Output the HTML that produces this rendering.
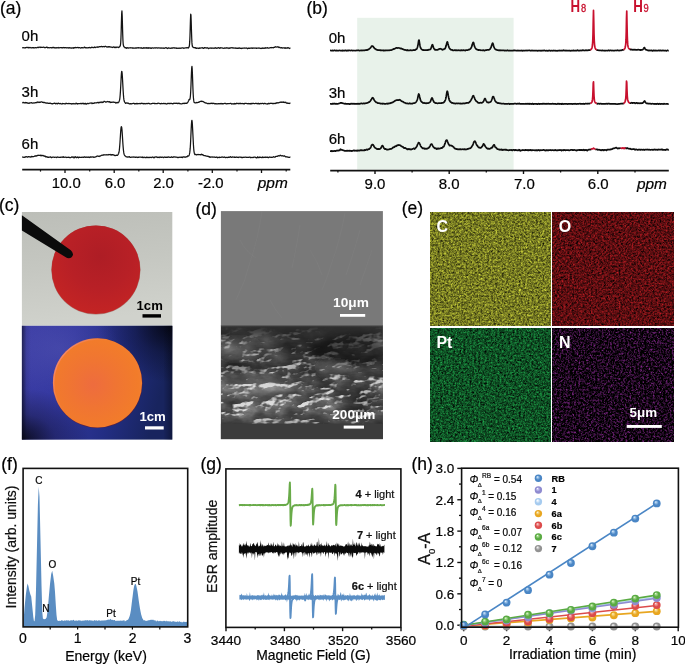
<!DOCTYPE html><html><head><meta charset="utf-8"><style>html,body{margin:0;padding:0;background:#fff;}svg{display:block;will-change:transform;}text{font-family:"Liberation Sans",sans-serif;} .k{stroke:#111;stroke-width:0.22px;}</style></head><body>
<svg width="685" height="664" viewBox="0 0 685 664">
<rect width="685" height="664" fill="#fff"/>
<g id="pa">
<text x="0" y="14.3" font-size="17.5" text-anchor="start" class="k">(a)</text>
<text x="21.6" y="41" font-size="15" text-anchor="start" class="k">0h</text>
<text x="21.6" y="96.7" font-size="15" text-anchor="start" class="k">3h</text>
<text x="21.6" y="149.2" font-size="15" text-anchor="start" class="k">6h</text>
<path d="M22.2 47.83L22.45 47.8L22.7 47.7L22.95 47.61L23.2 47.53L23.45 47.64L23.7 47.85L23.95 47.91L24.2 47.83L24.45 47.73L24.7 47.83L24.95 47.91L25.2 47.74L25.45 47.7L25.7 47.77L25.95 47.72L26.2 47.67L26.45 47.37L26.7 47.37L26.95 47.21L27.2 47.41L27.45 47.41L27.7 47.65L27.95 47.7L28.2 47.83L28.45 47.5L28.7 47.42L28.95 47.43L29.2 47.74L29.45 47.62L29.7 47.57L29.95 47.45L30.2 47.53L30.45 47.71L30.7 47.73L30.95 47.81L31.2 47.79L31.45 47.82L31.7 47.8L31.95 47.71L32.2 47.78L32.45 47.65L32.7 47.64L32.95 47.78L33.2 47.74L33.45 47.83L33.7 47.67L33.95 47.77L34.2 47.9L34.45 47.96L34.7 47.89L34.95 47.65L35.2 47.62L35.45 47.72L35.7 47.78L35.95 47.69L36.2 47.77L36.45 47.85L36.7 47.76L36.95 47.69L37.2 47.45L37.45 47.52L37.7 47.34L37.95 47.31L38.2 47.25L38.45 47.48L38.7 47.66L38.95 47.51L39.2 47.29L39.45 47.22L39.7 47.13L39.95 47.15L40.2 47.05L40.45 47.42L40.7 47.54L40.95 47.5L41.2 47.31L41.45 47.19L41.7 47.41L41.95 47.4L42.2 47.39L42.45 47.26L42.7 47.3L42.95 47.32L43.2 47.15L43.45 47.18L43.7 47.16L43.95 47.44L44.2 47.53L44.45 47.59L44.7 47.55L44.95 47.45L45.2 47.6L45.45 47.54L45.7 47.66L45.95 47.41L46.2 47.47L46.45 47.22L46.7 47.15L46.95 47.1L47.2 47.21L47.45 47.48L47.7 47.79L47.95 47.82L48.2 47.74L48.45 47.52L48.7 47.68L48.95 47.75L49.2 47.71L49.45 47.75L49.7 47.84L49.95 47.75L50.2 47.67L50.45 47.62L50.7 47.62L50.95 47.67L51.2 47.57L51.45 47.81L51.7 47.81L51.95 47.92L52.2 47.74L52.45 47.71L52.7 47.47L52.95 47.41L53.2 47.47L53.45 47.45L53.7 47.68L53.95 47.44L54.2 47.78L54.45 47.58L54.7 47.88L54.95 47.8L55.2 47.72L55.45 47.78L55.7 47.93L55.95 48.1L56.2 47.93L56.45 47.74L56.7 47.63L56.95 47.79L57.2 47.75L57.45 47.86L57.7 47.64L57.95 47.63L58.2 47.48L58.45 47.72L58.7 47.78L58.95 48.04L59.2 47.89L59.45 47.83L59.7 47.68L59.95 47.61L60.2 47.7L60.45 47.69L60.7 47.72L60.95 47.56L61.2 47.51L61.45 47.74L61.7 47.82L61.95 47.79L62.2 47.64L62.45 47.88L62.7 47.83L62.95 47.77L63.2 47.53L63.45 47.49L63.7 47.6L63.95 47.68L64.2 47.89L64.45 47.72L64.7 47.77L64.95 47.7L65.2 47.77L65.45 47.59L65.7 47.51L65.95 47.68L66.2 47.75L66.45 47.93L66.7 47.77L66.95 47.78L67.2 47.68L67.45 47.76L67.7 47.78L67.95 47.82L68.2 47.75L68.45 47.92L68.7 48.02L68.95 48.06L69.2 47.86L69.45 47.62L69.7 47.68L69.95 47.86L70.2 48L70.45 47.96L70.7 47.94L70.95 48.05L71.2 48.09L71.45 47.95L71.7 48.03L71.95 47.78L72.2 47.93L72.45 47.81L72.7 48.06L72.95 48.18L73.2 48.29L73.45 48.06L73.7 47.64L73.95 47.56L74.2 47.58L74.45 47.77L74.7 47.78L74.95 47.7L75.2 47.46L75.45 47.39L75.7 47.59L75.95 47.8L76.2 47.78L76.45 47.67L76.7 47.52L76.95 47.5L77.2 47.49L77.45 47.47L77.7 47.55L77.95 47.66L78.2 47.89L78.45 47.72L78.7 47.65L78.95 47.49L79.2 47.5L79.45 47.6L79.7 47.62L79.95 47.77L80.2 47.78L80.45 48.11L80.7 47.91L80.95 47.97L81.2 47.72L81.45 47.88L81.7 47.61L81.95 47.56L82.2 47.65L82.45 47.81L82.7 47.87L82.95 47.75L83.2 47.89L83.45 47.88L83.7 47.65L83.95 47.44L84.2 47.21L84.45 47.08L84.7 47.1L84.95 47.48L85.2 47.86L85.45 47.78L85.7 47.52L85.95 47.64L86.2 47.79L86.45 47.9L86.7 47.76L86.95 47.74L87.2 47.82L87.45 47.88L87.7 47.9L87.95 47.68L88.2 47.66L88.45 47.55L88.7 47.79L88.95 47.58L89.2 47.63L89.45 47.49L89.7 47.47L89.95 47.68L90.2 47.84L90.45 47.93L90.7 47.8L90.95 47.66L91.2 47.4L91.45 47.32L91.7 47.25L91.95 47.55L92.2 47.38L92.45 47.34L92.7 47.29L92.95 47.53L93.2 47.59L93.45 47.58L93.7 47.6L93.95 47.48L94.2 47.41L94.45 47L94.7 47.22L94.95 47.36L95.2 47.65L95.45 47.52L95.7 47.4L95.95 47.29L96.2 47.16L96.45 47.09L96.7 47.05L96.95 47.23L97.2 47.29L97.45 47.25L97.7 46.98L97.95 46.82L98.2 46.98L98.45 47.09L98.7 47.14L98.95 46.89L99.2 46.68L99.45 46.64L99.7 46.76L99.95 46.82L100.2 46.78L100.45 46.64L100.7 46.67L100.95 46.5L101.2 46.48L101.45 46.35L101.7 46.63L101.95 46.55L102.2 46.71L102.45 46.77L102.7 46.81L102.95 46.67L103.2 46.51L103.45 46.54L103.7 46.49L103.95 46.52L104.2 46.76L104.45 46.84L104.7 46.77L104.95 46.42L105.2 46.49L105.45 46.38L105.7 46.38L105.95 46.5L106.2 46.55L106.45 46.82L106.7 46.86L106.95 47.01L107.2 46.97L107.45 47.03L107.7 47L107.95 46.89L108.2 46.52L108.45 46.57L108.7 46.83L108.95 47.12L109.2 47.03L109.45 46.78L109.7 46.64L109.95 46.8L110.2 46.9L110.45 47.01L110.7 47.04L110.95 47.05L111.2 47.04L111.45 47.06L111.7 47.11L111.95 47.19L112.2 47.41L112.45 47.51L112.7 47.48L112.95 47.09L113.2 47.08L113.45 46.87L113.7 46.92L113.95 46.99L114.2 47.32L114.45 47.48L114.7 47.2L114.95 47.08L115.2 47.03L115.45 47.32L115.7 47.63L115.95 47.74L116.2 47.58L116.45 47.19L116.7 47.15L116.95 47.22L117.2 47.22L117.45 47.23L117.7 47.1L117.95 47.34L118.2 47.42L118.45 47.65L118.7 47.42L118.95 47.29L119.2 47.08L119.45 46.99L119.7 46.75L119.95 46.4L120.2 45.84L120.45 44.96L120.7 42.71L120.95 38.11L121.2 30.41L121.45 20.83L121.7 13.09L121.95 10.92L122.2 15.82L122.45 24.71L122.7 33.86L122.95 40.42L123.2 44.03L123.45 45.53L123.7 46.32L123.95 46.85L124.2 46.92L124.45 47.11L124.7 47.23L124.95 47.69L125.2 47.85L125.45 47.8L125.7 47.55L125.95 47.93L126.2 47.98L126.45 48.32L126.7 47.97L126.95 48.03L127.2 47.67L127.45 47.72L127.7 47.82L127.95 47.88L128.2 48.07L128.45 48L128.7 48.03L128.95 47.86L129.2 47.77L129.45 47.89L129.7 47.89L129.95 47.86L130.2 47.83L130.45 47.78L130.7 47.73L130.95 47.76L131.2 47.99L131.45 47.96L131.7 47.97L131.95 47.79L132.2 47.86L132.45 47.96L132.7 47.98L132.95 48.27L133.2 48.08L133.45 48.19L133.7 47.99L133.95 47.99L134.2 48.02L134.45 48.03L134.7 48.19L134.95 48.12L135.2 48.01L135.45 47.93L135.7 47.94L135.95 48.18L136.2 48.09L136.45 48.08L136.7 47.76L136.95 47.95L137.2 47.83L137.45 47.82L137.7 47.73L137.95 47.99L138.2 48.02L138.45 47.9L138.7 47.69L138.95 47.74L139.2 47.91L139.45 47.9L139.7 47.95L139.95 47.97L140.2 47.98L140.45 48.11L140.7 47.93L140.95 47.88L141.2 47.62L141.45 47.95L141.7 48.05L141.95 48.29L142.2 48.07L142.45 48.13L142.7 48.11L142.95 48.33L143.2 48.19L143.45 48.01L143.7 47.67L143.95 47.63L144.2 47.9L144.45 48.11L144.7 48.16L144.95 47.91L145.2 47.77L145.45 48.05L145.7 47.88L145.95 47.98L146.2 47.7L146.45 48.15L146.7 47.96L146.95 48.05L147.2 47.75L147.45 47.77L147.7 47.96L147.95 48.23L148.2 48.3L148.45 48.04L148.7 47.72L148.95 47.72L149.2 47.82L149.45 48.03L149.7 48.07L149.95 47.94L150.2 47.94L150.45 47.95L150.7 48.23L150.95 48.45L151.2 48.44L151.45 48.2L151.7 47.98L151.95 47.92L152.2 47.93L152.45 47.93L152.7 47.88L152.95 48.03L153.2 48.03L153.45 48.18L153.7 48.09L153.95 48.01L154.2 47.87L154.45 47.87L154.7 47.89L154.95 48.03L155.2 48.05L155.45 47.96L155.7 47.94L155.95 47.78L156.2 47.87L156.45 47.83L156.7 47.74L156.95 47.83L157.2 47.88L157.45 48.1L157.7 48.04L157.95 47.98L158.2 47.88L158.45 47.9L158.7 47.88L158.95 48.01L159.2 47.9L159.45 47.99L159.7 48L159.95 48.12L160.2 48.04L160.45 48.09L160.7 47.91L160.95 48.02L161.2 47.98L161.45 48.21L161.7 48.2L161.95 48.09L162.2 48.03L162.45 48.06L162.7 48.19L162.95 48.24L163.2 47.99L163.45 48L163.7 48.11L163.95 48.41L164.2 48.37L164.45 48.05L164.7 48.05L164.95 48L165.2 47.89L165.45 47.82L165.7 47.66L165.95 47.81L166.2 47.69L166.45 48.01L166.7 48.12L166.95 48.23L167.2 48.28L167.45 48.51L167.7 48.47L167.95 48.23L168.2 47.9L168.45 47.83L168.7 47.91L168.95 48.1L169.2 48.2L169.45 48.26L169.7 48.13L169.95 48.11L170.2 48.08L170.45 48.23L170.7 48.36L170.95 48.33L171.2 48.22L171.45 48.14L171.7 47.97L171.95 47.82L172.2 47.84L172.45 47.95L172.7 48.18L172.95 47.91L173.2 47.88L173.45 47.77L173.7 47.87L173.95 47.65L174.2 47.68L174.45 47.88L174.7 48.19L174.95 48.16L175.2 48.05L175.45 48.09L175.7 47.84L175.95 47.83L176.2 47.8L176.45 48.2L176.7 48.42L176.95 48.48L177.2 48.44L177.45 48.28L177.7 48.23L177.95 48.13L178.2 48.09L178.45 48.11L178.7 48.4L178.95 48.38L179.2 48.27L179.45 48.06L179.7 48.23L179.95 48.23L180.2 48.38L180.45 48.11L180.7 48.09L180.95 47.89L181.2 48.09L181.45 48.23L181.7 48.08L181.95 47.88L182.2 47.79L182.45 47.89L182.7 47.81L182.95 47.89L183.2 48.02L183.45 48.25L183.7 48.06L183.95 48.12L184.2 48.03L184.45 48.2L184.7 47.97L184.95 47.88L185.2 47.77L185.45 47.78L185.7 47.94L185.95 47.93L186.2 47.88L186.45 47.79L186.7 47.69L186.95 47.87L187.2 47.75L187.45 47.69L187.7 47.67L187.95 47.93L188.2 48.13L188.45 47.88L188.7 47.48L188.95 47.16L189.2 46.57L189.45 45.08L189.7 41.92L189.95 36.46L190.2 28.44L190.45 19.73L190.7 14.17L190.95 14.99L191.2 21.36L191.45 30.18L191.7 37.76L191.95 42.9L192.2 45.45L192.45 46.63L192.7 46.93L192.95 47.17L193.2 47.14L193.45 47.48L193.7 47.61L193.95 47.71L194.2 47.59L194.45 47.61L194.7 47.82L194.95 47.71L195.2 47.64L195.45 47.54L195.7 48.04L195.95 48.29L196.2 48.33L196.45 48.13L196.7 48.27L196.95 48.27L197.2 48.15L197.45 48.06L197.7 48.16L197.95 48.28L198.2 48.09L198.45 48.26L198.7 48.39L198.95 48.52L199.2 48.38L199.45 47.94L199.7 47.96L199.95 47.86L200.2 48.15L200.45 48.16L200.7 48.14L200.95 47.9L201.2 47.86L201.45 47.82L201.7 47.98L201.95 47.87L202.2 47.91L202.45 47.68L202.7 47.9L202.95 47.97L203.2 48.37L203.45 48.46L203.7 48.43L203.95 48.09L204.2 47.76L204.45 47.62L204.7 47.77L204.95 47.89L205.2 47.79L205.45 47.89L205.7 47.71L205.95 47.98L206.2 47.92L206.45 48.06L206.7 48.02L206.95 47.97L207.2 47.94L207.45 47.75L207.7 47.81L207.95 48.1L208.2 48.53L208.45 48.68L208.7 48.55L208.95 48.24L209.2 48.26L209.45 48.17L209.7 48.24L209.95 48.04L210.2 48.06L210.45 48.01L210.7 48.04L210.95 47.9L211.2 47.91L211.45 48.18L211.7 48.3L211.95 48.32L212.2 48.11L212.45 48.21L212.7 48.1L212.95 48.02L213.2 48.04L213.45 48.2L213.7 48.24L213.95 48.32L214.2 48.21L214.45 48.2L214.7 47.96L214.95 48.21L215.2 47.98L215.45 47.96L215.7 47.72L215.95 48.03L216.2 48.18L216.45 48.4L216.7 48.14L216.95 48.16L217.2 47.96L217.45 48.07L217.7 48.04L217.95 47.97L218.2 47.81L218.45 47.7L218.7 47.63L218.95 47.8L219.2 47.89L219.45 48.1L219.7 48.36L219.95 48.29L220.2 48.08L220.45 47.8L220.7 47.72L220.95 47.76L221.2 47.9L221.45 47.93L221.7 47.84L221.95 47.87L222.2 47.93L222.45 48.2L222.7 48.14L222.95 48.22L223.2 48.19L223.45 48.32L223.7 48.29L223.95 48.33L224.2 48.24L224.45 48.02L224.7 47.95L224.95 47.88L225.2 48.07L225.45 47.93L225.7 48.15L225.95 48.14L226.2 48.16L226.45 47.77L226.7 47.72L226.95 47.85L227.2 47.97L227.45 48.01L227.7 47.95L227.95 48.1L228.2 48L228.45 48.07L228.7 48.12L228.95 48.51L229.2 48.39L229.45 48.22L229.7 47.83L229.95 48.04L230.2 47.96L230.45 48L230.7 47.9L230.95 47.92L231.2 47.87L231.45 47.82L231.7 47.68L231.95 47.63L232.2 47.63L232.45 47.9L232.7 48.04L232.95 47.89L233.2 47.81L233.45 47.93L233.7 48.2L233.95 48.25L234.2 48.05L234.45 48.06L234.7 48L234.95 47.97L235.2 47.8L235.45 48.04L235.7 48.2L235.95 48.43L236.2 48.2L236.45 48.29L236.7 48.08L236.95 48.12L237.2 48.3L237.45 48.46L237.7 48.42L237.95 48.12L238.2 48.07L238.45 48.27L238.7 48.22L238.95 47.98L239.2 47.8L239.45 47.86L239.7 48.08L239.95 48.27L240.2 48.3L240.45 48.38L240.7 48.1L240.95 48.17L241.2 48.32L241.45 48.53L241.7 48.46L241.95 48.24L242.2 48.35L242.45 48.22L242.7 48.19L242.95 48.03L243.2 48.23L243.45 48.19L243.7 48.17L243.95 48.05L244.2 48.12L244.45 48.06L244.7 47.96L244.95 47.95L245.2 48.06L245.45 48.09L245.7 48.06L245.95 48.03L246.2 48.02L246.45 48.07L246.7 47.87L246.95 48.13L247.2 48.38L247.45 48.74L247.7 48.58L247.95 48.39L248.2 48.17L248.45 48.21L248.7 48.3L248.95 48.14L249.2 48.25L249.45 48.06L249.7 48.38L249.95 48.28L250.2 48.21L250.45 48.07L250.7 48.14L250.95 48.22L251.2 48.25L251.45 48.1L251.7 47.85L251.95 47.89L252.2 48.04L252.45 48.3L252.7 48.21L252.95 48.24L253.2 48.17L253.45 48.08L253.7 47.94L253.95 48.13L254.2 48.05L254.45 48.21L254.7 48L254.95 48.03L255.2 48.04L255.45 48.11L255.7 48.08L255.95 47.89L256.2 48.01L256.45 48.3L256.7 48.3L256.95 48.24L257.2 48.18L257.45 48.15L257.7 48.15L257.95 48.06L258.2 48.07L258.45 47.97L258.7 47.99L258.95 48.05L259.2 48.04L259.45 47.99L259.7 48.11L259.95 48.2L260.2 48.36L260.45 48.37L260.7 48.41L260.95 48.57L261.2 48.34L261.45 48.36L261.7 48.06L261.95 48.37L262.2 48.47L262.45 48.28L262.7 47.95L262.95 47.83L263.2 48.15L263.45 48.35L263.7 48.26L263.95 48.22L264.2 48.21L264.45 48.21L264.7 48.27L264.95 47.93L265.2 48.01L265.45 47.76L265.7 48.13L265.95 48.03L266.2 48.04L266.45 47.96L266.7 47.87L266.95 47.86L267.2 47.62L267.45 47.71L267.7 47.87L267.95 48.15L268.2 48.13L268.45 48.17L268.7 48.04L268.95 48.02L269.2 47.94L269.45 48.04L269.7 47.99L269.95 47.87L270.2 47.7L270.45 47.72L270.7 47.61L270.95 47.72L271.2 47.63L271.45 47.75L271.7 47.5L271.95 47.56L272.2 47.52L272.45 47.53L272.7 47.69L272.95 47.66L273.2 47.88L273.45 47.73L273.7 47.58L273.95 47.3L274.2 47.21L274.45 47.28L274.7 47.31L274.95 47.21L275.2 46.98L275.45 46.94L275.7 46.71L275.95 46.96L276.2 46.9L276.45 47.08L276.7 47.02L276.95 47.15L277.2 47.08L277.45 46.92L277.7 46.78L277.95 46.73L278.2 46.85L278.45 47.19L278.7 47.33L278.95 47.55L279.2 47.24L279.45 47.43L279.7 47.35L279.95 47.54L280.2 47.6L280.45 47.88L280.7 47.94L280.95 47.92L281.2 47.64L281.45 47.71L281.7 47.7L281.95 47.94L282.2 47.89L282.45 48.15L282.7 47.84L282.95 47.84L283.2 47.76L283.45 47.97L283.7 47.93L283.95 47.81L284.2 47.7L284.45 47.82L284.7 48.15L284.95 48.46L285.2 48.32L285.45 47.95L285.7 47.77L285.95 48.03L286.2 48.04L286.45 48.01L286.7 48L286.95 48.2L287.2 48.24L287.45 48.01L287.7 47.73L287.95 47.7L288.2 47.57L288.45 47.84L288.7 47.85L288.95 48.16L289.2 48.3L289.45 48.51L289.7 48.32L289.95 48.2L290.2 48.2L290.45 48.33" fill="none" stroke="#141414" stroke-width="1.25" stroke-linejoin="round"/>
<path d="M22.2 102.6L22.45 102.59L22.7 102.49L22.95 102.77L23.2 102.51L23.45 102.56L23.7 102.36L23.95 102.62L24.2 102.77L24.45 102.83L24.7 102.84L24.95 102.96L25.2 102.68L25.45 102.7L25.7 102.49L25.95 102.76L26.2 102.79L26.45 102.77L26.7 102.69L26.95 102.76L27.2 102.91L27.45 102.91L27.7 103.06L27.95 103.29L28.2 103.21L28.45 103.01L28.7 103.04L28.95 103.31L29.2 103.3L29.45 102.99L29.7 102.85L29.95 102.8L30.2 102.77L30.45 102.92L30.7 102.91L30.95 102.93L31.2 102.7L31.45 102.75L31.7 102.7L31.95 102.83L32.2 102.96L32.45 103.11L32.7 103.19L32.95 103.11L33.2 103.07L33.45 102.99L33.7 102.91L33.95 102.98L34.2 102.86L34.45 103.04L34.7 102.93L34.95 102.95L35.2 102.71L35.45 102.6L35.7 102.67L35.95 102.61L36.2 102.78L36.45 102.63L36.7 102.4L36.95 102.13L37.2 101.93L37.45 102.14L37.7 102.29L37.95 102.54L38.2 102.33L38.45 102.07L38.7 102.14L38.95 102.29L39.2 102.33L39.45 102.21L39.7 102.43L39.95 102.55L40.2 102.43L40.45 102.17L40.7 102.09L40.95 102.02L41.2 101.87L41.45 101.83L41.7 101.82L41.95 101.98L42.2 102.04L42.45 102.48L42.7 102.45L42.95 102.48L43.2 102.26L43.45 102.48L43.7 102.69L43.95 102.72L44.2 102.65L44.45 102.41L44.7 102.42L44.95 102.65L45.2 102.91L45.45 102.95L45.7 102.9L45.95 102.95L46.2 103.17L46.45 103.19L46.7 103.2L46.95 102.96L47.2 102.92L47.45 103.17L47.7 103.15L47.95 103.27L48.2 103.12L48.45 103.35L48.7 103.31L48.95 103.29L49.2 103.34L49.45 103.44L49.7 103.23L49.95 103.23L50.2 103.14L50.45 103.3L50.7 103.35L50.95 103.53L51.2 103.71L51.45 103.62L51.7 103.66L51.95 103.7L52.2 103.89L52.45 103.95L52.7 103.8L52.95 103.65L53.2 103.59L53.45 103.45L53.7 103.49L53.95 103.34L54.2 103.46L54.45 103.23L54.7 103.19L54.95 103.23L55.2 103.54L55.45 103.76L55.7 103.76L55.95 103.64L56.2 103.43L56.45 103.48L56.7 103.48L56.95 103.65L57.2 103.81L57.45 103.83L57.7 103.59L57.95 103.29L58.2 103.12L58.45 103.16L58.7 103.41L58.95 103.61L59.2 103.57L59.45 103.5L59.7 103.62L59.95 103.76L60.2 103.6L60.45 103.42L60.7 103.49L60.95 103.65L61.2 103.83L61.45 103.93L61.7 104L61.95 104.02L62.2 103.96L62.45 103.64L62.7 103.47L62.95 103.43L63.2 103.56L63.45 103.68L63.7 103.61L63.95 103.54L64.2 103.61L64.45 103.73L64.7 103.86L64.95 103.8L65.2 103.85L65.45 103.86L65.7 103.47L65.95 103.26L66.2 103.17L66.45 103.34L66.7 103.45L66.95 103.64L67.2 103.7L67.45 103.54L67.7 103.64L67.95 103.64L68.2 103.63L68.45 103.42L68.7 103.53L68.95 103.59L69.2 103.65L69.45 103.55L69.7 103.52L69.95 103.45L70.2 103.6L70.45 103.63L70.7 103.65L70.95 103.55L71.2 103.95L71.45 103.83L71.7 104L71.95 103.67L72.2 103.73L72.45 103.66L72.7 103.77L72.95 103.93L73.2 103.88L73.45 103.71L73.7 103.5L73.95 103.52L74.2 103.66L74.45 103.88L74.7 103.87L74.95 103.93L75.2 103.94L75.45 103.91L75.7 103.62L75.95 103.3L76.2 103.11L76.45 103.47L76.7 103.51L76.95 103.82L77.2 103.71L77.45 104L77.7 103.98L77.95 103.9L78.2 103.67L78.45 103.57L78.7 103.6L78.95 103.56L79.2 103.55L79.45 103.71L79.7 103.58L79.95 103.61L80.2 103.32L80.45 103.54L80.7 103.6L80.95 103.7L81.2 103.77L81.45 103.49L81.7 103.62L81.95 103.46L82.2 103.72L82.45 103.61L82.7 103.38L82.95 103.22L83.2 103.22L83.45 103.7L83.7 103.82L83.95 103.82L84.2 103.48L84.45 103.61L84.7 103.79L84.95 103.95L85.2 103.76L85.45 103.36L85.7 103.45L85.95 103.79L86.2 104.06L86.45 104.1L86.7 103.84L86.95 103.64L87.2 103.65L87.45 103.43L87.7 103.52L87.95 103.39L88.2 103.63L88.45 103.7L88.7 103.7L88.95 103.5L89.2 103.29L89.45 103.25L89.7 103.24L89.95 103.23L90.2 103.06L90.45 103.08L90.7 103L90.95 102.98L91.2 102.83L91.45 103.05L91.7 103.24L91.95 103.65L92.2 103.44L92.45 103.29L92.7 103.14L92.95 103.27L93.2 103.29L93.45 103.36L93.7 103.32L93.95 103.2L94.2 102.82L94.45 102.87L94.7 103.02L94.95 102.98L95.2 102.8L95.45 102.79L95.7 102.99L95.95 102.99L96.2 102.97L96.45 102.94L96.7 102.77L96.95 102.62L97.2 102.57L97.45 102.67L97.7 102.42L97.95 102.3L98.2 102.42L98.45 102.81L98.7 102.55L98.95 102.73L99.2 102.37L99.45 102.7L99.7 102.5L99.95 102.71L100.2 102.57L100.45 102.26L100.7 102.18L100.95 102.04L101.2 101.84L101.45 102.07L101.7 102.2L101.95 102.67L102.2 102.2L102.45 102.26L102.7 102.21L102.95 102.47L103.2 102.27L103.45 101.92L103.7 101.7L103.95 101.42L104.2 101.34L104.45 101.36L104.7 101.49L104.95 101.65L105.2 101.62L105.45 101.96L105.7 102.12L105.95 102.12L106.2 102.04L106.45 101.8L106.7 101.77L106.95 101.74L107.2 101.69L107.45 101.71L107.7 101.46L107.95 101.64L108.2 101.87L108.45 101.96L108.7 101.99L108.95 101.72L109.2 101.69L109.45 101.55L109.7 101.85L109.95 102.28L110.2 102.51L110.45 102.29L110.7 102.13L110.95 102.06L111.2 102.27L111.45 102.25L111.7 102.36L111.95 102.37L112.2 102.3L112.45 102.25L112.7 102.01L112.95 102.06L113.2 101.97L113.45 102.18L113.7 102.15L113.95 102.36L114.2 102.45L114.45 102.43L114.7 102.34L114.95 102.2L115.2 102.47L115.45 102.78L115.7 103.01L115.95 102.89L116.2 102.87L116.45 102.59L116.7 102.8L116.95 102.55L117.2 102.39L117.45 102.5L117.7 102.73L117.95 102.88L118.2 102.52L118.45 102.21L118.7 102.18L118.95 101.7L119.2 101.17L119.45 100.4L119.7 99.29L119.95 97.52L120.2 94.64L120.45 91.16L120.7 86.48L120.95 81.7L121.2 76.68L121.45 73.11L121.7 71.41L121.95 71.74L122.2 74.18L122.45 77.81L122.7 82.45L122.95 87.15L123.2 91.46L123.45 95.09L123.7 97.91L123.95 99.91L124.2 101.12L124.45 101.68L124.7 102.1L124.95 102.43L125.2 102.84L125.45 103.24L125.7 103.44L125.95 103.39L126.2 103.12L126.45 102.97L126.7 102.92L126.95 102.86L127.2 102.95L127.45 103.03L127.7 103.27L127.95 103.29L128.2 103.34L128.45 103.13L128.7 103.39L128.95 103.48L129.2 103.85L129.45 103.76L129.7 103.89L129.95 103.66L130.2 103.66L130.45 103.82L130.7 103.71L130.95 103.77L131.2 103.66L131.45 103.86L131.7 103.82L131.95 103.77L132.2 103.65L132.45 103.62L132.7 103.37L132.95 103.37L133.2 103.25L133.45 103.34L133.7 103.44L133.95 103.57L134.2 103.43L134.45 103.65L134.7 103.73L134.95 103.99L135.2 103.72L135.45 103.57L135.7 103.55L135.95 103.64L136.2 103.46L136.45 103.48L136.7 103.78L136.95 103.76L137.2 103.8L137.45 103.49L137.7 103.7L137.95 103.75L138.2 103.56L138.45 103.6L138.7 103.61L138.95 103.73L139.2 103.66L139.45 103.5L139.7 103.47L139.95 103.71L140.2 103.59L140.45 103.75L140.7 103.41L140.95 103.6L141.2 103.48L141.45 103.33L141.7 103.24L141.95 103.13L142.2 103.39L142.45 103.57L142.7 103.57L142.95 103.49L143.2 103.48L143.45 103.63L143.7 103.94L143.95 103.81L144.2 103.69L144.45 103.5L144.7 103.61L144.95 103.83L145.2 103.84L145.45 103.69L145.7 103.57L145.95 103.5L146.2 103.73L146.45 103.74L146.7 103.67L146.95 103.39L147.2 103.47L147.45 103.69L147.7 103.73L147.95 103.56L148.2 103.49L148.45 103.3L148.7 103.23L148.95 103.32L149.2 103.46L149.45 103.66L149.7 103.71L149.95 103.85L150.2 103.81L150.45 103.92L150.7 103.92L150.95 103.87L151.2 103.71L151.45 103.68L151.7 103.62L151.95 103.54L152.2 103.47L152.45 103.34L152.7 103.31L152.95 103.29L153.2 103.48L153.45 103.3L153.7 103.29L153.95 103.34L154.2 103.55L154.45 103.45L154.7 103.54L154.95 103.38L155.2 103.49L155.45 103.57L155.7 103.63L155.95 103.6L156.2 103.57L156.45 103.61L156.7 103.63L156.95 103.53L157.2 103.7L157.45 103.47L157.7 103.35L157.95 103.1L158.2 103.23L158.45 103.23L158.7 103.25L158.95 103.42L159.2 103.41L159.45 103.53L159.7 103.54L159.95 103.56L160.2 103.56L160.45 103.71L160.7 103.83L160.95 103.74L161.2 103.54L161.45 103.39L161.7 103.5L161.95 103.61L162.2 103.62L162.45 103.56L162.7 103.59L162.95 103.63L163.2 103.68L163.45 103.42L163.7 103.39L163.95 103.3L164.2 103.68L164.45 103.73L164.7 103.73L164.95 103.41L165.2 103.44L165.45 103.57L165.7 103.66L165.95 103.92L166.2 103.87L166.45 104.02L166.7 103.81L166.95 103.85L167.2 103.52L167.45 103.47L167.7 103.39L167.95 103.53L168.2 103.29L168.45 103.4L168.7 103.39L168.95 103.59L169.2 103.45L169.45 103.47L169.7 103.57L169.95 103.45L170.2 103.37L170.45 103.36L170.7 103.52L170.95 103.58L171.2 103.48L171.45 103.37L171.7 103.41L171.95 103.61L172.2 103.58L172.45 103.77L172.7 103.73L172.95 103.8L173.2 103.71L173.45 103.44L173.7 103.29L173.95 103.05L174.2 103.17L174.45 103.33L174.7 103.42L174.95 103.48L175.2 103.27L175.45 103.39L175.7 103.21L175.95 103.38L176.2 103.27L176.45 103.3L176.7 103.22L176.95 103.15L177.2 103.28L177.45 103.51L177.7 103.69L177.95 103.58L178.2 103.41L178.45 103.24L178.7 103.4L178.95 103.26L179.2 103.51L179.45 103.4L179.7 103.54L179.95 103.43L180.2 103.61L180.45 103.74L180.7 103.82L180.95 103.71L181.2 103.81L181.45 103.83L181.7 103.8L181.95 103.82L182.2 103.69L182.45 103.71L182.7 103.43L182.95 103.37L183.2 103.45L183.45 103.39L183.7 103.5L183.95 103.44L184.2 103.62L184.45 103.28L184.7 103.21L184.95 103.25L185.2 103.4L185.45 103.41L185.7 103.05L185.95 103.19L186.2 103.08L186.45 103.42L186.7 103.07L186.95 103.14L187.2 102.86L187.45 102.93L187.7 102.41L187.95 101.92L188.2 101.56L188.45 101L188.7 100.46L188.95 99.75L189.2 99.46L189.45 99.55L189.7 99.65L189.95 99.25L190.2 97.75L190.45 95.28L190.7 91.43L190.95 85.97L191.2 79.15L191.45 72.4L191.7 67.77L191.95 66.35L192.2 68.93L192.45 74.67L192.7 81.74L192.95 88.92L193.2 94.25L193.45 98.04L193.7 100.19L193.95 101.68L194.2 102.46L194.45 102.56L194.7 102.56L194.95 102.76L195.2 102.9L195.45 102.79L195.7 102.76L195.95 102.83L196.2 102.78L196.45 102.58L196.7 102.44L196.95 102.55L197.2 102.55L197.45 102.7L197.7 102.67L197.95 102.4L198.2 102.23L198.45 102.16L198.7 102.31L198.95 102.29L199.2 102.04L199.45 101.79L199.7 101.7L199.95 101.57L200.2 101.37L200.45 101.33L200.7 101.34L200.95 101.53L201.2 101.23L201.45 101.16L201.7 101.08L201.95 101.22L202.2 101.46L202.45 101.38L202.7 101.57L202.95 101.47L203.2 101.69L203.45 101.77L203.7 102L203.95 102.04L204.2 102.28L204.45 102.29L204.7 102.6L204.95 102.51L205.2 102.87L205.45 102.89L205.7 103.07L205.95 102.9L206.2 103.17L206.45 103.03L206.7 103.14L206.95 103.29L207.2 103.47L207.45 103.58L207.7 103.66L207.95 103.7L208.2 103.62L208.45 103.48L208.7 103.32L208.95 103.57L209.2 103.64L209.45 103.72L209.7 103.53L209.95 103.42L210.2 103.5L210.45 103.46L210.7 103.51L210.95 103.28L211.2 103.35L211.45 103.24L211.7 103.44L211.95 103.53L212.2 103.44L212.45 103.54L212.7 103.48L212.95 103.55L213.2 103.32L213.45 103.21L213.7 103.33L213.95 103.37L214.2 103.52L214.45 103.6L214.7 103.84L214.95 104.01L215.2 103.85L215.45 103.61L215.7 103.54L215.95 103.61L216.2 103.87L216.45 103.75L216.7 103.86L216.95 103.83L217.2 103.91L217.45 103.83L217.7 103.78L217.95 103.72L218.2 103.69L218.45 103.76L218.7 103.67L218.95 103.85L219.2 103.72L219.45 103.89L219.7 103.68L219.95 103.66L220.2 103.79L220.45 103.76L220.7 103.64L220.95 103.32L221.2 103.32L221.45 103.72L221.7 103.83L221.95 103.97L222.2 103.61L222.45 103.62L222.7 103.59L222.95 103.92L223.2 103.8L223.45 103.79L223.7 103.62L223.95 103.58L224.2 103.51L224.45 103.44L224.7 103.29L224.95 103.36L225.2 103.45L225.45 103.67L225.7 103.45L225.95 103.56L226.2 103.64L226.45 103.91L226.7 103.91L226.95 103.81L227.2 103.79L227.45 103.6L227.7 103.65L227.95 103.55L228.2 103.58L228.45 103.71L228.7 103.74L228.95 103.72L229.2 103.56L229.45 103.58L229.7 103.5L229.95 103.47L230.2 103.42L230.45 103.46L230.7 103.51L230.95 103.44L231.2 103.74L231.45 103.91L231.7 104.04L231.95 103.8L232.2 103.9L232.45 103.88L232.7 103.88L232.95 103.66L233.2 103.66L233.45 103.83L233.7 103.79L233.95 104L234.2 103.73L234.45 103.82L234.7 103.46L234.95 103.77L235.2 103.65L235.45 103.76L235.7 103.66L235.95 103.84L236.2 103.72L236.45 103.57L236.7 103.26L236.95 103.41L237.2 103.44L237.45 103.56L237.7 103.46L237.95 103.43L238.2 103.38L238.45 103.53L238.7 103.75L238.95 103.61L239.2 103.53L239.45 103.31L239.7 103.59L239.95 103.49L240.2 103.53L240.45 103.35L240.7 103.54L240.95 103.57L241.2 103.67L241.45 103.63L241.7 103.59L241.95 103.43L242.2 103.46L242.45 103.52L242.7 103.68L242.95 103.73L243.2 103.84L243.45 103.73L243.7 103.52L243.95 103.56L244.2 103.85L244.45 103.86L244.7 103.54L244.95 103.3L245.2 103.33L245.45 103.28L245.7 103.36L245.95 103.27L246.2 103.31L246.45 103.41L246.7 103.48L246.95 103.62L247.2 103.58L247.45 103.76L247.7 103.73L247.95 103.66L248.2 103.47L248.45 103.71L248.7 103.78L248.95 103.75L249.2 103.54L249.45 103.55L249.7 103.74L249.95 103.95L250.2 104.03L250.45 103.91L250.7 103.68L250.95 103.37L251.2 103.47L251.45 103.49L251.7 103.96L251.95 103.94L252.2 103.68L252.45 103.29L252.7 103.29L252.95 103.39L253.2 103.36L253.45 103.31L253.7 103.49L253.95 103.58L254.2 103.51L254.45 103.57L254.7 103.52L254.95 103.57L255.2 103.32L255.45 103.29L255.7 103.42L255.95 103.39L256.2 103.48L256.45 103.48L256.7 103.63L256.95 103.67L257.2 103.45L257.45 103.65L257.7 103.75L257.95 103.91L258.2 103.55L258.45 103.3L258.7 103.38L258.95 103.79L259.2 103.95L259.45 103.98L259.7 103.71L259.95 103.65L260.2 103.5L260.45 103.63L260.7 103.47L260.95 103.58L261.2 103.68L261.45 103.73L261.7 103.46L261.95 103.35L262.2 103.4L262.45 103.29L262.7 103.34L262.95 103.43L263.2 103.65L263.45 103.81L263.7 103.81L263.95 103.77L264.2 103.54L264.45 103.4L264.7 103.4L264.95 103.43L265.2 103.49L265.45 103.53L265.7 103.68L265.95 103.84L266.2 103.99L266.45 103.85L266.7 103.81L266.95 103.88L267.2 103.82L267.45 103.98L267.7 103.7L267.95 103.67L268.2 103.29L268.45 103.36L268.7 103.45L268.95 103.78L269.2 103.74L269.45 103.68L269.7 103.47L269.95 103.45L270.2 103.31L270.45 103.36L270.7 103.24L270.95 103.38L271.2 103.37L271.45 103.49L271.7 103.35L271.95 103.18L272.2 103.46L272.45 103.41L272.7 103.74L272.95 103.58L273.2 103.67L273.45 103.34L273.7 103.37L273.95 103.59L274.2 103.59L274.45 103.4L274.7 103.29L274.95 103.41L275.2 103.64L275.45 103.41L275.7 103.39L275.95 102.97L276.2 103.24L276.45 103.04L276.7 102.88L276.95 102.56L277.2 102.58L277.45 103.01L277.7 102.92L277.95 102.88L278.2 102.67L278.45 102.84L278.7 102.78L278.95 102.78L279.2 102.6L279.45 102.52L279.7 102.36L279.95 102.26L280.2 102.15L280.45 102.25L280.7 102.05L280.95 102.27L281.2 102.21L281.45 102.35L281.7 102.11L281.95 101.97L282.2 102.04L282.45 102.22L282.7 102.3L282.95 102.38L283.2 102.25L283.45 102.27L283.7 102.01L283.95 102.2L284.2 102.23L284.45 102.41L284.7 102.51L284.95 102.62L285.2 102.4L285.45 102.32L285.7 102.13L285.95 102.64L286.2 102.98L286.45 103.15L286.7 103.09L286.95 102.82L287.2 102.97L287.45 103.09L287.7 103.32L287.95 103.21L288.2 103.37L288.45 103.15L288.7 103.34L288.95 103.33L289.2 103.55L289.45 103.44L289.7 103.26L289.95 103.15L290.2 103.27L290.45 103.38" fill="none" stroke="#141414" stroke-width="1.25" stroke-linejoin="round"/>
<path d="M22.2 156.98L22.45 157.04L22.7 156.97L22.95 157.19L23.2 157.19L23.45 157.3L23.7 157.29L23.95 157.33L24.2 157.22L24.45 157.38L24.7 157.05L24.95 157.14L25.2 156.9L25.45 157.09L25.7 156.83L25.95 156.64L26.2 156.63L26.45 156.66L26.7 156.94L26.95 156.81L27.2 157.06L27.45 157.03L27.7 157.17L27.95 156.92L28.2 156.8L28.45 156.69L28.7 156.71L28.95 156.79L29.2 156.9L29.45 156.79L29.7 156.75L29.95 156.66L30.2 156.83L30.45 157.07L30.7 157.23L30.95 157.16L31.2 156.73L31.45 156.47L31.7 156.29L31.95 156.53L32.2 156.58L32.45 156.75L32.7 156.56L32.95 156.62L33.2 156.73L33.45 156.68L33.7 156.58L33.95 156.27L34.2 156.39L34.45 156.26L34.7 156.16L34.95 155.83L35.2 155.72L35.45 155.84L35.7 156.23L35.95 156.21L36.2 156.2L36.45 155.86L36.7 155.78L36.95 155.57L37.2 155.45L37.45 155.44L37.7 155.64L37.95 155.39L38.2 155.47L38.45 155.24L38.7 155.36L38.95 155.3L39.2 155.34L39.45 155.41L39.7 155.43L39.95 155.41L40.2 155.16L40.45 155.3L40.7 155.5L40.95 155.88L41.2 155.86L41.45 155.47L41.7 155.39L41.95 155.23L42.2 155.38L42.45 155.57L42.7 155.63L42.95 155.75L43.2 155.49L43.45 155.63L43.7 155.73L43.95 155.95L44.2 155.96L44.45 156.24L44.7 156.26L44.95 156.29L45.2 156.04L45.45 156.39L45.7 156.82L45.95 157.02L46.2 156.86L46.45 156.62L46.7 156.75L46.95 156.78L47.2 157.05L47.45 157.13L47.7 157.28L47.95 157.23L48.2 157.18L48.45 157.38L48.7 157.21L48.95 157.29L49.2 157.08L49.45 157.14L49.7 157.03L49.95 157.06L50.2 157.05L50.45 156.87L50.7 156.79L50.95 157.09L51.2 157.51L51.45 157.7L51.7 157.68L51.95 157.4L52.2 157.32L52.45 157.21L52.7 157.15L52.95 157.05L53.2 157.03L53.45 157.12L53.7 157.12L53.95 157.15L54.2 157.16L54.45 157.4L54.7 157.36L54.95 157.36L55.2 157.25L55.45 157.24L55.7 157.19L55.95 157.13L56.2 157.24L56.45 157.39L56.7 157.59L56.95 157.31L57.2 157.19L57.45 156.99L57.7 157.21L57.95 157.2L58.2 157.19L58.45 157.26L58.7 157.34L58.95 157.26L59.2 157.32L59.45 157.42L59.7 157.49L59.95 157.43L60.2 157.23L60.45 157.43L60.7 157.31L60.95 157.3L61.2 157.12L61.45 157.06L61.7 157.18L61.95 157.24L62.2 157.34L62.45 157.25L62.7 156.8L62.95 156.81L63.2 156.65L63.45 157.11L63.7 157.23L63.95 157.48L64.2 157.41L64.45 157.26L64.7 157.21L64.95 157.19L65.2 157.14L65.45 157.05L65.7 157.25L65.95 157.32L66.2 157.54L66.45 157.37L66.7 157.38L66.95 157.25L67.2 157.33L67.45 157.42L67.7 157.47L67.95 157.34L68.2 157.15L68.45 157.31L68.7 157.36L68.95 157.42L69.2 157.39L69.45 157.55L69.7 157.65L69.95 157.43L70.2 157.58L70.45 157.56L70.7 157.67L70.95 157.38L71.2 157.17L71.45 156.95L71.7 157.02L71.95 157.23L72.2 157.36L72.45 157.17L72.7 156.96L72.95 156.95L73.2 156.91L73.45 157.19L73.7 157.36L73.95 157.86L74.2 157.86L74.45 157.65L74.7 157.22L74.95 156.72L75.2 156.72L75.45 156.8L75.7 157.31L75.95 157.45L76.2 157.54L76.45 157.45L76.7 157.46L76.95 157.56L77.2 157.41L77.45 157.28L77.7 156.95L77.95 157.26L78.2 157.47L78.45 157.72L78.7 157.39L78.95 157.26L79.2 157.14L79.45 157.29L79.7 157.25L79.95 157.33L80.2 157.28L80.45 157.4L80.7 157.37L80.95 157.38L81.2 157.27L81.45 157.19L81.7 157.31L81.95 157.3L82.2 157.38L82.45 157.24L82.7 157.1L82.95 157.17L83.2 157.09L83.45 157.34L83.7 157.28L83.95 157.21L84.2 157.02L84.45 156.91L84.7 157.01L84.95 156.98L85.2 157.12L85.45 157.19L85.7 157.37L85.95 157.23L86.2 157.29L86.45 157.16L86.7 157.2L86.95 157.23L87.2 157.32L87.45 157.27L87.7 157.07L87.95 157.08L88.2 157.17L88.45 157.26L88.7 157.14L88.95 157.16L89.2 157.47L89.45 157.52L89.7 157.49L89.95 157.23L90.2 156.96L90.45 156.92L90.7 156.79L90.95 157.24L91.2 157.18L91.45 157.16L91.7 156.96L91.95 156.99L92.2 157L92.45 157L92.7 156.81L92.95 156.83L93.2 156.9L93.45 157.27L93.7 157.35L93.95 157.27L94.2 157.15L94.45 157.16L94.7 157.29L94.95 157.25L95.2 157.09L95.45 156.89L95.7 156.75L95.95 156.76L96.2 156.72L96.45 156.57L96.7 156.25L96.95 156.1L97.2 155.91L97.45 156.12L97.7 156.15L97.95 156.15L98.2 156.17L98.45 156.22L98.7 156.38L98.95 156.44L99.2 156.5L99.45 156.3L99.7 156.17L99.95 155.94L100.2 156.08L100.45 156.01L100.7 155.82L100.95 155.64L101.2 155.38L101.45 155.32L101.7 155.32L101.95 155.19L102.2 155.1L102.45 155.12L102.7 155.23L102.95 155.34L103.2 155L103.45 154.86L103.7 154.71L103.95 154.88L104.2 154.86L104.45 154.99L104.7 154.93L104.95 154.96L105.2 154.82L105.45 154.87L105.7 154.78L105.95 154.88L106.2 154.83L106.45 154.88L106.7 154.73L106.95 154.72L107.2 154.8L107.45 154.89L107.7 154.87L107.95 154.85L108.2 154.75L108.45 154.85L108.7 154.75L108.95 154.5L109.2 154.52L109.45 154.54L109.7 154.66L109.95 154.5L110.2 154.41L110.45 154.81L110.7 154.92L110.95 154.86L111.2 154.71L111.45 154.64L111.7 155.07L111.95 154.92L112.2 154.74L112.45 154.56L112.7 154.68L112.95 154.93L113.2 154.7L113.45 154.83L113.7 155.11L113.95 155.17L114.2 155.29L114.45 155.06L114.7 155.59L114.95 155.53L115.2 155.6L115.45 155.47L115.7 155.5L115.95 155.46L116.2 155.42L116.45 155.29L116.7 155.14L116.95 155.27L117.2 155.25L117.45 155.32L117.7 155.01L117.95 154.69L118.2 154.32L118.45 153.77L118.7 153.19L118.95 152.29L119.2 150.94L119.45 148.84L119.7 146.16L119.95 142.79L120.2 138.99L120.45 135.09L120.7 131.31L120.95 128.66L121.2 126.89L121.45 126.6L121.7 127.35L121.95 129.65L122.2 132.85L122.45 136.91L122.7 140.79L122.95 144.43L123.2 147.6L123.45 150.24L123.7 152.19L123.95 153.61L124.2 154.46L124.45 155.15L124.7 155.46L124.95 155.7L125.2 155.89L125.45 156.01L125.7 156.4L125.95 156.72L126.2 156.79L126.45 156.87L126.7 156.75L126.95 156.88L127.2 156.85L127.45 156.93L127.7 157.21L127.95 157.17L128.2 157.03L128.45 156.93L128.7 156.88L128.95 157.01L129.2 156.53L129.45 156.71L129.7 156.86L129.95 157.32L130.2 157.34L130.45 157.45L130.7 157.37L130.95 157.38L131.2 157.1L131.45 157.08L131.7 157.1L131.95 157.24L132.2 157.14L132.45 157.06L132.7 157L132.95 157.07L133.2 157.09L133.45 157.07L133.7 156.98L133.95 156.81L134.2 157.07L134.45 157.08L134.7 157.24L134.95 157.11L135.2 157.36L135.45 157.2L135.7 157.09L135.95 157.04L136.2 157.28L136.45 157.24L136.7 157.09L136.95 157.12L137.2 157.33L137.45 157.51L137.7 157.32L137.95 157.24L138.2 157.21L138.45 157.38L138.7 157.19L138.95 157.2L139.2 157.08L139.45 157.1L139.7 157.11L139.95 157.14L140.2 157.22L140.45 157.24L140.7 157.07L140.95 157.12L141.2 157.12L141.45 157.32L141.7 157.46L141.95 157.27L142.2 157.06L142.45 156.96L142.7 157.16L142.95 157.58L143.2 157.62L143.45 157.47L143.7 157.32L143.95 157.15L144.2 157.08L144.45 157.29L144.7 157.43L144.95 157.68L145.2 157.45L145.45 157.62L145.7 157.57L145.95 157.65L146.2 157.32L146.45 157.12L146.7 157.15L146.95 157.44L147.2 157.66L147.45 157.52L147.7 157.37L147.95 157.23L148.2 157.38L148.45 157.44L148.7 157.58L148.95 157.45L149.2 157.49L149.45 157.49L149.7 157.54L149.95 157.28L150.2 157.28L150.45 157.45L150.7 157.52L150.95 157.45L151.2 157.3L151.45 157.47L151.7 157.56L151.95 157.27L152.2 157.21L152.45 157L152.7 157.09L152.95 157.1L153.2 157.2L153.45 157.39L153.7 157.7L153.95 157.82L154.2 157.81L154.45 157.34L154.7 157.18L154.95 156.97L155.2 157.01L155.45 156.96L155.7 157.01L155.95 157.04L156.2 157.05L156.45 156.97L156.7 156.83L156.95 157L157.2 157.17L157.45 157.45L157.7 157.52L157.95 157.47L158.2 157.43L158.45 157.14L158.7 157.45L158.95 157.51L159.2 157.65L159.45 157.25L159.7 157.16L159.95 156.96L160.2 157.01L160.45 157.05L160.7 157.28L160.95 157.31L161.2 157.33L161.45 157.2L161.7 157.29L161.95 157.13L162.2 157.15L162.45 157.17L162.7 157.11L162.95 157.43L163.2 157.31L163.45 157.66L163.7 157.31L163.95 157.45L164.2 157.07L164.45 157.04L164.7 156.99L164.95 157.21L165.2 157.22L165.45 157.34L165.7 157.17L165.95 157.33L166.2 157.23L166.45 157.4L166.7 157.17L166.95 157.32L167.2 157.31L167.45 157.47L167.7 157.16L167.95 156.9L168.2 156.79L168.45 156.97L168.7 157.13L168.95 157.16L169.2 157.03L169.45 157.25L169.7 157.34L169.95 157.34L170.2 157.31L170.45 157.4L170.7 157.48L170.95 157.25L171.2 157.01L171.45 156.87L171.7 156.88L171.95 157.04L172.2 157.21L172.45 157.33L172.7 157.39L172.95 157.37L173.2 157.19L173.45 156.91L173.7 156.82L173.95 156.82L174.2 157L174.45 157.03L174.7 156.99L174.95 156.94L175.2 156.96L175.45 157.11L175.7 157.16L175.95 157.23L176.2 157.19L176.45 157.15L176.7 157.09L176.95 157.33L177.2 157.37L177.45 157.5L177.7 157.44L177.95 157.69L178.2 157.46L178.45 157.53L178.7 157.36L178.95 157.43L179.2 157.16L179.45 157.22L179.7 157.25L179.95 157.25L180.2 157.32L180.45 157.23L180.7 157.12L180.95 157.06L181.2 157.22L181.45 157.46L181.7 157.24L181.95 157.28L182.2 157.2L182.45 157.52L182.7 157.24L182.95 157.2L183.2 156.95L183.45 156.9L183.7 156.77L183.95 156.92L184.2 157.04L184.45 157.02L184.7 156.97L184.95 157.12L185.2 157.29L185.45 157.07L185.7 156.92L185.95 156.89L186.2 156.87L186.45 156.74L186.7 156.67L186.95 156.87L187.2 156.77L187.45 156.3L187.7 155.86L187.95 155.78L188.2 155.95L188.45 156.05L188.7 155.94L188.95 155.57L189.2 155.02L189.45 154.13L189.7 152.92L189.95 150.86L190.2 148.42L190.45 144.65L190.7 139.84L190.95 134.05L191.2 128.56L191.45 123.94L191.7 121.06L191.95 120.27L192.2 122.11L192.45 125.68L192.7 130.51L192.95 135.58L193.2 140.57L193.45 144.99L193.7 148.47L193.95 151.12L194.2 152.61L194.45 153.72L194.7 154.17L194.95 154.54L195.2 154.34L195.45 154.24L195.7 154.37L195.95 154.78L196.2 154.95L196.45 154.94L196.7 154.72L196.95 154.63L197.2 154.44L197.45 154.58L197.7 154.64L197.95 154.67L198.2 154.49L198.45 154.5L198.7 154.55L198.95 154.48L199.2 154.61L199.45 154.6L199.7 154.71L199.95 154.69L200.2 154.79L200.45 154.8L200.7 154.71L200.95 154.5L201.2 154.47L201.45 154.19L201.7 154.5L201.95 154.4L202.2 154.8L202.45 154.62L202.7 154.8L202.95 154.76L203.2 154.96L203.45 155.22L203.7 155.53L203.95 155.62L204.2 155.73L204.45 155.53L204.7 155.65L204.95 155.65L205.2 155.75L205.45 155.74L205.7 155.79L205.95 155.95L206.2 156.08L206.45 156.11L206.7 156.07L206.95 156.19L207.2 156.12L207.45 156.2L207.7 156.36L207.95 156.3L208.2 156.35L208.45 156.3L208.7 156.48L208.95 156.91L209.2 156.58L209.45 156.98L209.7 156.9L209.95 157.35L210.2 157.19L210.45 157.09L210.7 156.9L210.95 157.05L211.2 156.91L211.45 157L211.7 157.05L211.95 157.07L212.2 157.07L212.45 156.99L212.7 156.98L212.95 157.17L213.2 157.21L213.45 157.2L213.7 157.06L213.95 156.94L214.2 157.05L214.45 157.07L214.7 157.08L214.95 157.28L215.2 157.19L215.45 157.39L215.7 157.28L215.95 157.47L216.2 157.29L216.45 157.24L216.7 157.01L216.95 157.14L217.2 157.31L217.45 157.69L217.7 157.78L217.95 157.7L218.2 157.43L218.45 157.32L218.7 157.29L218.95 157.49L219.2 157.55L219.45 157.46L219.7 157.21L219.95 157.26L220.2 157.39L220.45 157.45L220.7 157.43L220.95 157.35L221.2 157.34L221.45 157.15L221.7 156.97L221.95 157.1L222.2 157.01L222.45 157.18L222.7 156.99L222.95 157.21L223.2 157.27L223.45 157.36L223.7 157.08L223.95 157.08L224.2 156.91L224.45 157.14L224.7 157.19L224.95 157.36L225.2 157.56L225.45 157.58L225.7 157.65L225.95 157.43L226.2 157.35L226.45 157.39L226.7 157.5L226.95 157.38L227.2 157.39L227.45 157.32L227.7 157.58L227.95 157.51L228.2 157.31L228.45 157.06L228.7 157.22L228.95 157.39L229.2 157.36L229.45 157.19L229.7 157.12L229.95 157.07L230.2 156.76L230.45 156.62L230.7 156.87L230.95 157.13L231.2 157.29L231.45 157.29L231.7 157.36L231.95 157.15L232.2 157.08L232.45 156.91L232.7 157.01L232.95 156.99L233.2 157.07L233.45 157.18L233.7 157.07L233.95 157.03L234.2 157.3L234.45 157.35L234.7 157.21L234.95 157L235.2 157.2L235.45 157.45L235.7 157.28L235.95 157.33L236.2 157.19L236.45 157.18L236.7 157L236.95 157.08L237.2 157.29L237.45 157.43L237.7 157.45L237.95 157.47L238.2 157.41L238.45 157.51L238.7 157.24L238.95 157.05L239.2 157.04L239.45 157.04L239.7 157.19L239.95 157.08L240.2 157.19L240.45 157.17L240.7 157.35L240.95 157.11L241.2 157.26L241.45 157.37L241.7 157.67L241.95 157.56L242.2 157.38L242.45 157.59L242.7 157.45L242.95 157.38L243.2 157.14L243.45 157.35L243.7 157.36L243.95 157.45L244.2 157.34L244.45 157.33L244.7 157.17L244.95 157.14L245.2 157.12L245.45 157.18L245.7 157.12L245.95 157.32L246.2 157.32L246.45 157.3L246.7 157.25L246.95 157.17L247.2 157.39L247.45 157.26L247.7 157.38L247.95 157.34L248.2 157.28L248.45 157.25L248.7 157.47L248.95 157.28L249.2 157.28L249.45 157.09L249.7 157.23L249.95 157.06L250.2 157.26L250.45 157.34L250.7 157.75L250.95 157.56L251.2 157.61L251.45 157.42L251.7 157.43L251.95 157.56L252.2 157.56L252.45 157.5L252.7 157.38L252.95 157.49L253.2 157.57L253.45 157.43L253.7 157.2L253.95 157.14L254.2 157.19L254.45 157.22L254.7 157.07L254.95 157.11L255.2 157.2L255.45 157.43L255.7 157.46L255.95 157.65L256.2 157.53L256.45 157.9L256.7 157.78L256.95 157.84L257.2 157.41L257.45 156.97L257.7 156.89L257.95 156.97L258.2 157.52L258.45 157.38L258.7 157.58L258.95 157.33L259.2 157.57L259.45 157.05L259.7 157.1L259.95 156.98L260.2 157.35L260.45 157.35L260.7 157.25L260.95 157.28L261.2 157.35L261.45 157.56L261.7 157.56L261.95 157.61L262.2 157.54L262.45 157.26L262.7 156.97L262.95 157.13L263.2 157.37L263.45 157.55L263.7 157.34L263.95 157.26L264.2 157.25L264.45 157.26L264.7 157.18L264.95 157.43L265.2 157.49L265.45 157.5L265.7 157.1L265.95 156.99L266.2 157.14L266.45 157.38L266.7 157.44L266.95 157.36L267.2 157.24L267.45 157.13L267.7 157.28L267.95 157.35L268.2 157.77L268.45 157.53L268.7 157.47L268.95 157.28L269.2 157.33L269.45 157.18L269.7 156.96L269.95 157L270.2 157.19L270.45 157.28L270.7 157.38L270.95 157.44L271.2 157.48L271.45 157.35L271.7 157.19L271.95 157.2L272.2 157.28L272.45 157.29L272.7 157.25L272.95 157.08L273.2 156.88L273.45 156.67L273.7 156.76L273.95 156.94L274.2 157.2L274.45 157.07L274.7 157.07L274.95 156.99L275.2 157.04L275.45 156.81L275.7 156.57L275.95 156.41L276.2 156.3L276.45 156.31L276.7 156.35L276.95 156.34L277.2 156.44L277.45 156.22L277.7 156.19L277.95 155.87L278.2 155.75L278.45 155.77L278.7 155.74L278.95 155.96L279.2 155.94L279.45 155.95L279.7 155.7L279.95 155.43L280.2 155.33L280.45 155.24L280.7 155.5L280.95 155.51L281.2 155.8L281.45 155.79L281.7 155.9L281.95 155.76L282.2 155.73L282.45 155.74L282.7 155.86L282.95 155.8L283.2 155.83L283.45 156.09L283.7 156.22L283.95 156.19L284.2 155.87L284.45 155.78L284.7 156.01L284.95 156.17L285.2 156.44L285.45 156.59L285.7 156.94L285.95 156.86L286.2 156.84L286.45 156.68L286.7 156.89L286.95 156.88L287.2 156.86L287.45 157.05L287.7 157.11L287.95 157.2L288.2 157.2L288.45 157.27L288.7 157.32L288.95 157.25L289.2 157.38L289.45 157.41L289.7 157.38L289.95 157.1L290.2 157.02L290.45 157.05" fill="none" stroke="#141414" stroke-width="1.25" stroke-linejoin="round"/>
<path d="M22.2 169.7H290.3" stroke="#111" stroke-width="1.8"/>
<path d="M65 169.7V173" stroke="#111" stroke-width="1.3"/>
<path d="M114.2 169.7V173" stroke="#111" stroke-width="1.3"/>
<path d="M163.2 169.7V173" stroke="#111" stroke-width="1.3"/>
<path d="M212.3 169.7V173" stroke="#111" stroke-width="1.3"/>
<path d="M261.5 169.7V173" stroke="#111" stroke-width="1.3"/>
<path d="M40.5 169.7V171.6" stroke="#111" stroke-width="1.2"/>
<path d="M89.7 169.7V171.6" stroke="#111" stroke-width="1.2"/>
<path d="M138.8 169.7V171.6" stroke="#111" stroke-width="1.2"/>
<path d="M187.9 169.7V171.6" stroke="#111" stroke-width="1.2"/>
<path d="M237 169.7V171.6" stroke="#111" stroke-width="1.2"/>
<path d="M286.2 169.7V171.6" stroke="#111" stroke-width="1.2"/>
<text x="66.2" y="187.8" font-size="14.9" text-anchor="middle" class="k">10.0</text>
<text x="115" y="187.8" font-size="14.9" text-anchor="middle" class="k">6.0</text>
<text x="163.5" y="187.8" font-size="14.9" text-anchor="middle" class="k">2.0</text>
<text x="210.8" y="187.8" font-size="14.9" text-anchor="middle" class="k">-2.0</text>
<text x="257.8" y="187.8" font-size="15.4" text-anchor="start" font-style="italic" class="k">ppm</text>
</g>
<g id="pb">
<rect x="357.2" y="17.8" width="156.4" height="152" fill="#e8f2ea"/>
<text x="306.5" y="14.4" font-size="17.5" text-anchor="start" class="k">(b)</text>
<text x="328.7" y="43.2" font-size="15" text-anchor="start" class="k">0h</text>
<text x="328.7" y="97.6" font-size="15" text-anchor="start" class="k">3h</text>
<text x="328.7" y="143.6" font-size="15" text-anchor="start" class="k">6h</text>
<path d="M330 50.51L330.25 50.53L330.5 50.46L330.75 50.45L331 50.48L331.25 50.64L331.5 50.57L331.75 50.62L332 50.55L332.25 50.53L332.5 50.36L332.75 50.41L333 50.57L333.25 50.74L333.5 50.75L333.75 50.59L334 50.46L334.25 50.38L334.5 50.45L334.75 50.37L335 50.44L335.25 50.5L335.5 50.62L335.75 50.65L336 50.53L336.25 50.44L336.5 50.36L336.75 50.51L337 50.69L337.25 50.7L337.5 50.71L337.75 50.61L338 50.75L338.25 50.7L338.5 50.69L338.75 50.64L339 50.54L339.25 50.51L339.5 50.34L339.75 50.42L340 50.48L340.25 50.58L340.5 50.53L340.75 50.64L341 50.62L341.25 50.59L341.5 50.58L341.75 50.71L342 50.79L342.25 50.57L342.5 50.42L342.75 50.44L343 50.57L343.25 50.73L343.5 50.58L343.75 50.63L344 50.47L344.25 50.67L344.5 50.61L344.75 50.73L345 50.59L345.25 50.49L345.5 50.33L345.75 50.33L346 50.36L346.25 50.53L346.5 50.67L346.75 50.77L347 50.6L347.25 50.49L347.5 50.42L347.75 50.6L348 50.64L348.25 50.72L348.5 50.58L348.75 50.41L349 50.32L349.25 50.27L349.5 50.44L349.75 50.5L350 50.52L350.25 50.47L350.5 50.57L350.75 50.56L351 50.52L351.25 50.39L351.5 50.41L351.75 50.44L352 50.5L352.25 50.67L352.5 50.57L352.75 50.53L353 50.4L353.25 50.53L353.5 50.51L353.75 50.48L354 50.56L354.25 50.54L354.5 50.55L354.75 50.48L355 50.52L355.25 50.51L355.5 50.58L355.75 50.57L356 50.59L356.25 50.51L356.5 50.44L356.75 50.36L357 50.29L357.25 50.37L357.5 50.38L357.75 50.37L358 50.37L358.25 50.46L358.5 50.4L358.75 50.51L359 50.46L359.25 50.58L359.5 50.53L359.75 50.53L360 50.49L360.25 50.56L360.5 50.47L360.75 50.5L361 50.4L361.25 50.39L361.5 50.38L361.75 50.34L362 50.58L362.25 50.52L362.5 50.47L362.75 50.33L363 50.39L363.25 50.29L363.5 50.26L363.75 50.25L364 50.35L364.25 50.39L364.5 50.43L364.75 50.41L365 50.32L365.25 50.14L365.5 50.07L365.75 50.04L366 50.05L366.25 50.03L366.5 49.91L366.75 50L367 50.1L367.25 50.07L367.5 49.92L367.75 49.67L368 49.7L368.25 49.61L368.5 49.52L368.75 49.28L369 49.11L369.25 48.86L369.5 48.74L369.75 48.46L370 48.33L370.25 48.01L370.5 47.84L370.75 47.47L371 47.2L371.25 46.72L371.5 46.46L371.75 46.13L372 46.07L372.25 45.99L372.5 46.16L372.75 46.18L373 46.47L373.25 46.61L373.5 47.18L373.75 47.35L374 47.7L374.25 47.78L374.5 48.31L374.75 48.53L375 48.86L375.25 48.89L375.5 49.01L375.75 49.11L376 49.32L376.25 49.55L376.5 49.74L376.75 49.74L377 49.83L377.25 49.8L377.5 49.91L377.75 50.1L378 50.2L378.25 50.23L378.5 50.08L378.75 50.03L379 50.16L379.25 50.15L379.5 50.16L379.75 50.07L380 50.14L380.25 50.37L380.5 50.22L380.75 50.29L381 50.22L381.25 50.32L381.5 50.26L381.75 50.25L382 50.47L382.25 50.45L382.5 50.32L382.75 50.28L383 50.46L383.25 50.56L383.5 50.33L383.75 50.34L384 50.35L384.25 50.6L384.5 50.49L384.75 50.48L385 50.37L385.25 50.48L385.5 50.62L385.75 50.49L386 50.32L386.25 50.34L386.5 50.47L386.75 50.43L387 50.29L387.25 50.3L387.5 50.39L387.75 50.34L388 50.31L388.25 50.27L388.5 50.31L388.75 50.25L389 50.24L389.25 50.17L389.5 50.29L389.75 50.31L390 50.27L390.25 50.17L390.5 50.12L390.75 50.16L391 50.1L391.25 50.14L391.5 50.09L391.75 49.98L392 49.74L392.25 49.62L392.5 49.58L392.75 49.52L393 49.25L393.25 48.99L393.5 48.92L393.75 48.99L394 49.09L394.25 48.87L394.5 48.79L394.75 48.6L395 48.63L395.25 48.49L395.5 48.39L395.75 48.23L396 47.98L396.25 47.9L396.5 47.75L396.75 47.88L397 47.91L397.25 48.08L397.5 48.04L397.75 47.98L398 47.93L398.25 47.88L398.5 47.99L398.75 48.01L399 48L399.25 48L399.5 48.03L399.75 48.14L400 48.28L400.25 48.47L400.5 48.55L400.75 48.54L401 48.34L401.25 48.45L401.5 48.54L401.75 48.64L402 48.77L402.25 48.95L402.5 49.15L402.75 49.19L403 49.17L403.25 49.37L403.5 49.38L403.75 49.51L404 49.67L404.25 49.86L404.5 49.99L404.75 49.91L405 49.88L405.25 49.9L405.5 49.99L405.75 50.05L406 50.12L406.25 50.22L406.5 50.41L406.75 50.3L407 50.17L407.25 49.99L407.5 50.21L407.75 50.34L408 50.53L408.25 50.4L408.5 50.28L408.75 50.24L409 50.32L409.25 50.34L409.5 50.35L409.75 50.39L410 50.47L410.25 50.38L410.5 50.17L410.75 50.13L411 50.21L411.25 50.34L411.5 50.32L411.75 50.24L412 50.3L412.25 50.31L412.5 50.35L412.75 50.21L413 50.15L413.25 50.12L413.5 50.09L413.75 50.01L414 49.94L414.25 50.05L414.5 50.11L414.75 50.18L415 50.01L415.25 49.88L415.5 49.57L415.75 49.41L416 49.39L416.25 49.32L416.5 49.17L416.75 48.8L417 48.36L417.25 47.75L417.5 46.98L417.75 46.05L418 44.82L418.25 43.27L418.5 41.56L418.75 40.25L419 40.06L419.25 41.02L419.5 42.79L419.75 44.27L420 45.67L420.25 46.8L420.5 47.7L420.75 48.2L421 48.46L421.25 48.9L421.5 49.23L421.75 49.48L422 49.55L422.25 49.66L422.5 49.95L422.75 50.03L423 50.09L423.25 49.88L423.5 49.95L423.75 50.06L424 50.18L424.25 50.19L424.5 50.08L424.75 50.08L425 50.06L425.25 50.16L425.5 50.02L425.75 50.01L426 49.97L426.25 50.08L426.5 50.01L426.75 50.06L427 50.06L427.25 50.07L427.5 50.01L427.75 49.91L428 50.03L428.25 49.86L428.5 49.86L428.75 49.62L429 49.71L429.25 49.72L429.5 49.7L429.75 49.62L430 49.34L430.25 49.34L430.5 49.14L430.75 48.96L431 48.29L431.25 47.59L431.5 46.88L431.75 46.14L432 45.38L432.25 44.76L432.5 44.62L432.75 45.18L433 45.95L433.25 46.92L433.5 47.54L433.75 48.16L434 48.53L434.25 48.99L434.5 49.3L434.75 49.62L435 49.74L435.25 49.83L435.5 49.66L435.75 49.75L436 49.73L436.25 49.97L436.5 49.9L436.75 49.81L437 49.73L437.25 49.75L437.5 49.88L437.75 49.78L438 49.54L438.25 49.41L438.5 49.25L438.75 49.32L439 49.08L439.25 48.95L439.5 48.77L439.75 48.83L440 48.76L440.25 48.81L440.5 48.71L440.75 49.01L441 48.97L441.25 48.99L441.5 49.04L441.75 49.26L442 49.63L442.25 49.81L442.5 49.86L442.75 49.72L443 49.56L443.25 49.47L443.5 49.38L443.75 49.31L444 49.04L444.25 48.96L444.5 48.79L444.75 48.92L445 48.66L445.25 48.25L445.5 47.62L445.75 46.88L446 46.12L446.25 45.04L446.5 44.2L446.75 43.24L447 42.42L447.25 41.89L447.5 42.1L447.75 42.94L448 43.99L448.25 44.92L448.5 45.8L448.75 46.59L449 47.38L449.25 47.89L449.5 48.22L449.75 48.58L450 48.84L450.25 49.22L450.5 49.34L450.75 49.62L451 49.79L451.25 49.93L451.5 50.01L451.75 49.89L452 49.85L452.25 49.9L452.5 50.13L452.75 50.32L453 50.48L453.25 50.42L453.5 50.37L453.75 50.3L454 50.3L454.25 50.3L454.5 50.17L454.75 50.25L455 50.2L455.25 50.32L455.5 50.16L455.75 50.33L456 50.22L456.25 50.4L456.5 50.21L456.75 50.26L457 50.29L457.25 50.35L457.5 50.4L457.75 50.28L458 50.17L458.25 50.19L458.5 50.26L458.75 50.35L459 50.38L459.25 50.29L459.5 50.3L459.75 50.26L460 50.26L460.25 50.51L460.5 50.39L460.75 50.49L461 50.4L461.25 50.36L461.5 50.18L461.75 50.15L462 50.25L462.25 50.41L462.5 50.44L462.75 50.45L463 50.34L463.25 50.05L463.5 50.08L463.75 50.08L464 50.3L464.25 50.29L464.5 50.25L464.75 50.34L465 50.39L465.25 50.54L465.5 50.31L465.75 50.19L466 50.07L466.25 50.1L466.5 50.03L466.75 50.07L467 50.09L467.25 50.17L467.5 50.07L467.75 50.1L468 50.04L468.25 49.83L468.5 49.62L468.75 49.53L469 49.72L469.25 49.65L469.5 49.53L469.75 49.27L470 49.18L470.25 48.98L470.5 48.75L470.75 48.36L471 48.08L471.25 47.66L471.5 47.06L471.75 46.41L472 45.62L472.25 44.87L472.5 43.9L472.75 43.15L473 42.59L473.25 42.37L473.5 42.62L473.75 43.19L474 44.29L474.25 45.28L474.5 46.33L474.75 46.91L475 47.33L475.25 47.83L475.5 48.25L475.75 48.73L476 48.89L476.25 49.14L476.5 49.35L476.75 49.38L477 49.53L477.25 49.56L477.5 49.73L477.75 49.85L478 50.02L478.25 50.09L478.5 49.88L478.75 49.86L479 49.97L479.25 50.13L479.5 50.05L479.75 49.98L480 49.92L480.25 50.05L480.5 50.18L480.75 50.36L481 50.31L481.25 50.28L481.5 50.25L481.75 50.28L482 50.25L482.25 50.38L482.5 50.43L482.75 50.51L483 50.33L483.25 50.31L483.5 50.12L483.75 50.15L484 50.23L484.25 50.51L484.5 50.59L484.75 50.55L485 50.39L485.25 50.25L485.5 50.18L485.75 50.21L486 50.18L486.25 50.24L486.5 50.1L486.75 50L487 49.83L487.25 49.75L487.5 49.74L487.75 49.86L488 49.92L488.25 49.97L488.5 49.91L488.75 49.93L489 49.78L489.25 49.68L489.5 49.48L489.75 49.34L490 49.07L490.25 48.68L490.5 48.3L490.75 47.85L491 47.49L491.25 46.89L491.5 46.12L491.75 45.25L492 44.44L492.25 43.69L492.5 43.24L492.75 43.16L493 43.64L493.25 44.44L493.5 45.39L493.75 46.25L494 47.09L494.25 47.71L494.5 48.16L494.75 48.47L495 48.93L495.25 49.26L495.5 49.51L495.75 49.51L496 49.61L496.25 49.58L496.5 49.7L496.75 49.95L497 49.99L497.25 50.18L497.5 50.02L497.75 50.14L498 50.12L498.25 50.27L498.5 50.34L498.75 50.18L499 50.19L499.25 50.12L499.5 50.44L499.75 50.42L500 50.53L500.25 50.27L500.5 50.26L500.75 50.17L501 50.33L501.25 50.36L501.5 50.5L501.75 50.39L502 50.38L502.25 50.44L502.5 50.43L502.75 50.34L503 50.28L503.25 50.27L503.5 50.38L503.75 50.42L504 50.45L504.25 50.55L504.5 50.44L504.75 50.61L505 50.65L505.25 50.67L505.5 50.55L505.75 50.39L506 50.44L506.25 50.55L506.5 50.5L506.75 50.56L507 50.38L507.25 50.42L507.5 50.23L507.75 50.48L508 50.55L508.25 50.7L508.5 50.5L508.75 50.58L509 50.41L509.25 50.46L509.5 50.54L509.75 50.67L510 50.67L510.25 50.56L510.5 50.53L510.75 50.53L511 50.55L511.25 50.63L511.5 50.66L511.75 50.56L512 50.57L512.25 50.55L512.5 50.68L512.75 50.71L513 50.69L513.25 50.41L513.5 50.41L513.75 50.48L514 50.59L514.25 50.4L514.5 50.26L514.75 50.39L515 50.46L515.25 50.51L515.5 50.46L515.75 50.63L516 50.66L516.25 50.64L516.5 50.51L516.75 50.63L517 50.72L517.25 50.75L517.5 50.53L517.75 50.4L518 50.45L518.25 50.5L518.5 50.62L518.75 50.6L519 50.68L519.25 50.66L519.5 50.67L519.75 50.59L520 50.52L520.25 50.65L520.5 50.63L520.75 50.62L521 50.52L521.25 50.6L521.5 50.58L521.75 50.4L522 50.45L522.25 50.59L522.5 50.79L522.75 50.75L523 50.76L523.25 50.58L523.5 50.59L523.75 50.46L524 50.55L524.25 50.59L524.5 50.72L524.75 50.63L525 50.67L525.25 50.56L525.5 50.56L525.75 50.45L526 50.38L526.25 50.46L526.5 50.49L526.75 50.58L527 50.62L527.25 50.58L527.5 50.59L527.75 50.45L528 50.47L528.25 50.41L528.5 50.49L528.75 50.48L529 50.55L529.25 50.46L529.5 50.36L529.75 50.32L530 50.48L530.25 50.62L530.5 50.71L530.75 50.77L531 50.78L531.25 50.71L531.5 50.54L531.75 50.43L532 50.4L532.25 50.5L532.5 50.58L532.75 50.62L533 50.59L533.25 50.62L533.5 50.63L533.75 50.66L534 50.64L534.25 50.59L534.5 50.49L534.75 50.5L535 50.57L535.25 50.63L535.5 50.57L535.75 50.7L536 50.66L536.25 50.68L536.5 50.53L536.75 50.5L537 50.53L537.25 50.64L537.5 50.79L537.75 50.83L538 50.74L538.25 50.68L538.5 50.7L538.75 50.65L539 50.61L539.25 50.55L539.5 50.63L539.75 50.68L540 50.72L540.25 50.51L540.5 50.57L540.75 50.69L541 50.94L541.25 50.83L541.5 50.6L541.75 50.52L542 50.47L542.25 50.59L542.5 50.53L542.75 50.67L543 50.72L543.25 50.61L543.5 50.56L543.75 50.41L544 50.45L544.25 50.38L544.5 50.42L544.75 50.6L545 50.53L545.25 50.63L545.5 50.7L545.75 50.85L546 50.82L546.25 50.67L546.5 50.54L546.75 50.54L547 50.57L547.25 50.71L547.5 50.85L547.75 50.88L548 50.86L548.25 50.78L548.5 50.63L548.75 50.52L549 50.37L549.25 50.43L549.5 50.56L549.75 50.56L550 50.74L550.25 50.8L550.5 50.88L550.75 50.72L551 50.66L551.25 50.66L551.5 50.61L551.75 50.59L552 50.58L552.25 50.68L552.5 50.77L552.75 50.81L553 50.73L553.25 50.62L553.5 50.47L553.75 50.58L554 50.5L554.25 50.63L554.5 50.62L554.75 50.75L555 50.67L555.25 50.54L555.5 50.6L555.75 50.59L556 50.8L556.25 50.7L556.5 50.77L556.75 50.8L557 50.79L557.25 50.85L557.5 50.6L557.75 50.64L558 50.52L558.25 50.62L558.5 50.56L558.75 50.6L559 50.73L559.25 50.6L559.5 50.57L559.75 50.4L560 50.62L560.25 50.59L560.5 50.67L560.75 50.56L561 50.64L561.25 50.68L561.5 50.68L561.75 50.63L562 50.45L562.25 50.51L562.5 50.56L562.75 50.63L563 50.69L563.25 50.47L563.5 50.38L563.75 50.19L564 50.31L564.25 50.45L564.5 50.54L564.75 50.57L565 50.62L565.25 50.6L565.5 50.51L565.75 50.36L566 50.55L566.25 50.47L566.5 50.55L566.75 50.5L567 50.71L567.25 50.66L567.5 50.56L567.75 50.58L568 50.73L568.25 50.67L568.5 50.66L568.75 50.59L569 50.73L569.25 50.78L569.5 50.74L569.75 50.55L570 50.48L570.25 50.63L570.5 50.79L570.75 50.77L571 50.82L571.25 50.69L571.5 50.74L571.75 50.52L572 50.6L572.25 50.54L572.5 50.7L572.75 50.62L573 50.58L573.25 50.35L573.5 50.45L573.75 50.46L574 50.61L574.25 50.49L574.5 50.5L574.75 50.54L575 50.61L575.25 50.68L575.5 50.64L575.75 50.63L576 50.47L576.25 50.5L576.5 50.54L576.75 50.72L577 50.5L577.25 50.37L577.5 50.14L577.75 50.22L578 50.42L578.25 50.61L578.5 50.68L578.75 50.61L579 50.62L579.25 50.6L579.5 50.62L579.75 50.57L580 50.43L580.25 50.37L580.5 50.46L580.75 50.59L581 50.61L581.25 50.46L581.5 50.45L581.75 50.54L582 50.56L582.25 50.52L582.5 50.21L582.75 50.18L583 50.11L583.25 50.2L583.5 50.3L583.75 50.49L584 50.48L584.25 50.48L584.5 50.46L584.75 50.54L585 50.52L585.25 50.36L585.5 50.33L585.75 50.16L586 50.19L586.25 50.33L586.5 50.33L586.75 50.32L587 50.17L587.25 50.27L587.5 50.31L587.75 50.43L588 50.34L588.25 50.25L588.5 50.12L588.75 50.15L589 50.14L589.25 50.16L589.5 50.24L589.75 50.2L590 50.11L590.25 49.99L590.5 49.87M596.5 49.71L596.75 49.86L597 50.06L597.25 50L597.5 50.1L597.75 49.99L598 50.08L598.25 50.07L598.5 50.27L598.75 50.34L599 50.39L599.25 50.43L599.5 50.44L599.75 50.51L600 50.52L600.25 50.51L600.5 50.46L600.75 50.44L601 50.42L601.25 50.48L601.5 50.54L601.75 50.64L602 50.59L602.25 50.42L602.5 50.36L602.75 50.38L603 50.56L603.25 50.54L603.5 50.54L603.75 50.51L604 50.51L604.25 50.52L604.5 50.59L604.75 50.74L605 50.8L605.25 50.69L605.5 50.51L605.75 50.51L606 50.5L606.25 50.59L606.5 50.51L606.75 50.5L607 50.48L607.25 50.54L607.5 50.64L607.75 50.68L608 50.54L608.25 50.37L608.5 50.22L608.75 50.29L609 50.4L609.25 50.54L609.5 50.56L609.75 50.54L610 50.45L610.25 50.39L610.5 50.27L610.75 50.26L611 50.47L611.25 50.47L611.5 50.63L611.75 50.62L612 50.7L612.25 50.61L612.5 50.47L612.75 50.48L613 50.53L613.25 50.57L613.5 50.65L613.75 50.68L614 50.71L614.25 50.65L614.5 50.56L614.75 50.56L615 50.45L615.25 50.48L615.5 50.47L615.75 50.48L616 50.61L616.25 50.52L616.5 50.51L616.75 50.37L617 50.3L617.25 50.3L617.5 50.16L617.75 50.22L618 50.26L618.25 50.39L618.5 50.53L618.75 50.59L619 50.64L619.25 50.6L619.5 50.49L619.75 50.47L620 50.38L620.25 50.35L620.5 50.36L620.75 50.43L621 50.47L621.25 50.38L621.5 50.36L621.75 50.21L622 50.11L622.25 49.91L622.5 49.97L622.75 49.86L623 49.98L623.25 49.92L623.5 49.81L623.75 49.58M629.75 49.03L630 49.35L630.25 49.56L630.5 49.66L630.75 49.46L631 49.41L631.25 49.41L631.5 49.59L631.75 49.64L632 49.6L632.25 49.71L632.5 49.8L632.75 49.82L633 49.63L633.25 49.68L633.5 49.65L633.75 49.82L634 49.82L634.25 49.8L634.5 49.74L634.75 49.58L635 49.7L635.25 49.71L635.5 49.89L635.75 49.91L636 49.9L636.25 49.85L636.5 49.8L636.75 49.79L637 49.89L637.25 49.86L637.5 49.87L637.75 49.72L638 49.72L638.25 49.62L638.5 49.71L638.75 49.74L639 49.87L639.25 49.78L639.5 49.78L639.75 49.76L640 49.81L640.25 50.06L640.5 50.2L640.75 50.25L641 49.96L641.25 49.89L641.5 49.74L641.75 49.88L642 49.83L642.25 49.87L642.5 49.73L642.75 49.59L643 49.32L643.25 49.14L643.5 48.76L643.75 48.36L644 47.81L644.25 47.49L644.5 47.57L644.75 48.01L645 48.59L645.25 49.05L645.5 49.35L645.75 49.66L646 49.71L646.25 49.88L646.5 49.86L646.75 49.99L647 50.03L647.25 50.12L647.5 50.3L647.75 50.42L648 50.3L648.25 50.28L648.5 50.36L648.75 50.62L649 50.74L649.25 50.62L649.5 50.46L649.75 50.29L650 50.34L650.25 50.53L650.5 50.56L650.75 50.5L651 50.45L651.25 50.38L651.5 50.38L651.75 50.49L652 50.78L652.25 50.8L652.5 50.82L652.75 50.62L653 50.57L653.25 50.28L653.5 50.39L653.75 50.42L654 50.76L654.25 50.72L654.5 50.76L654.75 50.46L655 50.54L655.25 50.51L655.5 50.63L655.75 50.36L656 50.45L656.25 50.54L656.5 50.66L656.75 50.6L657 50.55L657.25 50.67L657.5 50.67L657.75 50.77L658 50.68L658.25 50.63L658.5 50.47L658.75 50.3L659 50.29L659.25 50.4L659.5 50.6L659.75 50.6L660 50.55L660.25 50.39L660.5 50.43L660.75 50.44L661 50.64L661.25 50.6L661.5 50.63L661.75 50.72L662 50.74L662.25 50.73L662.5 50.48L662.75 50.37L663 50.36L663.25 50.48L663.5 50.64L663.75 50.55L664 50.52L664.25 50.57L664.5 50.74L664.75 50.74L665 50.56L665.25 50.53L665.5 50.59L665.75 50.76L666 50.68L666.25 50.81L666.5 50.77L666.75 50.79L667 50.48L667.25 50.44L667.5 50.35L667.75 50.48L668 50.55L668.25 50.55L668.5 50.68L668.75 50.65" fill="none" stroke="#0d0d0d" stroke-width="1.7" stroke-linejoin="round"/>
<path d="M590.25 49.99L590.5 49.87L590.75 49.66L591 49.29L591.25 49.12L591.5 48.88L591.75 48.45L592 47.69L592.25 46.59L592.5 44.72L592.75 41.04L593 33.91L593.25 20.81L593.5 10.44L593.75 20.94L594 33.94L594.25 40.89L594.5 44.34L594.75 46.34L595 47.48L595.25 48.38L595.5 48.8L595.75 49.15L596 49.3L596.25 49.48L596.5 49.71L596.75 49.86" fill="none" stroke="#c8102e" stroke-width="1.7" stroke-linejoin="round"/>
<path d="M623.5 49.81L623.75 49.58L624 49.29L624.25 49.14L624.5 48.91L624.75 48.63L625 47.95L625.25 47.08L625.5 45.83L625.75 43.82L626 39.91L626.25 31.8L626.5 17.95L626.75 11.04L627 23.95L627.25 35.56L627.5 41.66L627.75 44.68L628 46.36L628.25 47.24L628.5 47.82L628.75 48.28L629 48.66L629.25 48.86L629.5 48.91L629.75 49.03L630 49.35" fill="none" stroke="#c8102e" stroke-width="1.7" stroke-linejoin="round"/>
<path d="M330 103.76L330.25 103.77L330.5 103.76L330.75 103.83L331 103.86L331.25 103.93L331.5 104.03L331.75 103.99L332 104.03L332.25 103.82L332.5 103.69L332.75 103.62L333 103.67L333.25 103.76L333.5 103.86L333.75 103.71L334 103.66L334.25 103.47L334.5 103.74L334.75 103.78L335 103.88L335.25 103.7L335.5 103.81L335.75 103.81L336 103.91L336.25 103.69L336.5 103.8L336.75 103.81L337 103.98L337.25 103.97L337.5 103.91L337.75 103.83L338 103.75L338.25 103.74L338.5 103.67L338.75 103.55L339 103.39L339.25 103.37L339.5 103.33L339.75 103.27L340 103.26L340.25 103L340.5 102.91L340.75 102.86L341 102.93L341.25 102.84L341.5 102.86L341.75 102.99L342 103.1L342.25 103.15L342.5 103.14L342.75 103.22L343 103.25L343.25 103.38L343.5 103.47L343.75 103.52L344 103.53L344.25 103.65L344.5 103.71L344.75 103.86L345 103.83L345.25 103.75L345.5 103.6L345.75 103.62L346 103.83L346.25 103.99L346.5 103.96L346.75 103.92L347 103.77L347.25 103.89L347.5 103.79L347.75 103.94L348 103.91L348.25 103.91L348.5 103.88L348.75 103.75L349 103.77L349.25 103.82L349.5 104.2L349.75 104.26L350 104.18L350.25 103.8L350.5 103.83L350.75 103.7L351 103.71L351.25 103.66L351.5 103.69L351.75 103.86L352 103.92L352.25 103.96L352.5 103.81L352.75 103.63L353 103.56L353.25 103.63L353.5 103.77L353.75 103.9L354 103.89L354.25 103.8L354.5 103.8L354.75 103.67L355 103.7L355.25 103.78L355.5 103.99L355.75 103.95L356 103.81L356.25 103.81L356.5 103.98L356.75 103.89L357 103.75L357.25 103.63L357.5 103.83L357.75 103.79L358 103.82L358.25 103.7L358.5 103.93L358.75 103.91L359 103.92L359.25 103.71L359.5 103.76L359.75 103.81L360 103.75L360.25 103.68L360.5 103.52L360.75 103.54L361 103.42L361.25 103.41L361.5 103.41L361.75 103.42L362 103.54L362.25 103.64L362.5 103.68L362.75 103.55L363 103.54L363.25 103.39L363.5 103.31L363.75 103.29L364 103.47L364.25 103.66L364.5 103.57L364.75 103.4L365 103.26L365.25 103.29L365.5 103.3L365.75 103.25L366 103.06L366.25 102.99L366.5 103.06L366.75 103.14L367 103.08L367.25 102.87L367.5 102.73L367.75 102.77L368 102.67L368.25 102.59L368.5 102.28L368.75 102.13L369 102.02L369.25 102.07L369.5 101.87L369.75 101.56L370 101.29L370.25 101.04L370.5 100.72L370.75 100.33L371 99.96L371.25 99.65L371.5 99.23L371.75 98.75L372 98.29L372.25 97.96L372.5 97.77L372.75 97.72L373 97.96L373.25 98.24L373.5 98.76L373.75 99.14L374 99.68L374.25 100.08L374.5 100.5L374.75 100.96L375 101.22L375.25 101.46L375.5 101.61L375.75 102.01L376 102.29L376.25 102.41L376.5 102.4L376.75 102.41L377 102.59L377.25 102.74L377.5 103.05L377.75 102.99L378 103.12L378.25 103.05L378.5 103.19L378.75 103.16L379 103.13L379.25 103.23L379.5 103.35L379.75 103.31L380 103.44L380.25 103.36L380.5 103.61L380.75 103.57L381 103.71L381.25 103.66L381.5 103.73L381.75 103.66L382 103.57L382.25 103.56L382.5 103.62L382.75 103.85L383 103.66L383.25 103.61L383.5 103.54L383.75 103.6L384 103.61L384.25 103.69L384.5 103.9L384.75 103.85L385 103.81L385.25 103.79L385.5 103.92L385.75 103.84L386 103.77L386.25 103.65L386.5 103.58L386.75 103.61L387 103.67L387.25 103.84L387.5 103.75L387.75 103.55L388 103.37L388.25 103.39L388.5 103.57L388.75 103.57L389 103.45L389.25 103.5L389.5 103.4L389.75 103.46L390 103.28L390.25 103.18L390.5 103.16L390.75 102.92L391 102.87L391.25 102.71L391.5 102.77L391.75 102.79L392 102.64L392.25 102.52L392.5 102.5L392.75 102.36L393 102.25L393.25 101.87L393.5 101.69L393.75 101.6L394 101.57L394.25 101.48L394.5 101.23L394.75 101.09L395 100.81L395.25 100.7L395.5 100.49L395.75 100.42L396 100.33L396.25 100.18L396.5 100.08L396.75 100.1L397 100.12L397.25 100.2L397.5 100.01L397.75 99.99L398 99.93L398.25 100L398.5 100.11L398.75 100.06L399 100.02L399.25 99.9L399.5 99.72L399.75 99.68L400 99.77L400.25 100.18L400.5 100.35L400.75 100.55L401 100.73L401.25 100.88L401.5 101.04L401.75 101.22L402 101.43L402.25 101.41L402.5 101.54L402.75 101.64L403 101.83L403.25 101.88L403.5 101.99L403.75 102.23L404 102.41L404.25 102.66L404.5 102.74L404.75 102.74L405 102.74L405.25 102.86L405.5 102.97L405.75 103.28L406 103.28L406.25 103.33L406.5 103.26L406.75 103.39L407 103.48L407.25 103.42L407.5 103.44L407.75 103.53L408 103.63L408.25 103.6L408.5 103.59L408.75 103.61L409 103.7L409.25 103.45L409.5 103.33L409.75 103.22L410 103.43L410.25 103.5L410.5 103.62L410.75 103.68L411 103.64L411.25 103.56L411.5 103.63L411.75 103.58L412 103.58L412.25 103.54L412.5 103.58L412.75 103.38L413 103.25L413.25 103.16L413.5 103.25L413.75 103.25L414 103.25L414.25 103.17L414.5 103.08L414.75 102.98L415 102.89L415.25 102.72L415.5 102.54L415.75 102.32L416 102.03L416.25 101.73L416.5 101.33L416.75 100.83L417 100.38L417.25 99.74L417.5 98.98L417.75 97.84L418 96.68L418.25 95.47L418.5 94.49L418.75 93.95L419 94.23L419.25 94.99L419.5 96.28L419.75 97.27L420 98.34L420.25 99.26L420.5 100.14L420.75 100.76L421 101.19L421.25 101.5L421.5 101.86L421.75 101.92L422 102.16L422.25 102.27L422.5 102.61L422.75 102.82L423 102.9L423.25 103.06L423.5 103.01L423.75 102.98L424 102.74L424.25 102.93L424.5 103.11L424.75 103.26L425 103.11L425.25 103.05L425.5 103.21L425.75 103.26L426 103.48L426.25 103.36L426.5 103.18L426.75 103.1L427 103.07L427.25 103.2L427.5 103.22L427.75 103.19L428 103.25L428.25 103.07L428.5 102.96L428.75 102.82L429 102.67L429.25 102.68L429.5 102.54L429.75 102.37L430 102.06L430.25 101.7L430.5 101.25L430.75 100.75L431 100.06L431.25 99.42L431.5 98.58L431.75 98.07L432 97.85L432.25 98.07L432.5 98.57L432.75 99.2L433 100.02L433.25 100.63L433.5 101.22L433.75 101.7L434 102.12L434.25 102.24L434.5 102.35L434.75 102.57L435 102.81L435.25 102.99L435.5 103.05L435.75 103.18L436 103.14L436.25 103.11L436.5 103.1L436.75 103.16L437 103.27L437.25 103.34L437.5 103.33L437.75 103.31L438 103.32L438.25 103.23L438.5 103.17L438.75 103.09L439 103.19L439.25 103.22L439.5 103.25L439.75 103.19L440 103.24L440.25 103.27L440.5 103.19L440.75 103.11L441 102.98L441.25 103.19L441.5 103.11L441.75 103.12L442 102.94L442.25 102.9L442.5 102.85L442.75 102.87L443 102.8L443.25 102.74L443.5 102.57L443.75 102.31L444 102.17L444.25 101.89L444.5 101.73L444.75 101.18L445 100.73L445.25 100.12L445.5 99.43L445.75 98.64L446 97.54L446.25 96.22L446.5 94.53L446.75 92.98L447 91.79L447.25 91.19L447.5 91.49L447.75 92.59L448 93.96L448.25 95.42L448.5 96.67L448.75 97.98L449 99.1L449.25 100L449.5 100.54L449.75 100.92L450 101.35L450.25 101.71L450.5 101.99L450.75 102.16L451 102.25L451.25 102.47L451.5 102.6L451.75 102.89L452 102.86L452.25 102.86L452.5 102.85L452.75 103L453 103.11L453.25 103.22L453.5 103.37L453.75 103.5L454 103.47L454.25 103.32L454.5 103.38L454.75 103.43L455 103.6L455.25 103.61L455.5 103.61L455.75 103.51L456 103.41L456.25 103.4L456.5 103.36L456.75 103.33L457 103.47L457.25 103.51L457.5 103.53L457.75 103.44L458 103.38L458.25 103.51L458.5 103.37L458.75 103.43L459 103.36L459.25 103.43L459.5 103.52L459.75 103.57L460 103.61L460.25 103.58L460.5 103.41L460.75 103.5L461 103.49L461.25 103.58L461.5 103.64L461.75 103.66L462 103.74L462.25 103.68L462.5 103.55L462.75 103.46L463 103.44L463.25 103.41L463.5 103.47L463.75 103.43L464 103.54L464.25 103.36L464.5 103.34L464.75 103.32L465 103.34L465.25 103.31L465.5 103.11L465.75 103.2L466 103.08L466.25 103.04L466.5 102.83L466.75 102.81L467 102.96L467.25 102.9L467.5 102.93L467.75 102.75L468 102.9L468.25 102.83L468.5 102.94L468.75 102.6L469 102.48L469.25 102.12L469.5 102.07L469.75 101.87L470 101.61L470.25 101.22L470.5 100.79L470.75 100.45L471 100.08L471.25 99.64L471.5 99.12L471.75 98.6L472 98.09L472.25 97.45L472.5 96.77L472.75 96.19L473 95.88L473.25 95.7L473.5 95.83L473.75 96.21L474 96.79L474.25 97.32L474.5 98.04L474.75 98.75L475 99.33L475.25 99.72L475.5 100.15L475.75 100.54L476 100.94L476.25 101.16L476.5 101.43L476.75 101.62L477 101.69L477.25 101.87L477.5 101.89L477.75 102.29L478 102.55L478.25 102.88L478.5 102.81L478.75 102.84L479 102.9L479.25 103L479.5 103.03L479.75 102.89L480 102.87L480.25 102.78L480.5 102.76L480.75 102.64L481 102.69L481.25 102.83L481.5 102.77L481.75 102.81L482 102.77L482.25 102.75L482.5 102.46L482.75 102.19L483 102.08L483.25 101.82L483.5 101.4L483.75 100.91L484 100.23L484.25 99.68L484.5 99.08L484.75 98.71L485 98.55L485.25 98.7L485.5 99.25L485.75 99.86L486 100.4L486.25 100.86L486.5 101.27L486.75 101.76L487 102.14L487.25 102.37L487.5 102.35L487.75 102.28L488 102.3L488.25 102.49L488.5 102.58L488.75 102.58L489 102.39L489.25 102.38L489.5 102.32L489.75 102.27L490 102.08L490.25 102.01L490.5 101.79L490.75 101.65L491 101.3L491.25 100.93L491.5 100.4L491.75 99.74L492 99.03L492.25 98.25L492.5 97.48L492.75 96.96L493 96.57L493.25 96.59L493.5 96.85L493.75 97.15L494 97.82L494.25 98.36L494.5 99.3L494.75 99.84L495 100.52L495.25 101.07L495.5 101.39L495.75 101.71L496 101.87L496.25 102.08L496.5 102.3L496.75 102.47L497 102.71L497.25 102.72L497.5 103.05L497.75 103.15L498 103.14L498.25 102.91L498.5 102.97L498.75 103.12L499 103.23L499.25 103.22L499.5 103.33L499.75 103.33L500 103.34L500.25 103.26L500.5 103.29L500.75 103.48L501 103.59L501.25 103.62L501.5 103.57L501.75 103.57L502 103.76L502.25 103.73L502.5 103.76L502.75 103.67L503 103.66L503.25 103.65L503.5 103.62L503.75 103.66L504 103.7L504.25 103.77L504.5 103.89L504.75 103.84L505 103.79L505.25 103.89L505.5 103.82L505.75 103.83L506 103.73L506.25 103.83L506.5 103.86L506.75 103.82L507 103.86L507.25 103.92L507.5 103.89L507.75 103.85L508 103.76L508.25 103.75L508.5 103.74L508.75 103.66L509 103.75L509.25 103.88L509.5 104.09L509.75 104.13L510 103.94L510.25 103.93L510.5 103.78L510.75 103.85L511 103.88L511.25 103.85L511.5 103.92L511.75 103.81L512 103.88L512.25 103.75L512.5 103.76L512.75 103.74L513 103.89L513.25 103.95L513.5 103.88L513.75 103.77L514 103.66L514.25 103.67L514.5 103.63L514.75 103.66L515 103.73L515.25 103.7L515.5 103.65L515.75 103.71L516 103.74L516.25 103.71L516.5 103.79L516.75 103.98L517 103.93L517.25 103.71L517.5 103.65L517.75 103.68L518 103.76L518.25 103.7L518.5 103.83L518.75 103.66L519 103.54L519.25 103.4L519.5 103.67L519.75 103.82L520 103.78L520.25 103.74L520.5 103.81L520.75 103.92L521 103.86L521.25 103.84L521.5 103.94L521.75 103.98L522 103.99L522.25 103.9L522.5 103.86L522.75 103.75L523 103.78L523.25 103.78L523.5 103.83L523.75 103.88L524 103.94L524.25 104.02L524.5 103.84L524.75 103.85L525 103.74L525.25 103.8L525.5 103.69L525.75 103.82L526 103.95L526.25 103.96L526.5 103.78L526.75 103.72L527 103.74L527.25 103.95L527.5 103.84L527.75 103.74L528 103.6L528.25 103.71L528.5 103.85L528.75 103.93L529 104.08L529.25 104.05L529.5 103.95L529.75 103.67L530 103.71L530.25 103.82L530.5 103.93L530.75 104L531 103.94L531.25 104.07L531.5 104L531.75 103.92L532 103.77L532.25 103.63L532.5 103.58L532.75 103.65L533 103.82L533.25 104.09L533.5 104.07L533.75 103.99L534 103.77L534.25 103.84L534.5 103.89L534.75 103.93L535 103.91L535.25 103.92L535.5 103.82L535.75 103.83L536 103.8L536.25 103.91L536.5 103.82L536.75 103.94L537 104.08L537.25 104.25L537.5 104.03L537.75 103.87L538 103.81L538.25 103.8L538.5 103.8L538.75 103.6L539 103.82L539.25 103.95L539.5 104.12L539.75 104L540 103.89L540.25 103.83L540.5 103.86L540.75 103.84L541 103.96L541.25 103.88L541.5 103.86L541.75 103.87L542 103.9L542.25 104L542.5 103.88L542.75 103.72L543 103.72L543.25 103.65L543.5 103.9L543.75 103.74L544 103.71L544.25 103.65L544.5 103.79L544.75 103.94L545 103.83L545.25 103.86L545.5 103.75L545.75 103.8L546 103.68L546.25 103.76L546.5 103.85L546.75 103.87L547 103.94L547.25 103.92L547.5 103.84L547.75 103.72L548 103.64L548.25 103.72L548.5 103.83L548.75 103.72L549 103.81L549.25 103.84L549.5 103.97L549.75 103.82L550 103.77L550.25 103.74L550.5 103.88L550.75 103.88L551 103.97L551.25 103.89L551.5 104.01L551.75 103.78L552 103.74L552.25 103.67L552.5 103.73L552.75 103.86L553 103.73L553.25 103.85L553.5 103.73L553.75 103.79L554 103.79L554.25 103.85L554.5 103.86L554.75 104L555 104.01L555.25 103.97L555.5 103.88L555.75 103.94L556 104.1L556.25 104.16L556.5 104.03L556.75 104.02L557 103.97L557.25 104.04L557.5 103.98L557.75 103.68L558 103.64L558.25 103.75L558.5 103.84L558.75 103.84L559 103.73L559.25 103.9L559.5 104.06L559.75 103.91L560 103.87L560.25 103.82L560.5 103.85L560.75 103.84L561 103.92L561.25 104.11L561.5 104.16L561.75 103.83L562 103.72L562.25 103.71L562.5 103.88L562.75 103.88L563 104.08L563.25 104.09L563.5 104.02L563.75 103.81L564 103.8L564.25 103.85L564.5 103.83L564.75 103.91L565 103.95L565.25 103.87L565.5 103.8L565.75 103.82L566 103.87L566.25 103.96L566.5 103.99L566.75 103.95L567 103.89L567.25 103.98L567.5 104.16L567.75 104.14L568 104.06L568.25 103.89L568.5 103.79L568.75 103.76L569 103.83L569.25 103.98L569.5 103.93L569.75 103.94L570 103.86L570.25 103.9L570.5 103.94L570.75 103.97L571 103.99L571.25 103.8L571.5 103.75L571.75 103.8L572 104.05L572.25 104.13L572.5 104.02L572.75 103.79L573 103.8L573.25 103.87L573.5 103.85L573.75 103.86L574 103.84L574.25 103.98L574.5 103.86L574.75 103.86L575 103.72L575.25 103.91L575.5 103.88L575.75 103.91L576 103.9L576.25 103.97L576.5 104.01L576.75 104.07L577 103.91L577.25 103.98L577.5 103.91L577.75 103.81L578 103.86L578.25 103.77L578.5 103.93L578.75 103.78L579 103.81L579.25 103.73L579.5 103.74L579.75 103.68L580 103.67L580.25 103.85L580.5 103.79L580.75 103.82L581 103.68L581.25 103.78L581.5 103.89L581.75 103.97L582 103.95L582.25 103.86L582.5 103.8L582.75 103.88L583 103.96L583.25 103.92L583.5 103.7L583.75 103.81L584 103.91L584.25 104.08L584.5 103.94L584.75 103.83L585 103.74L585.25 103.68L585.5 103.7L585.75 103.72L586 103.63L586.25 103.62L586.5 103.7L586.75 103.77L587 103.78L587.25 103.58L587.5 103.59L587.75 103.57L588 103.61L588.25 103.49L588.5 103.51L588.75 103.52L589 103.65L589.25 103.56L589.5 103.63L589.75 103.53L590 103.4L590.25 103.28L590.5 103.2M596.5 103.33L596.75 103.39L597 103.64L597.25 103.79L597.5 103.84L597.75 103.75L598 103.57L598.25 103.5L598.5 103.57L598.75 103.52L599 103.59L599.25 103.6L599.5 103.81L599.75 103.79L600 103.81L600.25 103.71L600.5 103.71L600.75 103.58L601 103.65L601.25 103.8L601.5 103.95L601.75 103.97L602 103.79L602.25 103.88L602.5 103.8L602.75 103.94L603 103.84L603.25 103.83L603.5 103.85L603.75 103.85L604 103.93L604.25 103.89L604.5 103.89L604.75 103.85L605 103.85L605.25 103.83L605.5 103.86L605.75 103.78L606 103.7L606.25 103.64L606.5 103.66L606.75 103.77L607 103.91L607.25 103.82L607.5 103.83L607.75 103.58L608 103.63L608.25 103.58L608.5 103.58L608.75 103.52L609 103.57L609.25 103.74L609.5 103.87L609.75 103.8L610 103.95L610.25 103.94L610.5 103.94L610.75 103.91L611 103.96L611.25 104L611.5 103.96L611.75 103.93L612 104L612.25 103.93L612.5 103.84L612.75 103.87L613 103.86L613.25 103.86L613.5 103.73L613.75 103.79L614 103.83L614.25 103.89L614.5 103.87L614.75 103.9L615 103.79L615.25 103.78L615.5 103.84L615.75 104.01L616 104.08L616.25 104.04L616.5 104.03L616.75 104.02L617 103.97L617.25 104.04L617.5 104.04L617.75 104.11L618 104.12L618.25 104.04L618.5 103.92L618.75 103.86L619 103.81L619.25 103.89L619.5 103.81L619.75 103.88L620 103.87L620.25 103.8L620.5 103.72L620.75 103.71L621 103.69L621.25 103.6L621.5 103.5L621.75 103.48L622 103.51L622.25 103.57L622.5 103.72L622.75 103.73L623 103.67L623.25 103.55L623.5 103.48L623.75 103.28M629.75 103.01L630 103.16L630.25 103.25L630.5 103.18L630.75 103.08L631 102.96L631.25 102.89L631.5 102.86L631.75 102.73L632 102.94L632.25 103L632.5 103.09L632.75 102.88L633 102.93L633.25 102.92L633.5 102.94L633.75 102.85L634 102.76L634.25 102.75L634.5 102.86L634.75 103.12L635 103.26L635.25 103.39L635.5 103.28L635.75 103.21L636 102.99L636.25 102.96L636.5 102.82L636.75 102.91L637 103.05L637.25 103.24L637.5 103.36L637.75 103.23L638 103.12L638.25 103.02L638.5 103.03L638.75 103.24L639 103.43L639.25 103.42L639.5 103.32L639.75 103.17L640 103.21L640.25 103.16L640.5 103.18L640.75 103.24L641 103.36L641.25 103.26L641.5 103.21L641.75 103.04L642 103.16L642.25 103.05L642.5 103.09L642.75 102.9L643 102.81L643.25 102.56L643.5 102.2L643.75 102L644 101.62L644.25 101.26L644.5 100.94L644.75 100.97L645 101.42L645.25 101.81L645.5 102.39L645.75 102.76L646 103.05L646.25 103.14L646.5 103.27L646.75 103.45L647 103.4L647.25 103.43L647.5 103.37L647.75 103.54L648 103.44L648.25 103.56L648.5 103.54L648.75 103.69L649 103.62L649.25 103.58L649.5 103.57L649.75 103.49L650 103.55L650.25 103.57L650.5 103.71L650.75 103.8L651 103.82L651.25 103.98L651.5 104.01L651.75 103.94L652 103.74L652.25 103.66L652.5 103.74L652.75 103.75L653 103.74L653.25 103.87L653.5 103.92L653.75 103.96L654 103.83L654.25 103.81L654.5 103.94L654.75 103.99L655 104.09L655.25 103.76L655.5 103.75L655.75 103.75L656 104.12L656.25 104.1L656.5 103.9L656.75 103.8L657 103.76L657.25 103.75L657.5 103.66L657.75 103.78L658 104.01L658.25 104.1L658.5 103.95L658.75 104.05L659 103.91L659.25 103.98L659.5 103.69L659.75 103.87L660 103.91L660.25 104.08L660.5 103.99L660.75 103.96L661 103.91L661.25 103.76L661.5 103.84L661.75 103.89L662 104L662.25 103.93L662.5 103.89L662.75 104.03L663 104.06L663.25 104.04L663.5 103.89L663.75 103.75L664 103.7L664.25 103.75L664.5 103.84L664.75 103.89L665 103.94L665.25 103.99L665.5 104L665.75 104L666 103.98L666.25 103.96L666.5 103.94L666.75 103.8L667 103.9L667.25 103.77L667.5 103.96L667.75 103.87L668 104.04L668.25 103.98L668.5 103.91L668.75 103.83" fill="none" stroke="#0d0d0d" stroke-width="1.7" stroke-linejoin="round"/>
<path d="M590.25 103.28L590.5 103.2L590.75 103.26L591 103.09L591.25 102.9L591.5 102.66L591.75 102.4L592 101.92L592.25 101.02L592.5 99.41L592.75 96.54L593 91.08L593.25 83.16L593.5 81.88L593.75 89.48L594 95.73L594.25 99L594.5 100.72L594.75 101.52L595 102.14L595.25 102.58L595.5 102.8L595.75 102.86L596 103.01L596.25 103.08L596.5 103.33L596.75 103.39" fill="none" stroke="#c8102e" stroke-width="1.7" stroke-linejoin="round"/>
<path d="M623.5 103.48L623.75 103.28L624 103.12L624.25 102.88L624.5 102.69L624.75 102.3L625 101.81L625.25 101.16L625.5 100.06L625.75 98.33L626 95.01L626.25 88.88L626.5 81.06L626.75 82.34L627 90.33L627.25 95.81L627.5 98.55L627.75 100L628 100.76L628.25 101.55L628.5 101.94L628.75 102.36L629 102.52L629.25 102.74L629.5 102.92L629.75 103.01L630 103.16" fill="none" stroke="#c8102e" stroke-width="1.7" stroke-linejoin="round"/>
<path d="M330 151.2L330.25 151.22L330.5 151.1L330.75 151.19L331 151.27L331.25 151.28L331.5 150.98L331.75 150.84L332 150.82L332.25 151.2L332.5 151.29L332.75 151.27L333 151.19L333.25 151.13L333.5 151.13L333.75 151.01L334 150.84L334.25 150.96L334.5 150.98L334.75 151.12L335 150.87L335.25 150.84L335.5 151.04L335.75 151.09L336 150.93L336.25 150.81L336.5 150.69L336.75 150.54L337 150.43L337.25 150.51L337.5 150.71L337.75 150.65L338 150.72L338.25 150.66L338.5 150.58L338.75 150.39L339 150.38L339.25 150.45L339.5 150.48L339.75 150.36L340 149.75L340.25 149.43L340.5 149.23L340.75 149.58L341 149.49L341.25 149.71L341.5 149.76L341.75 149.95L342 149.9L342.25 149.93L342.5 150.03L342.75 150.18L343 150.28L343.25 150.3L343.5 150.26L343.75 150.37L344 150.46L344.25 150.73L344.5 150.64L344.75 151L345 150.97L345.25 150.99L345.5 150.81L345.75 150.84L346 150.93L346.25 150.77L346.5 150.64L346.75 150.89L347 150.85L347.25 150.9L347.5 150.66L347.75 150.82L348 150.7L348.25 150.66L348.5 150.79L348.75 150.9L349 150.82L349.25 150.87L349.5 150.64L349.75 150.83L350 150.67L350.25 150.95L350.5 150.91L350.75 151.01L351 150.86L351.25 150.93L351.5 150.84L351.75 151.08L352 150.88L352.25 150.98L352.5 150.77L352.75 150.87L353 150.66L353.25 150.65L353.5 150.45L353.75 150.35L354 150.38L354.25 150.36L354.5 150.68L354.75 150.56L355 150.76L355.25 150.6L355.5 150.67L355.75 150.6L356 150.54L356.25 150.47L356.5 150.62L356.75 150.79L357 150.94L357.25 150.86L357.5 150.69L357.75 150.34L358 150.36L358.25 150.48L358.5 150.62L358.75 150.63L359 150.67L359.25 150.72L359.5 150.74L359.75 150.61L360 150.39L360.25 150.2L360.5 150.1L360.75 150.36L361 150.3L361.25 150.28L361.5 150.09L361.75 150.18L362 150.22L362.25 150.43L362.5 150.52L362.75 150.51L363 150.41L363.25 150.31L363.5 150.28L363.75 150.42L364 150.09L364.25 150.04L364.5 149.87L364.75 150.26L365 150.13L365.25 150.1L365.5 150.04L365.75 150.08L366 149.78L366.25 149.59L366.5 149.46L366.75 149.71L367 149.6L367.25 149.88L367.5 149.76L367.75 149.68L368 149.33L368.25 149.09L368.5 149.12L368.75 149.23L369 149.19L369.25 149.09L369.5 148.62L369.75 148.46L370 148.37L370.25 148.03L370.5 147.81L370.75 147.3L371 146.83L371.25 146.06L371.5 145.34L371.75 145.2L372 144.9L372.25 144.68L372.5 144.48L372.75 144.55L373 144.78L373.25 144.98L373.5 145.51L373.75 145.85L374 146.53L374.25 146.79L374.5 147.18L374.75 147.4L375 147.79L375.25 147.91L375.5 148.08L375.75 148.06L376 148.35L376.25 148.55L376.5 148.71L376.75 148.94L377 148.88L377.25 149.26L377.5 149.25L377.75 149.19L378 148.85L378.25 148.76L378.5 148.91L378.75 149.02L379 149.2L379.25 149.15L379.5 149.1L379.75 148.93L380 148.77L380.25 148.64L380.5 148.5L380.75 148.36L381 147.97L381.25 147.33L381.5 146.74L381.75 146.42L382 145.94L382.25 145.7L382.5 145.61L382.75 145.95L383 146.17L383.25 146.73L383.5 147.39L383.75 147.9L384 148.21L384.25 148.51L384.5 148.66L384.75 149.02L385 148.93L385.25 149.17L385.5 148.85L385.75 149.06L386 149.01L386.25 149.2L386.5 149.36L386.75 149.58L387 149.58L387.25 149.65L387.5 149.54L387.75 149.69L388 149.47L388.25 149.6L388.5 149.48L388.75 149.51L389 149.45L389.25 149.33L389.5 149.21L389.75 149.22L390 149.24L390.25 149.11L390.5 148.91L390.75 148.76L391 148.81L391.25 148.82L391.5 148.81L391.75 148.63L392 148.49L392.25 148.19L392.5 147.79L392.75 147.64L393 147.46L393.25 147.53L393.5 147.23L393.75 147.33L394 147.13L394.25 147.13L394.5 146.82L394.75 146.64L395 146.25L395.25 146.19L395.5 146.21L395.75 146.32L396 146.33L396.25 146.17L396.5 145.97L396.75 145.62L397 145.49L397.25 145.32L397.5 145.15L397.75 145.31L398 145.08L398.25 145.19L398.5 144.99L398.75 145.23L399 145.11L399.25 145.08L399.5 145.06L399.75 145.12L400 145.23L400.25 145.34L400.5 145.52L400.75 145.73L401 145.79L401.25 146.05L401.5 146.06L401.75 146.39L402 146.51L402.25 146.78L402.5 146.78L402.75 146.85L403 146.89L403.25 147.19L403.5 147.53L403.75 147.91L404 147.98L404.25 148.05L404.5 147.87L404.75 147.8L405 147.81L405.25 148.03L405.5 148.22L405.75 148.21L406 148.44L406.25 148.6L406.5 148.69L406.75 148.96L407 149.13L407.25 149.34L407.5 149.19L407.75 149.12L408 149.38L408.25 149.14L408.5 149.1L408.75 148.92L409 149.02L409.25 149.34L409.5 149.18L409.75 149.18L410 149.04L410.25 149.28L410.5 149.47L410.75 149.47L411 149.65L411.25 149.46L411.5 149.41L411.75 149.23L412 149.22L412.25 149.13L412.5 148.94L412.75 148.86L413 148.71L413.25 148.65L413.5 148.48L413.75 148.59L414 148.39L414.25 148.72L414.5 148.78L414.75 148.98L415 148.58L415.25 148.16L415.5 148L415.75 147.84L416 147.73L416.25 147.22L416.5 146.98L416.75 146.43L417 146.07L417.25 145.22L417.5 144.65L417.75 144.07L418 143.59L418.25 143.06L418.5 142.67L418.75 142.53L419 142.8L419.25 142.75L419.5 143.32L419.75 143.84L420 144.56L420.25 144.94L420.5 145.52L420.75 146.05L421 146.53L421.25 146.84L421.5 147.22L421.75 147.59L422 147.63L422.25 147.88L422.5 148.09L422.75 148.36L423 148.17L423.25 148.21L423.5 148.25L423.75 148.46L424 148.6L424.25 148.43L424.5 148.79L424.75 148.58L425 148.98L425.25 148.77L425.5 148.7L425.75 148.52L426 148.56L426.25 148.76L426.5 148.85L426.75 148.67L427 148.63L427.25 148.54L427.5 148.54L427.75 148.3L428 148.01L428.25 148.01L428.5 148.08L428.75 147.92L429 147.47L429.25 147.28L429.5 146.89L429.75 146.71L430 146.04L430.25 145.53L430.5 144.98L430.75 144.48L431 144.35L431.25 144.23L431.5 144.1L431.75 144.18L432 144.41L432.25 144.88L432.5 145.22L432.75 145.83L433 146.34L433.25 146.87L433.5 147.01L433.75 147.33L434 147.51L434.25 147.84L434.5 148.17L434.75 148.34L435 148.21L435.25 148.16L435.5 148.11L435.75 148.27L436 148.46L436.25 148.94L436.5 149.1L436.75 148.86L437 148.7L437.25 148.41L437.5 148.47L437.75 148.56L438 148.91L438.25 148.82L438.5 148.44L438.75 148.44L439 148.58L439.25 148.68L439.5 148.6L439.75 148.51L440 148.31L440.25 148.31L440.5 148.25L440.75 148.29L441 147.97L441.25 147.99L441.5 147.92L441.75 148.04L442 147.86L442.25 147.94L442.5 147.66L442.75 147.42L443 146.85L443.25 146.51L443.5 146.38L443.75 146.62L444 146.21L444.25 145.54L444.5 144.7L444.75 144.3L445 143.66L445.25 142.89L445.5 141.87L445.75 141.15L446 140.57L446.25 140.43L446.5 140.17L446.75 140.04L447 140.19L447.25 140.85L447.5 141.59L447.75 142.16L448 142.77L448.25 143.47L448.5 144.03L448.75 144.3L449 144.63L449.25 145.04L449.5 145.53L449.75 145.64L450 145.62L450.25 145.52L450.5 145.43L450.75 145.42L451 145.42L451.25 145.51L451.5 145.78L451.75 145.76L452 145.89L452.25 145.81L452.5 146.26L452.75 146.46L453 146.67L453.25 146.8L453.5 147L453.75 147.22L454 147.54L454.25 147.84L454.5 148.32L454.75 148.48L455 148.68L455.25 148.66L455.5 148.56L455.75 148.68L456 148.79L456.25 149.09L456.5 149.09L456.75 149.07L457 148.92L457.25 149.05L457.5 149.32L457.75 149.43L458 149.42L458.25 149.45L458.5 149.4L458.75 149.32L459 149.04L459.25 149.29L459.5 149.36L459.75 149.44L460 149.12L460.25 149.07L460.5 149.24L460.75 149.4L461 149.38L461.25 149.34L461.5 149.23L461.75 149.28L462 149.27L462.25 149.32L462.5 149.22L462.75 149.17L463 149.25L463.25 149.31L463.5 149.3L463.75 149.32L464 149.23L464.25 149.12L464.5 149.14L464.75 149.36L465 149.58L465.25 149.41L465.5 149.39L465.75 149.3L466 149.37L466.25 149.28L466.5 149.26L466.75 149.44L467 149.22L467.25 149.16L467.5 148.89L467.75 148.95L468 148.96L468.25 149.01L468.5 148.86L468.75 148.62L469 148.47L469.25 148.34L469.5 148.37L469.75 148.23L470 148.28L470.25 148.08L470.5 148.13L470.75 147.94L471 147.65L471.25 147.4L471.5 147.06L471.75 146.73L472 146.01L472.25 145.78L472.5 145.41L472.75 145.11L473 144.43L473.25 143.77L473.5 142.99L473.75 142.26L474 141.76L474.25 141.41L474.5 141.41L474.75 141.2L475 141.28L475.25 141.31L475.5 142.05L475.75 142.55L476 143.37L476.25 143.99L476.5 144.7L476.75 145.23L477 145.3L477.25 145.69L477.5 145.78L477.75 146.36L478 146.67L478.25 147.01L478.5 147.29L478.75 147.48L479 147.64L479.25 147.57L479.5 147.44L479.75 147.53L480 147.85L480.25 147.94L480.5 147.98L480.75 147.61L481 147.69L481.25 147.56L481.5 147.42L481.75 146.89L482 146.48L482.25 146.29L482.5 146.03L482.75 145.68L483 144.97L483.25 144.3L483.5 143.91L483.75 143.85L484 144.1L484.25 144.33L484.5 144.82L484.75 145.37L485 146L485.25 146.44L485.5 146.67L485.75 146.98L486 147.25L486.25 147.68L486.5 147.95L486.75 148.13L487 148.43L487.25 148.63L487.5 148.79L487.75 148.63L488 148.47L488.25 148.61L488.5 148.79L488.75 148.79L489 148.68L489.25 148.77L489.5 148.87L489.75 148.92L490 148.72L490.25 148.6L490.5 148.41L490.75 148.41L491 148.07L491.25 147.92L491.5 147.58L491.75 147.76L492 147.7L492.25 147.73L492.5 147.3L492.75 146.66L493 146.14L493.25 145.6L493.5 145.35L493.75 144.89L494 144.76L494.25 144.85L494.5 145.43L494.75 145.89L495 146.54L495.25 147.11L495.5 147.4L495.75 147.52L496 147.44L496.25 147.86L496.5 148.06L496.75 148.37L497 148.68L497.25 149.01L497.5 149.18L497.75 149.19L498 149.19L498.25 149.26L498.5 149.41L498.75 149.46L499 149.56L499.25 149.4L499.5 149.54L499.75 149.72L500 149.93L500.25 149.71L500.5 149.7L500.75 149.67L501 149.51L501.25 149.35L501.5 149.48L501.75 149.89L502 150.08L502.25 150.1L502.5 150.09L502.75 149.73L503 149.54L503.25 149.56L503.5 149.88L503.75 149.9L504 149.82L504.25 149.81L504.5 149.72L504.75 149.57L505 149.5L505.25 149.76L505.5 149.94L505.75 149.71L506 149.69L506.25 149.59L506.5 149.94L506.75 149.93L507 150.12L507.25 150.13L507.5 150.08L507.75 150.16L508 150.23L508.25 150.34L508.5 150.4L508.75 150.19L509 150.26L509.25 150.14L509.5 150.1L509.75 149.99L510 149.9L510.25 149.96L510.5 149.98L510.75 150.17L511 150.2L511.25 150.2L511.5 149.92L511.75 149.97L512 150.09L512.25 150.36L512.5 150.4L512.75 150.21L513 150.01L513.25 149.94L513.5 149.85L513.75 149.83L514 149.95L514.25 150L514.5 150.35L514.75 150.08L515 150.24L515.25 149.9L515.5 150.08L515.75 149.92L516 150.06L516.25 150.02L516.5 150.09L516.75 150.15L517 150.34L517.25 150.33L517.5 150.37L517.75 150.21L518 150.28L518.25 150.43L518.5 150.17L518.75 150.1L519 149.63L519.25 149.85L519.5 149.9L519.75 150.55L520 150.63L520.25 150.87L520.5 150.58L520.75 150.49L521 150.34L521.25 150.38L521.5 150.45L521.75 150.42L522 150.29L522.25 150.1L522.5 149.98L522.75 149.96L523 150.2L523.25 150.19L523.5 150.11L523.75 150.04L524 150.13L524.25 150.24L524.5 150.27L524.75 150.31L525 150.07L525.25 149.93L525.5 149.95L525.75 149.93L526 150.09L526.25 149.97L526.5 150.06L526.75 150.11L527 150.11L527.25 150.1L527.5 149.95L527.75 150.03L528 150.45L528.25 150.29L528.5 150.28L528.75 149.93L529 150.29L529.25 150.25L529.5 149.99L529.75 150.03L530 149.95L530.25 150.23L530.5 149.92L530.75 149.92L531 149.87L531.25 150.12L531.5 150.35L531.75 150.34L532 150.3L532.25 150.16L532.5 150.24L532.75 150.2L533 150.31L533.25 150.23L533.5 150.2L533.75 150.15L534 150.23L534.25 150.15L534.5 150.33L534.75 150.26L535 150.44L535.25 150.27L535.5 150.46L535.75 150.12L536 150.34L536.25 150.17L536.5 150.28L536.75 150.06L537 150.34L537.25 150.54L537.5 150.39L537.75 150.07L538 150.17L538.25 150.15L538.5 150.18L538.75 149.99L539 150.4L539.25 150.39L539.5 150.58L539.75 150.25L540 150.19L540.25 150.15L540.5 150.3L540.75 150.2L541 150.15L541.25 150.15L541.5 150.28L541.75 150.23L542 150.19L542.25 150.21L542.5 150.11L542.75 150L543 150.03L543.25 149.94L543.5 150.01L543.75 149.87L544 150.03L544.25 150.03L544.5 150.08L544.75 150.17L545 150.4L545.25 150.68L545.5 150.42L545.75 150.34L546 150.21L546.25 150.37L546.5 150.15L546.75 150.12L547 150.29L547.25 150.42L547.5 150.37L547.75 150.13L548 150.02L548.25 150.14L548.5 150.43L548.75 150.36L549 150.29L549.25 150.03L549.5 150.06L549.75 150.11L550 150.21L550.25 150.14L550.5 149.97L550.75 150.04L551 150.24L551.25 150.42L551.5 150.23L551.75 150.15L552 150.14L552.25 150.14L552.5 150.05L552.75 150L553 150.16L553.25 150.17L553.5 150.29L553.75 150.27L554 150.29L554.25 150.16L554.5 150.08L554.75 150.25L555 150.33L555.25 150.18L555.5 149.95L555.75 149.99L556 150.15L556.25 150.36L556.5 150.28L556.75 150.44L557 150.25L557.25 150.34L557.5 150.07L557.75 150.29L558 150.32L558.25 150.25L558.5 150.21L558.75 150.02L559 150.15L559.25 150.11L559.5 150.02L559.75 149.94L560 150.01L560.25 150.23L560.5 150.27L560.75 150.03L561 150.2L561.25 150.39L561.5 150.6L561.75 150.21L562 150.02L562.25 150L562.5 150.01L562.75 150.26L563 150.25L563.25 150.4L563.5 150.1L563.75 149.98L564 149.84L564.25 149.99L564.5 150.06L564.75 150.12L565 150.12L565.25 150.18L565.5 150.38L565.75 150.32L566 150.18L566.25 150.01L566.5 150.2L566.75 150.25L567 150.25L567.25 150.04L567.5 150.15L567.75 150.18L568 150.12L568.25 150.05L568.5 150.13L568.75 150.34L569 150.48L569.25 150.47L569.5 150.3L569.75 150.15L570 150.16L570.25 150.06L570.5 150.1L570.75 149.78L571 149.87L571.25 149.79L571.5 149.86L571.75 149.97L572 149.97L572.25 150.06L572.5 149.97L572.75 149.97L573 150.17L573.25 150.14L573.5 150.25L573.75 149.93L574 149.94L574.25 149.88L574.5 149.99L574.75 149.98L575 150.03L575.25 150.24L575.5 150.29L575.75 150.26L576 150.03L576.25 150.34L576.5 150.54L576.75 150.65L577 150.44L577.25 150.17L577.5 150.09L577.75 150.03L578 150.12L578.25 150.04L578.5 149.93L578.75 149.97L579 150.1L579.25 149.95L579.5 149.9L579.75 150.01L580 150.18L580.25 150.19L580.5 149.88L580.75 150.05L581 149.89L581.25 149.91L581.5 149.78L581.75 150.18L582 150.25L582.25 150.14L582.5 149.92L582.75 150.02L583 150.35L583.25 150.15L583.5 149.94L583.75 149.72L584 149.9L584.25 150.12L584.5 150.28L584.75 150.07L585 149.93L585.25 149.79L585.5 150.06L585.75 150.2L586 150.17L586.25 149.95L586.5 150L586.75 150.15L587 150.57L587.25 150.45L587.5 150.52L587.75 150.06L588 150L588.25 149.72L588.5 149.78L588.75 149.71L589 149.68L589.25 149.68L589.5 149.67L589.75 149.74L590 149.66L590.25 149.62L590.5 149.61L590.75 149.54L591 149.44L591.25 149.15M595.25 149.25L595.5 149.3L595.75 149.35L596 149.37L596.25 149.3L596.5 149.44L596.75 149.28L597 149.23L597.25 149.45L597.5 149.67L597.75 149.92L598 149.78L598.25 149.81L598.5 149.77L598.75 149.73L599 149.59L599.25 149.68L599.5 149.87L599.75 149.96L600 149.9L600.25 149.96L600.5 150.28L600.75 150.19L601 150.18L601.25 150.21L601.5 150.32L601.75 150.42L602 149.88L602.25 150.03L602.5 149.86L602.75 149.94L603 149.86L603.25 149.98L603.5 150.33L603.75 150.38L604 150.25L604.25 150.03L604.5 149.84L604.75 149.83L605 149.96L605.25 149.95L605.5 149.96L605.75 150.01L606 150.09L606.25 150.34L606.5 150.48L606.75 150.3L607 149.96L607.25 149.55L607.5 149.53L607.75 149.64L608 149.66L608.25 149.65L608.5 149.53L608.75 149.7L609 149.75L609.25 149.7L609.5 149.67L609.75 149.72L610 149.76L610.25 149.7L610.5 149.47L610.75 149.38L611 149.13L611.25 149.29L611.5 149.28L611.75 149.16L612 149.11L612.25 148.8L612.5 148.97L612.75 148.76L613 148.71L613.25 148.37L613.5 148.24L613.75 148.26L614 148.24L614.25 148.28L614.5 148.07L614.75 148.1L615 148L615.25 147.91L615.5 147.92L615.75 147.75L616 147.67L616.25 147.55L616.5 147.67L616.75 148.06L617 148.08L617.25 148.29L617.5 148.36L617.75 148.55L618 148.55L618.25 148.44L618.5 148.26L618.75 148.2L619 148.28L619.25 148.38L619.5 148.28L619.75 147.99L620 148.05L620.25 148.11L620.5 148.14L620.75 148.07M625.25 148.06L625.5 147.97L625.75 148.24L626 148.28L626.25 148.51L626.5 148.15L626.75 147.99L627 148.05L627.25 148.17L627.5 148.26L627.75 148.2L628 148.5L628.25 148.6L628.5 148.69L628.75 148.58L629 148.59L629.25 148.58L629.5 148.76L629.75 148.78L630 148.96L630.25 148.73L630.5 148.93L630.75 148.84L631 149.2L631.25 149.12L631.5 149.28L631.75 149.36L632 149.33L632.25 149.28L632.5 149.13L632.75 149.25L633 149.09L633.25 149.13L633.5 149.11L633.75 149.23L634 149.26L634.25 149.14L634.5 149.42L634.75 149.52L635 149.94L635.25 149.7L635.5 149.54L635.75 149.38L636 149.31L636.25 149.48L636.5 149.39L636.75 149.56L637 149.58L637.25 149.68L637.5 149.94L637.75 150L638 149.85L638.25 149.76L638.5 149.54L638.75 149.71L639 149.46L639.25 149.53L639.5 149.67L639.75 149.76L640 149.79L640.25 149.57L640.5 149.61L640.75 149.85L641 149.78L641.25 149.68L641.5 149.58L641.75 149.53L642 149.63L642.25 149.7L642.5 149.88L642.75 149.87L643 149.66L643.25 149.55L643.5 149.54L643.75 149.64L644 149.89L644.25 150.07L644.5 149.98L644.75 149.76L645 149.72L645.25 149.58L645.5 149.61L645.75 149.49L646 149.57L646.25 149.51L646.5 149.59L646.75 149.52L647 149.53L647.25 149.41L647.5 149.61L647.75 149.56L648 149.76L648.25 149.71L648.5 149.84L648.75 149.67L649 149.63L649.25 149.54L649.5 149.71L649.75 149.81L650 149.91L650.25 149.89L650.5 149.79L650.75 149.87L651 149.76L651.25 149.73L651.5 149.75L651.75 149.57L652 149.75L652.25 149.56L652.5 149.77L652.75 149.86L653 150.02L653.25 149.91L653.5 149.74L653.75 149.63L654 149.57L654.25 149.44L654.5 149.49L654.75 149.68L655 149.6L655.25 149.59L655.5 149.58L655.75 149.8L656 149.69L656.25 149.75L656.5 149.6L656.75 149.78L657 149.85L657.25 149.75L657.5 149.7L657.75 149.56L658 149.81L658.25 149.7L658.5 149.62L658.75 149.43L659 149.54L659.25 149.63L659.5 149.71L659.75 149.59L660 149.48L660.25 149.55L660.5 149.66L660.75 149.7L661 149.71L661.25 149.55L661.5 149.25L661.75 149.31L662 149.62L662.25 149.77L662.5 149.62L662.75 149.49L663 149.76L663.25 149.91L663.5 150.02L663.75 149.91L664 149.88L664.25 149.78L664.5 149.73L664.75 149.82L665 149.85L665.25 150.01L665.5 149.82L665.75 149.87L666 149.63L666.25 149.72L666.5 149.3L666.75 149.31L667 149.35L667.25 149.59L667.5 149.73L667.75 149.46L668 149.68L668.25 149.73L668.5 149.91L668.75 149.74" fill="none" stroke="#0d0d0d" stroke-width="1.7" stroke-linejoin="round"/>
<path d="M591 149.44L591.25 149.15L591.5 149L591.75 148.93L592 148.73L592.25 148.75L592.5 148.78L592.75 148.94L593 148.71L593.25 148.33L593.5 148.16L593.75 148.26L594 148.59L594.25 148.7L594.5 148.74L594.75 148.92L595 148.98L595.25 149.25L595.5 149.3" fill="none" stroke="#c8102e" stroke-width="1.7" stroke-linejoin="round"/>
<path d="M620.5 148.14L620.75 148.07L621 148.11L621.25 148.24L621.5 148.31L621.75 148.3L622 148.13L622.25 148L622.5 147.96L622.75 148.23L623 148.42L623.25 148.14L623.5 148.02L623.75 147.94L624 148.3L624.25 148.51L624.5 148.32L624.75 148.15L625 147.84L625.25 148.06L625.5 147.97" fill="none" stroke="#c8102e" stroke-width="1.7" stroke-linejoin="round"/>
<path d="M330.2 170.6H668.8" stroke="#111" stroke-width="1.9"/>
<path d="M375 170.6V174" stroke="#111" stroke-width="1.4"/>
<path d="M449.2 170.6V174" stroke="#111" stroke-width="1.4"/>
<path d="M523.5 170.6V174" stroke="#111" stroke-width="1.4"/>
<path d="M597.8 170.6V174" stroke="#111" stroke-width="1.4"/>
<path d="M337.9 170.6V172.5" stroke="#111" stroke-width="1.3"/>
<path d="M412.1 170.6V172.5" stroke="#111" stroke-width="1.3"/>
<path d="M486.3 170.6V172.5" stroke="#111" stroke-width="1.3"/>
<path d="M560.6 170.6V172.5" stroke="#111" stroke-width="1.3"/>
<path d="M635 170.6V172.5" stroke="#111" stroke-width="1.3"/>
<text x="375" y="189.4" font-size="15" text-anchor="middle" class="k">9.0</text>
<text x="449.2" y="189.4" font-size="15" text-anchor="middle" class="k">8.0</text>
<text x="524.4" y="189.4" font-size="15" text-anchor="middle" class="k">7.0</text>
<text x="598.3" y="189.4" font-size="15" text-anchor="middle" class="k">6.0</text>
<text x="637" y="189.4" font-size="15.4" text-anchor="start" font-style="italic" class="k">ppm</text>
<text x="570.5" y="12.1" font-size="16.8" text-anchor="start" font-weight="bold" fill="#c8102e" textLength="9.6" lengthAdjust="spacingAndGlyphs">H</text>
<text x="580.9" y="12.1" font-size="10.2" text-anchor="start" fill="#c8102e" textLength="5.2" lengthAdjust="spacingAndGlyphs" stroke="#c8102e" stroke-width="0.3">8</text>
<text x="633.2" y="12.1" font-size="16.8" text-anchor="start" font-weight="bold" fill="#c8102e" textLength="9.6" lengthAdjust="spacingAndGlyphs">H</text>
<text x="643.6" y="12.1" font-size="10.2" text-anchor="start" fill="#c8102e" textLength="5.2" lengthAdjust="spacingAndGlyphs" stroke="#c8102e" stroke-width="0.3">9</text>
</g>
<defs>
<linearGradient id="gBg1" x1="0" y1="0" x2="0.15" y2="1"><stop offset="0" stop-color="#bcbeb8"/><stop offset="0.5" stop-color="#c5c7c1"/><stop offset="1" stop-color="#d0d2cc"/></linearGradient>
<radialGradient id="gRed" cx="0.55" cy="0.35" r="0.8"><stop offset="0" stop-color="#ae1d25"/><stop offset="0.45" stop-color="#b82026"/><stop offset="0.8" stop-color="#c32424"/><stop offset="1" stop-color="#ca2922"/></radialGradient>
<linearGradient id="gBlue" x1="0" y1="0" x2="1" y2="0.2"><stop offset="0" stop-color="#3d3ea6"/><stop offset="0.35" stop-color="#3438a0"/><stop offset="0.7" stop-color="#232e84"/><stop offset="1" stop-color="#18245e"/></linearGradient><radialGradient id="gVig" cx="1" cy="0" r="0.5"><stop offset="0" stop-color="#03040c" stop-opacity="0.9"/><stop offset="0.5" stop-color="#03040c" stop-opacity="0.35"/><stop offset="1" stop-color="#03040c" stop-opacity="0"/></radialGradient><radialGradient id="gVig2" cx="0" cy="1" r="0.45"><stop offset="0" stop-color="#03040c" stop-opacity="0.85"/><stop offset="0.5" stop-color="#03040c" stop-opacity="0.3"/><stop offset="1" stop-color="#03040c" stop-opacity="0"/></radialGradient><linearGradient id="gVig3" x1="0" y1="0" x2="1" y2="0"><stop offset="0" stop-color="#03040c" stop-opacity="0.6"/><stop offset="0.03" stop-color="#03040c" stop-opacity="0.1"/><stop offset="0.06" stop-color="#03040c" stop-opacity="0"/><stop offset="0.94" stop-color="#03040c" stop-opacity="0"/><stop offset="1" stop-color="#03040c" stop-opacity="0.4"/></linearGradient><radialGradient id="gVig4" cx="0.25" cy="0.2" r="0.4"><stop offset="0" stop-color="#7070c0" stop-opacity="0.25"/><stop offset="1" stop-color="#7070c0" stop-opacity="0"/></radialGradient><linearGradient id="gRim" x1="0" y1="0" x2="1" y2="0.6"><stop offset="0" stop-color="#f49090" stop-opacity="0.9"/><stop offset="0.45" stop-color="#f49090" stop-opacity="0"/></linearGradient>
<radialGradient id="gOr" cx="0.45" cy="0.52" r="0.6"><stop offset="0" stop-color="#ee6c3e"/><stop offset="0.45" stop-color="#f07532"/><stop offset="0.85" stop-color="#f27c2a"/><stop offset="1" stop-color="#f28038"/></radialGradient>

</defs>
<g id="pc">
<text x="-1" y="210.7" font-size="17.5" text-anchor="start" class="k">(c)</text>
<rect x="21.9" y="212" width="150.4" height="113.8" fill="url(#gBg1)"/>
<circle cx="95.9" cy="270" r="44.6" fill="#8a2a24" opacity="0.5"/>
<circle cx="95.9" cy="269.8" r="44.3" fill="url(#gRed)"/>
<path d="M21.9 215.3 L70.8 250.2 Q74.8 254 71.6 257.2 Q68.8 259.3 65.4 257 L21.9 230.5 Z" fill="#0b0b0b"/>
<text x="136.6" y="310.2" font-size="13.6" text-anchor="start" font-weight="bold" fill="#000" textLength="26.2" lengthAdjust="spacingAndGlyphs">1cm</text>
<rect x="142.5" y="314.2" width="18.5" height="3.4" fill="#000"/>
<rect x="21.9" y="325.8" width="150.4" height="113.8" fill="url(#gBlue)"/>
<rect x="21.9" y="325.8" width="150.4" height="113.8" fill="url(#gVig)"/>
<rect x="21.9" y="325.8" width="150.4" height="113.8" fill="url(#gVig2)"/>
<rect x="21.9" y="325.8" width="150.4" height="113.8" fill="url(#gVig3)"/>
<rect x="21.9" y="325.8" width="150.4" height="113.8" fill="url(#gVig4)"/>
<circle cx="97.7" cy="383.3" r="44.8" fill="#7a1a20" opacity="0.6"/>
<circle cx="97.5" cy="382.9" r="44.6" fill="url(#gOr)"/>
<circle cx="97.5" cy="382.9" r="43.9" fill="none" stroke="url(#gRim)" stroke-width="1.4"/>
<text x="139.4" y="421.1" font-size="13.6" text-anchor="start" font-weight="bold" fill="#fff" textLength="26.4" lengthAdjust="spacingAndGlyphs">1cm</text>
<rect x="145" y="426.3" width="18.7" height="3.2" fill="#fff"/>
</g>
<defs>
<filter id="fSem" filterUnits="userSpaceOnUse" x="220.9" y="326.1" width="162" height="98" color-interpolation-filters="sRGB">
 <feTurbulence type="fractalNoise" baseFrequency="0.035 0.07" numOctaves="4" seed="14" result="t"/>
 <feColorMatrix in="t" type="matrix" values="1 0 0 0 0  1 0 0 0 0  1 0 0 0 0  0 0 0 0 1" result="g"/>
 <feComponentTransfer in="g" result="c"><feFuncR type="table" tableValues="0.14 0.16 0.19 0.23 0.29 0.37 0.47 0.57 0.66"/><feFuncG type="table" tableValues="0.14 0.16 0.19 0.23 0.29 0.37 0.47 0.57 0.66"/><feFuncB type="table" tableValues="0.14 0.16 0.19 0.23 0.29 0.37 0.47 0.57 0.66"/></feComponentTransfer>
 <feGaussianBlur in="g" stdDeviation="0.5" result="gb"/>
 <feConvolveMatrix in="gb" order="3" kernelMatrix="2 1 0 1 0 -1 0 -1 -2" divisor="1" bias="0" preserveAlpha="true" result="e"/>
 <feColorMatrix in="e" type="matrix" values="0 0 0 0 0.88  0 0 0 0 0.88  0 0 0 0 0.88  3.4 0 0 0 -0.25" result="hl"/>
 <feComposite in="hl" in2="c" operator="over" result="m"/>
 <feGaussianBlur in="m" stdDeviation="0.35"/>
</filter>
<linearGradient id="gSemV" x1="0" y1="0" x2="0" y2="1"><stop offset="0" stop-color="#fff" stop-opacity="0"/><stop offset="0.14" stop-color="#fff" stop-opacity="0.55"/><stop offset="0.5" stop-color="#fff" stop-opacity="0.85"/><stop offset="0.9" stop-color="#fff" stop-opacity="1"/><stop offset="1" stop-color="#fff" stop-opacity="0.6"/></linearGradient>
<mask id="mSem" maskUnits="userSpaceOnUse" x="220.9" y="326.1" width="162" height="98"><rect x="220.9" y="326.1" width="162" height="98" fill="url(#gSemV)"/></mask>
</defs>
<g id="pd">
<text x="195.4" y="214.6" font-size="17.5" text-anchor="start" class="k">(d)</text>
<rect x="220.9" y="211.1" width="162" height="115" fill="#797979"/>
<path d="M262 211 Q258 240 250 262 Q246 280 236 300" fill="none" stroke="#8a8a8a" stroke-width="0.7" opacity="0.3"/>
<path d="M300 225 Q296 250 292 268" fill="none" stroke="#8a8a8a" stroke-width="0.7" opacity="0.3"/>
<path d="M345 213 Q340 240 332 262 Q328 276 322 290" fill="none" stroke="#8a8a8a" stroke-width="0.7" opacity="0.3"/>
<path d="M360 230 Q352 258 346 275" fill="none" stroke="#8a8a8a" stroke-width="0.7" opacity="0.3"/>
<path d="M270 300 Q275 310 282 318" fill="none" stroke="#8a8a8a" stroke-width="0.7" opacity="0.3"/>
<path d="M310 250 Q318 262 322 275" fill="none" stroke="#8a8a8a" stroke-width="0.7" opacity="0.3"/>
<path d="M240 240 Q246 252 256 258" fill="none" stroke="#8a8a8a" stroke-width="0.7" opacity="0.3"/>
<path d="M372 250 Q366 268 360 285" fill="none" stroke="#8a8a8a" stroke-width="0.7" opacity="0.3"/>
<rect x="220.9" y="325.2" width="162" height="1.2" fill="#555"/>
<rect x="220.9" y="326.1" width="162" height="113" fill="#363636"/>
<g mask="url(#mSem)"><rect x="220.9" y="326.1" width="162" height="98" filter="url(#fSem)"/></g>
<defs><filter id="fBl" x="-30%" y="-60%" width="160%" height="220%"><feGaussianBlur stdDeviation="3.5"/></filter><clipPath id="cpSem"><rect x="220.9" y="326.1" width="162" height="97.7"/></clipPath></defs>
<g clip-path="url(#cpSem)"><g filter="url(#fBl)">
<ellipse cx="302" cy="333" rx="95" ry="8" fill="#000" opacity="0.25"/>
<ellipse cx="350" cy="352" rx="42" ry="15" fill="#000" opacity="0.55"/>
<ellipse cx="300" cy="346" rx="28" ry="8" fill="#000" opacity="0.3"/>
<ellipse cx="246" cy="366" rx="26" ry="5" fill="#000" opacity="0.35"/>
<ellipse cx="305" cy="374" rx="18" ry="6" fill="#000" opacity="0.3"/>
<ellipse cx="370" cy="400" rx="15" ry="10" fill="#000" opacity="0.2"/>
<ellipse cx="252" cy="388" rx="38" ry="8" fill="#fff" opacity="0.2"/>
<ellipse cx="300" cy="419" rx="85" ry="3.5" fill="#fff" opacity="0.1"/>
<ellipse cx="238" cy="349" rx="18" ry="7" fill="#fff" opacity="0.14"/>
<ellipse cx="334" cy="368" rx="13" ry="6" fill="#fff" opacity="0.1"/>
<ellipse cx="280" cy="404" rx="30" ry="6" fill="#fff" opacity="0.12"/>
</g></g>
<rect x="220.9" y="423.8" width="162" height="15.3" fill="#3c3c3c"/>
<text x="333.1" y="306.8" font-size="13.6" text-anchor="start" font-weight="bold" fill="#fff" textLength="35.8" lengthAdjust="spacingAndGlyphs">10μm</text>
<rect x="340" y="314" width="25.2" height="2.8" fill="#fff"/>
<text x="332.3" y="418.7" font-size="13.6" text-anchor="start" font-weight="bold" fill="#fff" textLength="43" lengthAdjust="spacingAndGlyphs">200μm</text>
<rect x="343.7" y="425.6" width="20.3" height="3" fill="#fff"/>
</g>
<defs><filter id="fC" x="0" y="0" width="1" height="1" color-interpolation-filters="sRGB"><feTurbulence type="fractalNoise" baseFrequency="0.47" numOctaves="3" seed="5" result="a"/><feTurbulence type="fractalNoise" baseFrequency="0.83" numOctaves="1" seed="55" result="b"/><feComposite in="a" in2="b" operator="arithmetic" k1="0" k2="0.6" k3="0.4" k4="0"/><feColorMatrix type="matrix" values="1.2772 0 0 0 -0.1758  1.3205 0 0 0 -0.1818  0.3680 0 0 0 -0.0507  0 0 0 0 1"/><feGaussianBlur stdDeviation="0.4"/></filter><filter id="fO" x="0" y="0" width="1" height="1" color-interpolation-filters="sRGB"><feTurbulence type="fractalNoise" baseFrequency="0.47" numOctaves="3" seed="9" result="a"/><feTurbulence type="fractalNoise" baseFrequency="0.83" numOctaves="1" seed="59" result="b"/><feComposite in="a" in2="b" operator="arithmetic" k1="0" k2="0.6" k3="0.4" k4="0"/><feColorMatrix type="matrix" values="1.3941 0 0 0 -0.3364  0.2121 0 0 0 -0.0512  0.2576 0 0 0 -0.0622  0 0 0 0 1"/><feGaussianBlur stdDeviation="0.4"/></filter><filter id="fPt" x="0" y="0" width="1" height="1" color-interpolation-filters="sRGB"><feTurbulence type="fractalNoise" baseFrequency="0.47" numOctaves="3" seed="13" result="a"/><feTurbulence type="fractalNoise" baseFrequency="0.83" numOctaves="1" seed="63" result="b"/><feComposite in="a" in2="b" operator="arithmetic" k1="0" k2="0.6" k3="0.4" k4="0"/><feColorMatrix type="matrix" values="0.2273 0 0 0 -0.0548  1.2425 0 0 0 -0.2998  0.5607 0 0 0 -0.1353  0 0 0 0 1"/><feGaussianBlur stdDeviation="0.4"/></filter><filter id="fN" x="0" y="0" width="1" height="1" color-interpolation-filters="sRGB"><feTurbulence type="fractalNoise" baseFrequency="0.47" numOctaves="3" seed="17" result="a"/><feTurbulence type="fractalNoise" baseFrequency="0.83" numOctaves="1" seed="67" result="b"/><feComposite in="a" in2="b" operator="arithmetic" k1="0" k2="0.6" k3="0.4" k4="0"/><feColorMatrix type="matrix" values="1.5586 0 0 0 -0.6889  0.4676 0 0 0 -0.2067  1.6625 0 0 0 -0.7349  0 0 0 0 1"/><feGaussianBlur stdDeviation="0.4"/></filter></defs>
<g id="pe">
<text x="401.7" y="214.4" font-size="17.5" text-anchor="start" class="k">(e)</text>
<rect x="430.6" y="212.8" width="119.5" height="112.8" filter="url(#fC)"/>
<rect x="552.9" y="212.8" width="120.4" height="112.8" filter="url(#fO)"/>
<rect x="430.6" y="328.8" width="119.5" height="112.6" filter="url(#fPt)"/>
<rect x="552.9" y="328.8" width="120.4" height="112.6" filter="url(#fN)"/>
<text x="436.4" y="232.3" font-size="16" text-anchor="start" font-weight="bold" fill="#fff">C</text>
<text x="558.7" y="232.3" font-size="16" text-anchor="start" font-weight="bold" fill="#fff">O</text>
<text x="436.4" y="347.5" font-size="16" text-anchor="start" font-weight="bold" fill="#fff">Pt</text>
<text x="558.9" y="347.5" font-size="16" text-anchor="start" font-weight="bold" fill="#fff">N</text>
<text x="629.6" y="417.4" font-size="13.6" text-anchor="start" font-weight="bold" fill="#fff" textLength="27.5" lengthAdjust="spacingAndGlyphs">5μm</text>
<rect x="626.7" y="425" width="35.1" height="2.9" fill="#fff"/>
</g>
<g id="pf">
<text x="1.3" y="469.7" font-size="17.5" text-anchor="start" class="k">(f)</text>
<path d="M23.2 627 L23.5 622 L24.5 608 L25.8 595 L27 586 L27.7 583.6 L28.5 586.5 L29.3 590.5 L30.4 594.4 L31.2 596.5 L32.3 607 L33.3 617 L34 621.5 L34.6 620.8 L35.2 615 L36 590 L36.9 550 L37.9 505 L38.7 486.7 L39.5 497 L40.5 540 L41.5 585 L42.3 612 L42.9 618.5 L44 619.3 L45.5 619.1 L46.6 617.5 L47.6 611 L48.8 597 L50 584 L51.2 574 L52.2 570.8 L53.2 576 L54.3 583.5 L55 592 L55.8 605 L56.5 615 L57.2 620.2 L58.5 620.9 L59.5 620.67 L60.1 620.64 L60.7 621 L61.3 620.59 L61.9 620 L62.5 620.41 L63.1 620.94 L63.7 620.69 L64.3 620.34 L64.9 620.69 L65.5 620.51 L66.1 620.68 L66.7 619.92 L67.3 620.15 L67.9 620.68 L68.5 620.37 L69.1 620.56 L69.7 621.11 L70.3 620.33 L70.9 620.51 L71.5 620.24 L72.1 620.21 L72.7 620.4 L73.3 619.92 L73.9 619.7 L74.5 620.88 L75.1 620.38 L75.7 620.8 L76.3 620.46 L76.9 620.47 L77.5 620.64 L78.1 620.66 L78.7 620.01 L79.3 620.83 L79.9 620.09 L80.5 620.5 L81.1 621.3 L81.7 620.46 L82.3 621.01 L82.9 620.32 L83.5 620.66 L84.1 620.47 L84.7 620.6 L85.3 620.17 L85.9 620.16 L86.5 620.59 L87.1 619.95 L87.7 620.2 L88.3 620.72 L88.9 620.3 L89.5 620.21 L90.1 620.14 L90.7 620.58 L91.3 620.41 L91.9 620.6 L92.5 620.49 L93.1 621.19 L93.7 620.42 L94.3 619.91 L94.9 620.62 L95.5 620.59 L96.1 620.65 L96.7 620.06 L97.3 621 L97.9 620.61 L98.5 620.61 L99.1 620.09 L99.7 620.8 L100.3 620.62 L100.9 621.11 L101.5 620.51 L102.1 620.23 L102.7 620.69 L103.3 620.32 L103.9 620.75 L104.5 620.2 L105.1 620.46 L105.7 620.35 L106.3 620.3 L106.9 620.01 L107.5 619.76 L108.1 619.86 L108.7 619.53 L109.3 619.66 L109.9 619.44 L110.5 618.75 L111.1 619.52 L111.7 620.1 L112.3 619.86 L112.9 620.11 L113.5 620.22 L114.1 620.06 L114.7 619.91 L115.3 620.75 L115.9 620.92 L116.5 620.82 L117.1 620.81 L117.7 620.83 L118.3 620.71 L118.9 620.82 L119.5 620.74 L120.1 620.85 L120.7 620.42 L121.3 620.53 L121.9 620.94 L122.5 620.63 L123.1 619.93 L123.7 620.79 L124.3 619.97 L124.9 621.38 L125.5 620.95 L126.1 620.87 L126.7 620.29 L127.3 619.88 L127.9 619.75 L128.5 619.06 L129.1 617.57 L129.7 616.04 L130.3 613.62 L130.9 610.14 L131.5 605.35 L132.1 600.13 L132.7 595.79 L133.3 590.77 L133.9 587.18 L134.5 584.96 L135.1 583.99 L135.7 583.89 L136.3 585.71 L136.9 588.52 L137.5 591.49 L138.1 595.67 L138.7 600.23 L139.3 604.23 L139.9 608.02 L140.5 611.34 L141.1 614.35 L141.7 616.25 L142.3 618.25 L142.9 618.93 L143.5 620.22 L144.1 620.56 L144.7 619.99 L145.3 620.9 L145.9 620.45 L146.5 621.03 L147.1 620.68 L147.7 620.41 L148.3 620.53 L148.9 619.99 L149.5 620.16 L150.1 620.07 L150.7 619.81 L151.3 619.94 L151.9 619.48 L152.5 620.05 L153.1 619.55 L153.7 620.28 L154.3 620.36 L154.9 620.59 L155.5 620.31 L156.1 621.63 L156.7 620.65 L157.3 620.86 L157.9 620.62 L158.5 621.4 L159.1 620.8 L159.7 621.32 L160.3 620.7 L160.9 621.15 L161.5 620.94 L162.1 621.4 L162.7 621.01 L163.3 620.84 L163.9 621.3 L164.5 620.78 L165.1 620.88 L165.7 621.47 L166.3 620.61 L166.9 621.51 L167.5 621.14 L168.1 621 L168.7 621.4 L169.3 621.55 L169.9 621.17 L170.5 621.33 L171.1 621.67 L171.7 621.68 L172.3 621.43 L172.9 621.21 L173.5 621.18 L174.1 621.31 L174.7 621.76 L175.3 621.74 L175.9 621.67 L176.5 622.06 L177.1 621.52 L177.7 621.51 L178.3 621.53 L178.9 622.31 L179.5 621.02 L180.1 621.82 L180.7 621.89 L181.3 621.78 L181.9 622.56 L182.5 622.19 L183.1 622.08 L183.7 621.55 L184.3 622.03 L184.9 621.77 L185.5 621.93 L186.1 622 L186.7 621.79 L187.3 622.18 L187.7 627 Z" fill="#5a8dc2"/>
<rect x="23.1" y="468.4" width="164.6" height="158.5" fill="none" stroke="#111" stroke-width="1.6"/>
<path d="M50.2 627V629.5" stroke="#111" stroke-width="1.2"/>
<path d="M77.6 627V629.5" stroke="#111" stroke-width="1.2"/>
<path d="M105 627V629.5" stroke="#111" stroke-width="1.2"/>
<path d="M132.4 627V629.5" stroke="#111" stroke-width="1.2"/>
<path d="M159.8 627V629.5" stroke="#111" stroke-width="1.2"/>
<text x="22.8" y="643" font-size="14" text-anchor="middle" class="k">0</text>
<text x="77.6" y="643" font-size="14" text-anchor="middle" class="k">1</text>
<text x="132.6" y="643" font-size="14" text-anchor="middle" class="k">2</text>
<text x="187.5" y="643" font-size="14" text-anchor="middle" class="k">3</text>
<text x="106" y="661" font-size="14" text-anchor="middle" class="k">Energy (keV)</text>
<text transform="translate(16.2 547) rotate(-90)" font-size="14" text-anchor="middle" fill="#111" class="k">Intensity (arb. units)</text>
<text x="38.9" y="484.2" font-size="10" text-anchor="middle" class="k">C</text>
<text x="45.8" y="611.6" font-size="10" text-anchor="middle" class="k">N</text>
<text x="52.4" y="567.8" font-size="10" text-anchor="middle" class="k">O</text>
<text x="111" y="616.7" font-size="10" text-anchor="middle" class="k">Pt</text>
<text x="135.6" y="584.9" font-size="10" text-anchor="middle" class="k">Pt</text>
</g>
<g id="pg">
<text x="200.5" y="469.5" font-size="17.5" text-anchor="start" class="k">(g)</text>
<path d="M238.9 505.22L239.1 505.18L239.3 505.11L239.5 504.95L239.7 505.18L239.9 505.18L240.1 505.08L240.3 505.06L240.5 505.15L240.7 505.04L240.9 505.16L241.1 505.02L241.3 505.03L241.5 505.1L241.7 504.99L241.9 505.1L242.1 505.14L242.3 505L242.5 505.17L242.7 505.06L242.9 505.14L243.1 505.11L243.3 505.06L243.5 505.06L243.7 504.97L243.9 505.05L244.1 505.04L244.3 505.22L244.5 505.18L244.7 505L244.9 505.16L245.1 505.12L245.3 505.07L245.5 505.13L245.7 505.16L245.9 505.06L246.1 505.08L246.3 505.11L246.5 505.03L246.7 505.11L246.9 505.09L247.1 505.05L247.3 505.04L247.5 505.12L247.7 505.16L247.9 505.12L248.1 505.04L248.3 505.16L248.5 505.11L248.7 505.14L248.9 505.19L249.1 505.03L249.3 505.09L249.5 505.05L249.7 505.03L249.9 505.25L250.1 505.17L250.3 504.97L250.5 505.13L250.7 505.06L250.9 505.19L251.1 505.11L251.3 505.09L251.5 505.11L251.7 505.13L251.9 505.1L252.1 505.08L252.3 505.09L252.5 505.14L252.7 505.01L252.9 505.1L253.1 505.09L253.3 505.06L253.5 505.15L253.7 505L253.9 505.07L254.1 505.04L254.3 505.14L254.5 505.06L254.7 505.1L254.9 505.13L255.1 504.98L255.3 505.13L255.5 505.04L255.7 505.08L255.9 505.09L256.1 505.16L256.3 505.15L256.5 505.23L256.7 505.11L256.9 505.06L257.1 505.06L257.3 505.15L257.5 505.22L257.7 505.12L257.9 505.06L258.1 505.12L258.3 505.12L258.5 505.1L258.7 505.04L258.9 504.91L259.1 505.06L259.3 505.18L259.5 505.11L259.7 504.93L259.9 505.1L260.1 504.96L260.3 505.25L260.5 505.11L260.7 505.01L260.9 505.16L261.1 505.04L261.3 505.14L261.5 505.1L261.7 505.01L261.9 505.15L262.1 505L262.3 505.2L262.5 505.1L262.7 505.02L262.9 504.96L263.1 505.22L263.3 505.21L263.5 505L263.7 505.22L263.9 505.11L264.1 505.08L264.3 505.09L264.5 505.08L264.7 505.2L264.9 505.11L265.1 504.96L265.3 505.25L265.5 505.16L265.7 505.02L265.9 505.07L266.1 505.03L266.3 505.1L266.5 505.13L266.7 505.12L266.9 505.05L267.1 505.04L267.3 505.16L267.5 505.09L267.7 505.27L267.9 505.04L268.1 505.16L268.3 505.1L268.5 505.04L268.7 505.2L268.9 505.11L269.1 505.03L269.3 505.07L269.5 505.17L269.7 505L269.9 505.2L270.1 505.15L270.3 505.08L270.5 505.2L270.7 505.23L270.9 505.14L271.1 505.11L271.3 505.23L271.5 505.21L271.7 505.03L271.9 505.08L272.1 505.08L272.3 505.06L272.5 504.98L272.7 505.16L272.9 505.1L273.1 505.1L273.3 505.2L273.5 505.05L273.7 505.09L273.9 505.11L274.1 505.06L274.3 505.08L274.5 505.15L274.7 505.09L274.9 505.19L275.1 505.03L275.3 505.11L275.5 504.98L275.7 505.08L275.9 505.04L276.1 505.19L276.3 505.14L276.5 505.13L276.7 505.23L276.9 505.2L277.1 505.14L277.3 505.03L277.5 504.98L277.7 505.08L277.9 505.06L278.1 505.03L278.3 505.06L278.5 504.96L278.7 505.19L278.9 504.99L279.1 505.03L279.3 505.12L279.5 504.95L279.7 505.14L279.9 505.14L280.1 505.05L280.3 504.99L280.5 505.03L280.7 504.93L280.9 505.17L281.1 505.07L281.3 505L281.5 504.99L281.7 505.1L281.9 505.16L282.1 504.95L282.3 505L282.5 504.91L282.7 505.08L282.9 505.04L283.1 505.19L283.3 505.01L283.5 504.97L283.7 504.95L283.9 505.05L284.1 504.86L284.3 505.02L284.5 504.97L284.7 504.9L284.9 504.85L285.1 504.98L285.3 505.02L285.5 504.81L285.7 504.85L285.9 504.91L286.1 504.68L286.3 504.65L286.5 504.51L286.7 504.51L286.9 504.41L287.1 504.26L287.3 504.08L287.5 503.81L287.7 503.57L287.9 503.26L288.1 502.93L288.3 502.24L288.5 501.38L288.7 500.33L288.9 498.68L289.1 496.25L289.3 493.02L289.5 488.91L289.7 484.43L289.9 482.54L290.1 488.94L290.3 505.1L290.5 520.07L290.7 525.74L290.9 524.22L291.1 520.08L291.3 516.09L291.5 513.26L291.7 511.11L291.9 509.43L292.1 508.61L292.3 507.61L292.5 507.06L292.7 506.69L292.9 506.47L293.1 506.21L293.3 505.98L293.5 505.94L293.7 505.75L293.9 505.74L294.1 505.77L294.3 505.5L294.5 505.24L294.7 505.36L294.9 505.28L295.1 505.34L295.3 505.31L295.5 505.19L295.7 505.17L295.9 505.22L296.1 505.21L296.3 505.02L296.5 505.28L296.7 505.2L296.9 505.18L297.1 505.2L297.3 505.09L297.5 505.16L297.7 505.24L297.9 505.24L298.1 505.18L298.3 505.12L298.5 505.08L298.7 505.24L298.9 505.17L299.1 505.1L299.3 504.96L299.5 505.06L299.7 504.97L299.9 505.22L300.1 505.13L300.3 505.06L300.5 505.09L300.7 505.31L300.9 505.2L301.1 505L301.3 505.09L301.5 505.01L301.7 504.97L301.9 505.11L302.1 505.29L302.3 505.22L302.5 505.1L302.7 505.06L302.9 505.11L303.1 505.17L303.3 504.97L303.5 504.94L303.7 505.23L303.9 505.1L304.1 505.2L304.3 505.09L304.5 505.19L304.7 505.02L304.9 505.1L305.1 505.18L305.3 505.14L305.5 505.01L305.7 505.12L305.9 504.99L306.1 504.92L306.3 505.07L306.5 505.13L306.7 505.08L306.9 504.9L307.1 505.05L307.3 505.03L307.5 504.92L307.7 504.74L307.9 505L308.1 504.96L308.3 504.9L308.5 504.69L308.7 504.67L308.9 504.82L309.1 504.74L309.3 504.64L309.5 504.49L309.7 504.43L309.9 504.2L310.1 504.03L310.3 503.74L310.5 503.5L310.7 503L310.9 502.49L311.1 501.62L311.3 500.29L311.5 498.79L311.7 496.18L311.9 493.21L312.1 489.98L312.3 488.68L312.5 493.04L312.7 505.18L312.9 519.08L313.1 524.53L313.3 522.69L313.5 518.99L313.7 515.41L313.9 512.61L314.1 510.75L314.3 509.18L314.5 508.33L314.7 507.57L314.9 506.88L315.1 506.53L315.3 506.28L315.5 506.11L315.7 506L315.9 505.77L316.1 505.75L316.3 505.47L316.5 505.28L316.7 505.44L316.9 505.45L317.1 505.35L317.3 505.26L317.5 505.35L317.7 505.44L317.9 505.26L318.1 505.19L318.3 505.17L318.5 505.38L318.7 505.21L318.9 505.25L319.1 505.29L319.3 505.27L319.5 505.1L319.7 505.24L319.9 505.23L320.1 505.19L320.3 505.23L320.5 505.1L320.7 505.14L320.9 505.1L321.1 505.19L321.3 505.08L321.5 505.16L321.7 505.04L321.9 505.11L322.1 505.09L322.3 505.11L322.5 505.13L322.7 505.1L322.9 505.09L323.1 504.94L323.3 505.2L323.5 505.06L323.7 505.08L323.9 505.04L324.1 505.18L324.3 505.03L324.5 505.14L324.7 505.19L324.9 505.23L325.1 505.19L325.3 505.14L325.5 504.99L325.7 505.19L325.9 505.18L326.1 505.15L326.3 505.14L326.5 505.08L326.7 505.03L326.9 505.16L327.1 505.17L327.3 504.98L327.5 505.14L327.7 505.08L327.9 505.13L328.1 505.07L328.3 505.13L328.5 505.12L328.7 505.1L328.9 504.92L329.1 505.09L329.3 505.02L329.5 504.91L329.7 505.05L329.9 504.87L330.1 505.04L330.3 505.08L330.5 504.89L330.7 504.98L330.9 504.92L331.1 504.91L331.3 504.72L331.5 504.83L331.7 504.75L331.9 504.74L332.1 504.61L332.3 504.62L332.5 504.45L332.7 504.35L332.9 504.24L333.1 503.94L333.3 503.73L333.5 503.31L333.7 502.85L333.9 502.11L334.1 501.31L334.3 500.08L334.5 498.18L334.7 495.71L334.9 492.23L335.1 487.94L335.3 484.67L335.5 486.17L335.7 496.82L335.9 513.01L336.1 523.7L336.3 525.03L336.5 521.92L336.7 517.7L336.9 514.34L337.1 511.81L337.3 510.13L337.5 508.82L337.7 507.91L337.9 507.34L338.1 506.81L338.3 506.63L338.5 506.17L338.7 506.05L338.9 505.84L339.1 505.66L339.3 505.8L339.5 505.42L339.7 505.63L339.9 505.35L340.1 505.42L340.3 505.56L340.5 505.18L340.7 505.21L340.9 505.4L341.1 505.29L341.3 505.21L341.5 505.24L341.7 505.15L341.9 505.23L342.1 505.32L342.3 505.17L342.5 505.2L342.7 505.28L342.9 505.33L343.1 505.12L343.3 505.19L343.5 505.12L343.7 505.11L343.9 505.12L344.1 505.1L344.3 505.01L344.5 504.99L344.7 505.08L344.9 505.15L345.1 505.23L345.3 505.09L345.5 505.12L345.7 505.18L345.9 505.19L346.1 505.12L346.3 505.12L346.5 505.27L346.7 505.1L346.9 505.08L347.1 504.99L347.3 505.15L347.5 505.1L347.7 505.27L347.9 505.09L348.1 505.18L348.3 505.19L348.5 505.25L348.7 505.01L348.9 505.24L349.1 505.12L349.3 505.11L349.5 505.09L349.7 505.08L349.9 505.09L350.1 504.93L350.3 505.15L350.5 505.12L350.7 505.04L350.9 505.11L351.1 505.29L351.3 505.14L351.5 505.08L351.7 505.24L351.9 505.05L352.1 505.1L352.3 505.07L352.5 505.09L352.7 505.17L352.9 505.15L353.1 505.05L353.3 505.1L353.5 505.11L353.7 505.08L353.9 505.1L354.1 505.05L354.3 505.05L354.5 505.11L354.7 505.03L354.9 505.14L355.1 505.09L355.3 505.03L355.5 505.06L355.7 505.07L355.9 505.09L356.1 505.11L356.3 505.09L356.5 505.04L356.7 505.22L356.9 505.18L357.1 505.11L357.3 505.18L357.5 505.13L357.7 505.09L357.9 505.11L358.1 505.31L358.3 505.18L358.5 505.19L358.7 505.07L358.9 505.15L359.1 505.28L359.3 505.14L359.5 505.19L359.7 505.2L359.9 505.15L360.1 505.23L360.3 505.12L360.5 505.14L360.7 505.06L360.9 505.31L361.1 505.13L361.3 505.11L361.5 505.21L361.7 505.07L361.9 505.1L362.1 505.04L362.3 505.11L362.5 505.07L362.7 505.15L362.9 505.09L363.1 505.06L363.3 505.08L363.5 505.09L363.7 505.06L363.9 505.18L364.1 505.16L364.3 505.11L364.5 505.01L364.7 505.14L364.9 505L365.1 505.12L365.3 505.11L365.5 505.06L365.7 505.04L365.9 505.05L366.1 505.26L366.3 505.08L366.5 505.09L366.7 505.18L366.9 505.14L367.1 505.18L367.3 505.01L367.5 505.02L367.7 505.36L367.9 505.1L368.1 505.08L368.3 505.12L368.5 505.18L368.7 505.01L368.9 505.12L369.1 505.1L369.3 505.15L369.5 505.12L369.7 505.06L369.9 505.04L370.1 504.92L370.3 505.18L370.5 504.99L370.7 505.07L370.9 505.23L371.1 505.07L371.3 505.15L371.5 505.09L371.7 505.16L371.9 505.11L372.1 505.06L372.3 505.21L372.5 505.08L372.7 505L372.9 505.08L373.1 505.14L373.3 505.02L373.5 505.16L373.7 505.16L373.9 505.27L374.1 505.05L374.3 505.15L374.5 504.97L374.7 505.07L374.9 505.11L375.1 505.13L375.3 505.1L375.5 505.1L375.7 505.06L375.9 505.07L376.1 505.13L376.3 505.15L376.5 505.15L376.7 505.18L376.9 505.19L377.1 504.96L377.3 505.06L377.5 505.09L377.7 505.05L377.9 505.18L378.1 505.16L378.3 505.09L378.5 505.11L378.7 505.2L378.9 505.08L379.1 505.08L379.3 505.17L379.5 505.14L379.7 505.21L379.9 505.13L380.1 505.16L380.3 505.06L380.5 505.03L380.7 505.1L380.9 504.9L381.1 505.13L381.3 505.18L381.5 505.11L381.7 505.09L381.9 505.19L382.1 505.1L382.3 505.18L382.5 505.27L382.7 505.16L382.9 505.17L383.1 505.14L383.3 505.12L383.5 505.12L383.7 505.11L383.9 505.19L384.1 504.98L384.3 505.08L384.5 505.15L384.7 505.04L384.9 505.09" fill="none" stroke="#69ab49" stroke-width="1.9" stroke-linejoin="round"/>
<path d="M238.9 544.81 L239.4 546.09 L239.9 543.08 L240.4 545.28 L240.9 543.97 L241.4 546.04 L241.9 546.43 L242.4 546.13 L242.9 544.57 L243.4 544.68 L243.9 542.69 L244.4 544.98 L244.9 545.47 L245.4 543.38 L245.9 546.2 L246.4 540.81 L246.9 544.24 L247.4 545.82 L247.9 545.33 L248.4 545.53 L248.9 546.62 L249.4 546.65 L249.9 545.57 L250.4 542.65 L250.9 546.24 L251.4 546.02 L251.9 546.3 L252.4 544.18 L252.9 544.11 L253.4 543.4 L253.9 542.72 L254.4 545.31 L254.9 545.25 L255.4 545.87 L255.9 546.21 L256.4 543.79 L256.9 543.65 L257.4 541.63 L257.9 544.58 L258.4 546.23 L258.9 546.41 L259.4 545.51 L259.9 546.31 L260.4 540.02 L260.9 544.56 L261.4 546.7 L261.9 542.95 L262.4 546.07 L262.9 544.08 L263.4 546.26 L263.9 546.5 L264.4 546.09 L264.9 545.15 L265.4 546.31 L265.9 545.72 L266.4 546.06 L266.9 544.72 L267.4 545.16 L267.9 545.02 L268.4 542.28 L268.9 545.69 L269.4 545.21 L269.9 545.18 L270.4 546.12 L270.9 543.03 L271.4 545.65 L271.9 542.88 L272.4 545.98 L272.9 545.59 L273.4 541.53 L273.9 546.55 L274.4 546.36 L274.9 546.07 L275.4 544.23 L275.9 545.01 L276.4 545.82 L276.9 546.59 L277.4 542.41 L277.9 546.32 L278.4 545.28 L278.9 543.76 L279.4 546.54 L279.9 544.95 L280.4 545.67 L280.9 546.1 L281.4 546.49 L281.9 541.37 L282.4 545.31 L282.9 546.2 L283.4 546.09 L283.9 542.15 L284.4 546.06 L284.9 546.55 L285.4 546.44 L285.9 546.42 L286.4 546.15 L286.9 546.51 L287.4 545.13 L287.9 546.37 L288.4 544.94 L288.9 546.47 L289.4 544.6 L289.9 546.33 L290.4 542.2 L290.9 545.64 L291.4 544.43 L291.9 546.28 L292.4 546.69 L292.9 542.45 L293.4 544.91 L293.9 543.39 L294.4 545.6 L294.9 543.91 L295.4 546.63 L295.9 542.67 L296.4 545.81 L296.9 544.95 L297.4 545.52 L297.9 546.56 L298.4 546.6 L298.9 541.27 L299.4 546.48 L299.9 546.23 L300.4 545.96 L300.9 546.04 L301.4 543.65 L301.9 546.36 L302.4 546.16 L302.9 542.39 L303.4 542.19 L303.9 545.94 L304.4 546.7 L304.9 546.46 L305.4 546.25 L305.9 546.5 L306.4 546.04 L306.9 544.78 L307.4 546.27 L307.9 545.77 L308.4 544.37 L308.9 546.11 L309.4 546.61 L309.9 545.92 L310.4 545.69 L310.9 543.61 L311.4 545.65 L311.9 542.49 L312.4 545.82 L312.9 545.85 L313.4 545.18 L313.9 546.51 L314.4 544.11 L314.9 545.06 L315.4 546.17 L315.9 545.31 L316.4 545.87 L316.9 541.74 L317.4 541.63 L317.9 546 L318.4 546.62 L318.9 537.46 L319.4 545.29 L319.9 544.6 L320.4 543.68 L320.9 546.55 L321.4 542.51 L321.9 545.72 L322.4 545.82 L322.9 545.1 L323.4 545.85 L323.9 546.07 L324.4 545.4 L324.9 544.29 L325.4 546.48 L325.9 545.42 L326.4 544.57 L326.9 541.07 L327.4 546.25 L327.9 546 L328.4 542.77 L328.9 545.59 L329.4 544.8 L329.9 546.13 L330.4 546.44 L330.9 545.94 L331.4 545.07 L331.9 545.79 L332.4 545.84 L332.9 545.1 L333.4 544.77 L333.9 545.31 L334.4 545.45 L334.9 545.03 L335.4 543.43 L335.9 546.07 L336.4 546.48 L336.9 542.28 L337.4 544.94 L337.9 543.01 L338.4 546.04 L338.9 543.19 L339.4 545.86 L339.9 546.21 L340.4 545.69 L340.9 544.91 L341.4 545.81 L341.9 545.89 L342.4 545.68 L342.9 546.29 L343.4 546.38 L343.9 546.44 L344.4 546.42 L344.9 546.03 L345.4 545.16 L345.9 543.91 L346.4 544.02 L346.9 544.72 L347.4 546.35 L347.9 542.19 L348.4 546.35 L348.9 541.3 L349.4 546.51 L349.9 543.13 L350.4 545.03 L350.9 545.79 L351.4 543.92 L351.9 545.96 L352.4 545.9 L352.9 538.63 L353.4 544.55 L353.9 544.56 L354.4 544.97 L354.9 542.62 L355.4 545.39 L355.9 546.61 L356.4 542.62 L356.9 542.42 L357.4 544.8 L357.9 545.97 L358.4 542.48 L358.9 546.57 L359.4 542.37 L359.9 544.87 L360.4 545.88 L360.9 546.52 L361.4 542.15 L361.9 546.53 L362.4 544.6 L362.9 546.22 L363.4 545.95 L363.9 546.47 L364.4 546.26 L364.9 545.93 L365.4 546.33 L365.9 546.14 L366.4 546.51 L366.9 546.55 L367.4 546.59 L367.9 546.69 L368.4 546.55 L368.9 545.21 L369.4 545.55 L369.9 541.39 L370.4 544.45 L370.9 545.27 L371.4 543.47 L371.9 545.96 L372.4 545.46 L372.9 543.83 L373.4 544.31 L373.9 546.52 L374.4 545.58 L374.9 545.81 L375.4 546.23 L375.9 546.31 L376.4 546.45 L376.9 545.91 L377.4 543.6 L377.9 544.59 L378.4 544.39 L378.9 543.78 L379.4 546.55 L379.9 543.08 L380.4 545.16 L380.9 546.65 L381.4 546.52 L381.9 546.37 L382.4 546.28 L382.9 545.64 L383.4 546.25 L383.9 545.45 L384.4 544.58 L384.4 552.99 L383.9 552.17 L383.4 552.24 L382.9 555.11 L382.4 552.49 L381.9 552.64 L381.4 552.53 L380.9 552.99 L380.4 552.03 L379.9 555.79 L379.4 556.59 L378.9 552.67 L378.4 553.68 L377.9 554.81 L377.4 552.55 L376.9 553.35 L376.4 555.53 L375.9 553.98 L375.4 553.23 L374.9 552.75 L374.4 553.08 L373.9 559.56 L373.4 552.83 L372.9 555.93 L372.4 557.38 L371.9 552.93 L371.4 555.92 L370.9 552.54 L370.4 553.5 L369.9 552.18 L369.4 556.38 L368.9 553.8 L368.4 552.98 L367.9 555.16 L367.4 552.73 L366.9 552.29 L366.4 552.17 L365.9 552.84 L365.4 552.47 L364.9 559.14 L364.4 552.45 L363.9 552.82 L363.4 552.26 L362.9 552.54 L362.4 551.95 L361.9 553.37 L361.4 552.26 L360.9 551.95 L360.4 553.09 L359.9 554.01 L359.4 552.21 L358.9 552.61 L358.4 552.11 L357.9 554.23 L357.4 553.23 L356.9 555.57 L356.4 555.58 L355.9 553.26 L355.4 552.78 L354.9 553.25 L354.4 552.89 L353.9 552.75 L353.4 552.8 L352.9 558.42 L352.4 556.52 L351.9 556.7 L351.4 552.14 L350.9 556.95 L350.4 553.18 L349.9 557.36 L349.4 552.96 L348.9 552.54 L348.4 556.8 L347.9 552.93 L347.4 552.91 L346.9 553.27 L346.4 552.3 L345.9 552.77 L345.4 554.32 L344.9 552.51 L344.4 555.88 L343.9 553.06 L343.4 555.67 L342.9 552.64 L342.4 553.29 L341.9 553.79 L341.4 554.51 L340.9 554.22 L340.4 552.04 L339.9 556.71 L339.4 555.44 L338.9 552.12 L338.4 551.96 L337.9 560.91 L337.4 556.9 L336.9 554.45 L336.4 553.15 L335.9 553.48 L335.4 553.47 L334.9 552.3 L334.4 556.56 L333.9 552.06 L333.4 552.86 L332.9 553.64 L332.4 554.26 L331.9 553.16 L331.4 552.32 L330.9 552.84 L330.4 552.73 L329.9 552.5 L329.4 552.68 L328.9 552.31 L328.4 559.32 L327.9 552.02 L327.4 553.44 L326.9 552.01 L326.4 553.45 L325.9 553.88 L325.4 557.1 L324.9 552.21 L324.4 552.1 L323.9 552.13 L323.4 554.24 L322.9 552.8 L322.4 552.27 L321.9 552.44 L321.4 552.27 L320.9 557.12 L320.4 552.6 L319.9 553.89 L319.4 552.03 L318.9 553.92 L318.4 552.04 L317.9 555.35 L317.4 552.22 L316.9 552.19 L316.4 555.73 L315.9 552 L315.4 552.72 L314.9 552.67 L314.4 553.01 L313.9 554.1 L313.4 553.31 L312.9 552.39 L312.4 552.28 L311.9 557.41 L311.4 554.34 L310.9 552.56 L310.4 553.15 L309.9 552.75 L309.4 557.8 L308.9 554.02 L308.4 553 L307.9 552.81 L307.4 557.08 L306.9 552.94 L306.4 554.83 L305.9 554.84 L305.4 552.36 L304.9 556.05 L304.4 552.09 L303.9 552.56 L303.4 552.99 L302.9 557.21 L302.4 553.37 L301.9 553.19 L301.4 552.07 L300.9 552.06 L300.4 552.07 L299.9 552.43 L299.4 552.04 L298.9 553.49 L298.4 552.25 L297.9 553.54 L297.4 551.93 L296.9 551.93 L296.4 552.64 L295.9 557.13 L295.4 552.6 L294.9 552.51 L294.4 553.52 L293.9 559.2 L293.4 554.73 L292.9 551.94 L292.4 554.2 L291.9 555.47 L291.4 555.92 L290.9 553.24 L290.4 552.62 L289.9 553.62 L289.4 552.07 L288.9 554.45 L288.4 558.75 L287.9 557.11 L287.4 560.02 L286.9 552.7 L286.4 552.15 L285.9 552.25 L285.4 552.39 L284.9 553.53 L284.4 552.79 L283.9 555.41 L283.4 553.14 L282.9 553.46 L282.4 554.69 L281.9 551.96 L281.4 553.95 L280.9 552.02 L280.4 554.8 L279.9 552.98 L279.4 556.91 L278.9 554.55 L278.4 556.99 L277.9 554.57 L277.4 552.32 L276.9 552.27 L276.4 552.04 L275.9 552.18 L275.4 553.28 L274.9 552.25 L274.4 552.54 L273.9 554 L273.4 552.52 L272.9 552.53 L272.4 553.62 L271.9 552.15 L271.4 552.12 L270.9 552.19 L270.4 552.54 L269.9 552.18 L269.4 552.57 L268.9 553.61 L268.4 552.6 L267.9 552.39 L267.4 552.17 L266.9 552.98 L266.4 552.11 L265.9 552.11 L265.4 553.33 L264.9 553.3 L264.4 553.5 L263.9 557.75 L263.4 552.75 L262.9 555.46 L262.4 555.44 L261.9 555.51 L261.4 553.25 L260.9 553.29 L260.4 556.13 L259.9 553.29 L259.4 555.59 L258.9 556.28 L258.4 553.63 L257.9 554.57 L257.4 558.18 L256.9 552.96 L256.4 552.07 L255.9 551.9 L255.4 552.04 L254.9 560.65 L254.4 552.42 L253.9 554.93 L253.4 553.27 L252.9 553.87 L252.4 552.92 L251.9 558.27 L251.4 552.74 L250.9 552.23 L250.4 553.66 L249.9 552.74 L249.4 552.62 L248.9 552.29 L248.4 552.9 L247.9 554.5 L247.4 552.14 L246.9 553.48 L246.4 558.82 L245.9 555.02 L245.4 552.71 L244.9 553.59 L244.4 553.59 L243.9 554.56 L243.4 558.06 L242.9 552.15 L242.4 555.82 L241.9 551.94 L241.4 554.27 L240.9 553.29 L240.4 553.79 L239.9 553.91 L239.4 552.34 L238.9 553.39 Z" fill="#0a0a0a"/>
<path d="M239.4 595.24 L239.9 594.72 L240.4 595.21 L240.9 594.68 L241.4 593.47 L241.9 594.8 L242.4 595.75 L242.9 594.75 L243.4 595.19 L243.9 595.42 L244.4 595.68 L244.9 594.72 L245.4 595.24 L245.9 595.86 L246.4 595.72 L246.9 592.9 L247.4 595.49 L247.9 595.84 L248.4 595.56 L248.9 595.7 L249.4 595.56 L249.9 592.08 L250.4 595.41 L250.9 595.78 L251.4 595.38 L251.9 595.31 L252.4 595.09 L252.9 595.47 L253.4 595.42 L253.9 595.46 L254.4 595.5 L254.9 595.42 L255.4 595.81 L255.9 595.39 L256.4 595.87 L256.9 595.57 L257.4 595.32 L257.9 595.02 L258.4 595.61 L258.9 594.89 L259.4 595.86 L259.9 595.28 L260.4 595.73 L260.9 595.36 L261.4 594.82 L261.9 595.77 L262.4 595.24 L262.9 594.59 L263.4 594.98 L263.9 592.25 L264.4 595.18 L264.9 595.66 L265.4 595.1 L265.9 595.6 L266.4 595.65 L266.9 595.54 L267.4 595.5 L267.9 594.85 L268.4 592.54 L268.9 595.21 L269.4 594.71 L269.9 595.72 L270.4 595.47 L270.9 595.8 L271.4 595.64 L271.9 594.28 L272.4 595.43 L272.9 595.72 L273.4 595.3 L273.9 593.44 L274.4 595.61 L274.9 594.57 L275.4 595.69 L275.9 594.43 L276.4 595.55 L276.9 594.66 L277.4 595.27 L277.9 595.44 L278.4 595.14 L278.9 594.34 L279.4 594.76 L279.9 595 L280.4 595.58 L280.9 595.14 L281.4 592.34 L281.9 594.73 L282.4 594.55 L282.9 595.64 L283.4 595.84 L283.9 595.2 L284.4 595.61 L284.9 595.12 L285.4 594.35 L285.9 594.84 L286.4 595.73 L286.9 595.56 L287.4 594.59 L287.9 593.68 L288.4 594.26 L288.9 595.75 L289.4 595.58 L289.9 595.37 L290.4 595.23 L290.9 595.82 L291.4 595.73 L291.9 595.69 L292.4 595.81 L292.9 595.22 L293.4 595.2 L293.9 595.71 L294.4 595.37 L294.9 595.13 L295.4 595.32 L295.9 594.57 L296.4 595.47 L296.9 595.08 L297.4 595.82 L297.9 594.78 L298.4 595.71 L298.9 595.81 L299.4 595.55 L299.9 595.67 L300.4 595.71 L300.9 595.54 L301.4 595.79 L301.9 595.24 L302.4 595.66 L302.9 595.44 L303.4 595.42 L303.9 595.73 L304.4 595.08 L304.9 592.75 L305.4 595.49 L305.9 595.11 L306.4 592.82 L306.9 595.86 L307.4 595.3 L307.9 595.43 L308.4 595.34 L308.9 593.53 L309.4 595.32 L309.9 595.19 L310.4 595.5 L310.9 595.64 L311.4 593.96 L311.9 594.45 L312.4 594.91 L312.9 595.34 L313.4 594.38 L313.9 595.66 L314.4 595.82 L314.9 595.89 L315.4 595.04 L315.9 594.91 L316.4 595.66 L316.9 595.77 L317.4 595.49 L317.9 594.8 L318.4 595.18 L318.9 595.83 L319.4 595.8 L319.9 594.62 L320.4 595.08 L320.9 595.36 L321.4 595.37 L321.9 595.28 L322.4 595.49 L322.9 594.81 L323.4 594.61 L323.9 595.72 L324.4 595.4 L324.9 594.03 L325.4 595.03 L325.9 594.49 L326.4 595.42 L326.9 595.36 L327.4 595.32 L327.9 595.8 L328.4 595.2 L328.9 595.31 L329.4 595.22 L329.9 595.82 L330.4 595.45 L330.9 595.66 L331.4 595.58 L331.9 595.6 L332.4 595.72 L332.9 595.34 L333.4 595 L333.9 595.55 L334.4 595.24 L334.9 594.55 L335.4 594.46 L335.9 595.34 L336.4 595.82 L336.9 595.14 L337.4 595.65 L337.9 593.54 L338.4 594.4 L338.9 595.51 L339.4 595.21 L339.9 595.35 L340.4 593 L340.9 592.05 L341.4 594.75 L341.9 595.75 L342.4 594.25 L342.9 594.51 L343.4 595.22 L343.9 593.03 L344.4 595.69 L344.9 595.48 L345.4 595.55 L345.9 594.93 L346.4 595.38 L346.9 595.83 L347.4 595.07 L347.9 595.06 L348.4 595.55 L348.9 595.57 L349.4 595.74 L349.9 593.03 L350.4 594.91 L350.9 595.87 L351.4 595.48 L351.9 595.6 L352.4 595.15 L352.9 595.71 L353.4 595.4 L353.9 594.86 L354.4 595.03 L354.9 595.74 L355.4 595.73 L355.9 595.76 L356.4 594.98 L356.9 595.7 L357.4 594.35 L357.9 595.69 L358.4 595.39 L358.9 594.73 L359.4 595.58 L359.9 595.81 L360.4 595.76 L360.9 595.41 L361.4 592.71 L361.9 595.8 L362.4 594.92 L362.9 594.33 L363.4 595.82 L363.9 594.73 L364.4 595.37 L364.9 594.19 L365.4 595.35 L365.9 593.34 L366.4 592.77 L366.9 595.24 L367.4 595.59 L367.9 595.77 L368.4 595.18 L368.9 595.29 L369.4 593.78 L369.9 595.16 L370.4 595.23 L370.9 595.63 L371.4 595.66 L371.9 595.54 L372.4 594.2 L372.9 595.88 L373.4 595.63 L373.9 595.83 L374.4 593.52 L374.9 595.31 L375.4 595.14 L375.9 592.68 L376.4 595.77 L376.9 595.01 L377.4 592.35 L377.9 595.67 L378.4 594.98 L378.9 595.5 L379.4 594 L379.9 595.78 L380.4 595.62 L380.9 595.76 L381.4 595.87 L381.9 594.69 L382.4 595.19 L382.9 595.86 L383.4 595.57 L383.9 595.27 L384.4 594.74 L384.9 595.74 L384.9 599.75 L384.4 599.89 L383.9 599.43 L383.4 599.76 L382.9 600.14 L382.4 599.95 L381.9 599.75 L381.4 599.35 L380.9 600.14 L380.4 600.21 L379.9 600.25 L379.4 600.08 L378.9 599.96 L378.4 599.46 L377.9 600.81 L377.4 600.48 L376.9 600.28 L376.4 600.7 L375.9 600.16 L375.4 599.92 L374.9 599.44 L374.4 599.22 L373.9 601.51 L373.4 600.39 L372.9 599.15 L372.4 599.71 L371.9 599.28 L371.4 599.78 L370.9 599.18 L370.4 599.83 L369.9 599.46 L369.4 601.32 L368.9 600.09 L368.4 599.37 L367.9 599.52 L367.4 599.46 L366.9 599.71 L366.4 599.19 L365.9 599.7 L365.4 599.48 L364.9 600.02 L364.4 600.68 L363.9 599.16 L363.4 599.37 L362.9 599.54 L362.4 600.34 L361.9 599.75 L361.4 599.8 L360.9 599.25 L360.4 599.27 L359.9 599.54 L359.4 599.64 L358.9 601.03 L358.4 599.18 L357.9 599.33 L357.4 599.95 L356.9 599.48 L356.4 601.31 L355.9 600.15 L355.4 599.18 L354.9 599.21 L354.4 599.48 L353.9 599.24 L353.4 599.2 L352.9 601.18 L352.4 599.59 L351.9 600.22 L351.4 601.44 L350.9 600.64 L350.4 600.7 L349.9 599.3 L349.4 599.42 L348.9 601.61 L348.4 600.16 L347.9 600.86 L347.4 600.05 L346.9 599.45 L346.4 599.36 L345.9 600.04 L345.4 599.54 L344.9 599.88 L344.4 599.79 L343.9 600.91 L343.4 599.7 L342.9 600.21 L342.4 599.68 L341.9 599.62 L341.4 601.44 L340.9 600.51 L340.4 599.24 L339.9 599.65 L339.4 599.92 L338.9 599.74 L338.4 599.47 L337.9 599.17 L337.4 599.32 L336.9 599.6 L336.4 600.05 L335.9 599.5 L335.4 599.65 L334.9 599.16 L334.4 600.03 L333.9 599.26 L333.4 599.44 L332.9 600.48 L332.4 599.99 L331.9 600.32 L331.4 599.12 L330.9 599.98 L330.4 599.69 L329.9 599.98 L329.4 601.42 L328.9 600.24 L328.4 599.24 L327.9 599.81 L327.4 599.27 L326.9 599.47 L326.4 601.87 L325.9 599.15 L325.4 599.84 L324.9 599.22 L324.4 599.16 L323.9 599.27 L323.4 601.12 L322.9 599.35 L322.4 599.71 L321.9 599.89 L321.4 599.29 L320.9 599.74 L320.4 599.4 L319.9 600.51 L319.4 599.14 L318.9 600.1 L318.4 599.61 L317.9 599.34 L317.4 599.19 L316.9 599.21 L316.4 599.79 L315.9 599.28 L315.4 599.53 L314.9 600.23 L314.4 599.1 L313.9 600.01 L313.4 599.42 L312.9 600.09 L312.4 599.5 L311.9 600.3 L311.4 599.92 L310.9 599.37 L310.4 600.1 L309.9 600.01 L309.4 599.27 L308.9 599.13 L308.4 600.24 L307.9 599.84 L307.4 599.46 L306.9 599.31 L306.4 599.14 L305.9 601.27 L305.4 601.57 L304.9 600.13 L304.4 601.84 L303.9 599.96 L303.4 599.61 L302.9 599.77 L302.4 599.79 L301.9 599.99 L301.4 599.25 L300.9 599.29 L300.4 599.2 L299.9 600.44 L299.4 600.19 L298.9 599.3 L298.4 599.89 L297.9 600.18 L297.4 599.43 L296.9 601.81 L296.4 600.22 L295.9 599.18 L295.4 599.9 L294.9 599.29 L294.4 599.12 L293.9 599.31 L293.4 600.23 L292.9 599.91 L292.4 599.75 L291.9 599.24 L291.4 599.18 L290.9 599.27 L290.4 600.48 L289.9 599.74 L289.4 599.99 L288.9 600.24 L288.4 599.55 L287.9 599.37 L287.4 600.22 L286.9 602.58 L286.4 599.44 L285.9 600.09 L285.4 600.59 L284.9 599.71 L284.4 599.18 L283.9 600.03 L283.4 599.5 L282.9 599.3 L282.4 600.37 L281.9 599.11 L281.4 600.08 L280.9 599.84 L280.4 599.42 L279.9 599.9 L279.4 600.47 L278.9 599.24 L278.4 599.63 L277.9 600.67 L277.4 600.13 L276.9 599.54 L276.4 599.87 L275.9 600.52 L275.4 600.03 L274.9 599.27 L274.4 599.4 L273.9 599.13 L273.4 599.58 L272.9 600.06 L272.4 599.22 L271.9 599.88 L271.4 599.12 L270.9 599.71 L270.4 599.18 L269.9 599.11 L269.4 600.27 L268.9 599.93 L268.4 599.48 L267.9 600.01 L267.4 599.27 L266.9 599.99 L266.4 599.81 L265.9 599.62 L265.4 600.08 L264.9 599.71 L264.4 599.24 L263.9 599.61 L263.4 599.88 L262.9 599.41 L262.4 599.29 L261.9 599.17 L261.4 600.33 L260.9 599.67 L260.4 600.32 L259.9 599.53 L259.4 599.38 L258.9 601.06 L258.4 599.49 L257.9 599.8 L257.4 599.53 L256.9 600.4 L256.4 599.55 L255.9 599.13 L255.4 599.15 L254.9 599.15 L254.4 599.58 L253.9 599.85 L253.4 599.11 L252.9 600.39 L252.4 599.67 L251.9 599.32 L251.4 599.63 L250.9 599.19 L250.4 599.26 L249.9 600.85 L249.4 600.8 L248.9 599.15 L248.4 599.5 L247.9 599.56 L247.4 599.36 L246.9 599.92 L246.4 599.37 L245.9 599.86 L245.4 599.25 L244.9 599.4 L244.4 599.18 L243.9 599.37 L243.4 600.24 L242.9 599.13 L242.4 599.5 L241.9 599.54 L241.4 600.19 L240.9 599.67 L240.4 599.19 L239.9 599.83 L239.4 599.28 Z" fill="#5b8fc5"/>
<path d="M275 597.39L275.2 597.39L275.4 597.39L275.6 597.39L275.8 597.39L276 597.39L276.2 597.39L276.4 597.39L276.6 597.38L276.8 597.38L277 597.38L277.2 597.38L277.4 597.38L277.6 597.38L277.8 597.38L278 597.38L278.2 597.38L278.4 597.38L278.6 597.38L278.8 597.37L279 597.37L279.2 597.37L279.4 597.37L279.6 597.37L279.8 597.37L280 597.36L280.2 597.36L280.4 597.36L280.6 597.36L280.8 597.35L281 597.35L281.2 597.35L281.4 597.34L281.6 597.34L281.8 597.34L282 597.33L282.2 597.33L282.4 597.32L282.6 597.31L282.8 597.31L283 597.3L283.2 597.29L283.4 597.28L283.6 597.27L283.8 597.26L284 597.24L284.2 597.23L284.4 597.21L284.6 597.19L284.8 597.16L285 597.13L285.2 597.1L285.4 597.06L285.6 597.01L285.8 596.96L286 596.89L286.2 596.82L286.4 596.72L286.6 596.6L286.8 596.46L287 596.27L287.2 596.04L287.4 595.74L287.6 595.36L287.8 594.84L288 594.16L288.2 593.23L288.4 591.95L288.6 590.18L288.8 587.73L289 584.44L289.2 580.38L289.4 576.49L289.6 575.62L289.8 582.33L290 597.4L290.2 611.65L290.4 617.99L290.6 617.17L290.8 613.49L291 609.65L291.2 606.54L291.4 604.22L291.6 602.54L291.8 601.34L292 600.46L292.2 599.81L292.4 599.33L292.6 598.96L292.8 598.68L293 598.46L293.2 598.29L293.4 598.15L293.6 598.04L293.8 597.94L294 597.87L294.2 597.81L294.4 597.76L294.6 597.71L294.8 597.68L295 597.64L295.2 597.62L295.4 597.59L295.6 597.57L295.8 597.55L296 597.54L296.2 597.52L296.4 597.51L296.6 597.5L296.8 597.49L297 597.48L297.2 597.48L297.4 597.47L297.6 597.46L297.8 597.46L298 597.45L298.2 597.45L298.4 597.44L298.6 597.44L298.8 597.43L299 597.43L299.2 597.43L299.4 597.42L299.6 597.42L299.8 597.42L300 597.41L300.2 597.41L300.4 597.41L300.6 597.41L300.8 597.4L301 597.4L301.2 597.4L301.4 597.4L301.6 597.39L301.8 597.39L302 597.39L302.2 597.38L302.4 597.38L302.6 597.38L302.8 597.38L303 597.37L303.2 597.37L303.4 597.37L303.6 597.36L303.8 597.36L304 597.35L304.2 597.35L304.4 597.34L304.6 597.34L304.8 597.33L305 597.33L305.2 597.32L305.4 597.31L305.6 597.3L305.8 597.29L306 597.28L306.2 597.27L306.4 597.26L306.6 597.24L306.8 597.22L307 597.2L307.2 597.18L307.4 597.15L307.6 597.12L307.8 597.09L308 597.05L308.2 597L308.4 596.94L308.6 596.87L308.8 596.78L309 596.68L309.2 596.56L309.4 596.4L309.6 596.21L309.8 595.96L310 595.64L310.2 595.23L310.4 594.69L310.6 593.96L310.8 592.97L311 591.61L311.2 589.73L311.4 587.12L311.6 583.63L311.8 579.31L312 575.17L312.2 574.24L312.4 581.38L312.6 597.4L312.8 611.24L313 617.4L313.2 616.6L313.4 613.03L313.6 609.3L313.8 606.28L314 604.03L314.2 602.4L314.4 601.23L314.6 600.37L314.8 599.74L315 599.27L315.2 598.92L315.4 598.64L315.6 598.43L315.8 598.26L316 598.13L316.2 598.02L316.4 597.93L316.6 597.86L316.8 597.8L317 597.75L317.2 597.71L317.4 597.67L317.6 597.64L317.8 597.61L318 597.59L318.2 597.57L318.4 597.55L318.6 597.54L318.8 597.52L319 597.51L319.2 597.5L319.4 597.49L319.6 597.48L319.8 597.48L320 597.47L320.2 597.46L320.4 597.46L320.6 597.45L320.8 597.45L321 597.44L321.2 597.44L321.4 597.44L321.6 597.43L321.8 597.43L322 597.43L322.2 597.42L322.4 597.42L322.6 597.42L322.8 597.41L323 597.41L323.2 597.41L323.4 597.41L323.6 597.41L323.8 597.4L324 597.4L324.2 597.4L324.4 597.4L324.6 597.39L324.8 597.39L325 597.39L325.2 597.39L325.4 597.38L325.6 597.38L325.8 597.38L326 597.38L326.2 597.37L326.4 597.37L326.6 597.37L326.8 597.36L327 597.36L327.2 597.35L327.4 597.35L327.6 597.34L327.8 597.34L328 597.33L328.2 597.33L328.4 597.32L328.6 597.31L328.8 597.3L329 597.29L329.2 597.28L329.4 597.26L329.6 597.25L329.8 597.23L330 597.21L330.2 597.19L330.4 597.16L330.6 597.13L330.8 597.1L331 597.06L331.2 597.01L331.4 596.95L331.6 596.87L331.8 596.79L332 596.68L332.2 596.54L332.4 596.38L332.6 596.16L332.8 595.89L333 595.54L333.2 595.07L333.4 594.45L333.6 593.6L333.8 592.43L334 590.81L334.2 588.57L334.4 585.56L334.6 581.85L334.8 578.29L335 577.5L335.2 583.63L335.4 597.4L335.6 608.79L335.8 613.86L336 613.2L336.2 610.26L336.4 607.19L336.6 604.71L336.8 602.86L337 601.52L337.2 600.55L337.4 599.85L337.6 599.33L337.8 598.95L338 598.65L338.2 598.43L338.4 598.25L338.6 598.11L338.8 598L339 597.91L339.2 597.84L339.4 597.78L339.6 597.73L339.8 597.69L340 597.66L340.2 597.63L340.4 597.6L340.6 597.58L340.8 597.56L341 597.55L341.2 597.53L341.4 597.52L341.6 597.51L341.8 597.5L342 597.49L342.2 597.48L342.4 597.48L342.6 597.47L342.8 597.46L343 597.46L343.2 597.46L343.4 597.45L343.6 597.45L343.8 597.44L344 597.44L344.2 597.44L344.4 597.44L344.6 597.43L344.8 597.43L345 597.43L345.2 597.43L345.4 597.43L345.6 597.43L345.8 597.42L346 597.42L346.2 597.42L346.4 597.42L346.6 597.42L346.8 597.42L347 597.42L347.2 597.42L347.4 597.42L347.6 597.42L347.8 597.41L348 597.41L348.2 597.41L348.4 597.41L348.6 597.41L348.8 597.41L349 597.41L349.2 597.41L349.4 597.41L349.6 597.41L349.8 597.41" fill="none" stroke="#5b8fc5" stroke-width="1.8" stroke-linejoin="round"/>
<rect x="225.9" y="468.9" width="175" height="158.5" fill="none" stroke="#111" stroke-width="1.6"/>
<path d="M226 627.4V631.2" stroke="#111" stroke-width="1.4"/>
<path d="M284.4 627.4V631.2" stroke="#111" stroke-width="1.4"/>
<path d="M342.6 627.4V631.2" stroke="#111" stroke-width="1.4"/>
<path d="M401 627.4V631.2" stroke="#111" stroke-width="1.4"/>
<path d="M255.2 627.4V629.6" stroke="#111" stroke-width="1.3"/>
<path d="M313.5 627.4V629.6" stroke="#111" stroke-width="1.3"/>
<path d="M371.7 627.4V629.6" stroke="#111" stroke-width="1.3"/>
<text x="226" y="644.6" font-size="13.7" text-anchor="middle" class="k">3440</text>
<text x="285.3" y="644.6" font-size="13.7" text-anchor="middle" class="k">3480</text>
<text x="343.3" y="644.6" font-size="13.7" text-anchor="middle" class="k">3520</text>
<text x="401" y="644.6" font-size="13.7" text-anchor="middle" class="k">3560</text>
<text x="313.3" y="659.5" font-size="13.9" text-anchor="middle" class="k">Magnetic Field (G)</text>
<text transform="translate(216.8 546.3) rotate(-90)" font-size="14" text-anchor="middle" fill="#111" class="k">ESR amplitude</text>
<text x="355.5" y="497.6" font-size="11" fill="#111" class="k"><tspan font-weight="bold">4</tspan> + light</text>
<text x="356.9" y="539.3" font-size="11" fill="#111" class="k"><tspan font-weight="bold">7</tspan> + light</text>
<text x="351.8" y="590" font-size="11" fill="#111" class="k"><tspan font-weight="bold">6c</tspan> + light</text>
</g>
<g id="ph">
<text x="411.4" y="469.6" font-size="17.5" text-anchor="start" class="k">(h)</text>
<path d="M457.3 625.2H461.6" stroke="#111" stroke-width="1.4"/>
<text x="454.3" y="630.2" font-size="13.5" text-anchor="end" class="k">0.0</text>
<path d="M459 609.52H461.6" stroke="#111" stroke-width="1.3"/>
<path d="M457.3 593.84H461.6" stroke="#111" stroke-width="1.4"/>
<text x="454.3" y="598.84" font-size="13.5" text-anchor="end" class="k">0.6</text>
<path d="M459 578.16H461.6" stroke="#111" stroke-width="1.3"/>
<path d="M457.3 562.48H461.6" stroke="#111" stroke-width="1.4"/>
<text x="454.3" y="567.48" font-size="13.5" text-anchor="end" class="k">1.2</text>
<path d="M459 546.8H461.6" stroke="#111" stroke-width="1.3"/>
<path d="M457.3 531.11H461.6" stroke="#111" stroke-width="1.4"/>
<text x="454.3" y="536.11" font-size="13.5" text-anchor="end" class="k">1.8</text>
<path d="M459 515.43H461.6" stroke="#111" stroke-width="1.3"/>
<path d="M457.3 499.75H461.6" stroke="#111" stroke-width="1.4"/>
<text x="454.3" y="504.75" font-size="13.5" text-anchor="end" class="k">2.4</text>
<path d="M459 484.07H461.6" stroke="#111" stroke-width="1.3"/>
<path d="M457.3 468.39H461.6" stroke="#111" stroke-width="1.4"/>
<text x="454.3" y="473.39" font-size="13.5" text-anchor="end" class="k">3.0</text>
<path d="M463.7 627.2V631.2" stroke="#111" stroke-width="1.4"/>
<text x="463.7" y="645" font-size="13.5" text-anchor="middle" class="k">0</text>
<path d="M485.15 627.2V629.4" stroke="#111" stroke-width="1.4"/>
<path d="M506.6 627.2V631.2" stroke="#111" stroke-width="1.4"/>
<text x="506.6" y="645" font-size="13.5" text-anchor="middle" class="k">2</text>
<path d="M528.05 627.2V629.4" stroke="#111" stroke-width="1.4"/>
<path d="M549.5 627.2V631.2" stroke="#111" stroke-width="1.4"/>
<text x="549.5" y="645" font-size="13.5" text-anchor="middle" class="k">4</text>
<path d="M570.95 627.2V629.4" stroke="#111" stroke-width="1.4"/>
<path d="M592.4 627.2V631.2" stroke="#111" stroke-width="1.4"/>
<text x="592.4" y="645" font-size="13.5" text-anchor="middle" class="k">6</text>
<path d="M613.85 627.2V629.4" stroke="#111" stroke-width="1.4"/>
<path d="M635.3 627.2V631.2" stroke="#111" stroke-width="1.4"/>
<text x="635.3" y="645" font-size="13.5" text-anchor="middle" class="k">8</text>
<path d="M656.75 627.2V629.4" stroke="#111" stroke-width="1.4"/>
<path d="M678.2 627.2V631.2" stroke="#111" stroke-width="1.4"/>
<text x="678.2" y="645" font-size="13.5" text-anchor="middle" class="k">10</text>
<text x="572.6" y="659.3" font-size="13.9" text-anchor="middle" class="k">Irradiation time (min)</text>
<text transform="translate(430.1 564.7) rotate(-90)" font-size="16" fill="#111" class="k">A<tspan font-size="9.5" dy="4.7">0</tspan><tspan dy="-4.7">-A</tspan></text>
<defs><radialGradient id="sp0" cx="0.5" cy="0.5" r="0.5" fx="0.36" fy="0.3"><stop offset="0" stop-color="#fff"/><stop offset="0.18" stop-color="#a8ccee"/><stop offset="0.6" stop-color="#4a86c5"/><stop offset="1" stop-color="#4a86c5"/></radialGradient><radialGradient id="sp1" cx="0.5" cy="0.5" r="0.5" fx="0.36" fy="0.3"><stop offset="0" stop-color="#fff"/><stop offset="0.18" stop-color="#d0cdf4"/><stop offset="0.6" stop-color="#8f8bd0"/><stop offset="1" stop-color="#8f8bd0"/></radialGradient><radialGradient id="sp2" cx="0.5" cy="0.5" r="0.5" fx="0.36" fy="0.3"><stop offset="0" stop-color="#fff"/><stop offset="0.18" stop-color="#eaf4fd"/><stop offset="0.6" stop-color="#a6cbef"/><stop offset="1" stop-color="#a6cbef"/></radialGradient><radialGradient id="sp3" cx="0.5" cy="0.5" r="0.5" fx="0.36" fy="0.3"><stop offset="0" stop-color="#fff"/><stop offset="0.18" stop-color="#f8dc90"/><stop offset="0.6" stop-color="#e8a621"/><stop offset="1" stop-color="#e8a621"/></radialGradient><radialGradient id="sp4" cx="0.5" cy="0.5" r="0.5" fx="0.36" fy="0.3"><stop offset="0" stop-color="#fff"/><stop offset="0.18" stop-color="#f4a8a8"/><stop offset="0.6" stop-color="#dc4b4b"/><stop offset="1" stop-color="#dc4b4b"/></radialGradient><radialGradient id="sp5" cx="0.5" cy="0.5" r="0.5" fx="0.36" fy="0.3"><stop offset="0" stop-color="#fff"/><stop offset="0.18" stop-color="#b0e098"/><stop offset="0.6" stop-color="#5aab43"/><stop offset="1" stop-color="#5aab43"/></radialGradient><radialGradient id="sp6" cx="0.5" cy="0.5" r="0.5" fx="0.36" fy="0.3"><stop offset="0" stop-color="#fff"/><stop offset="0.18" stop-color="#dadada"/><stop offset="0.6" stop-color="#929292"/><stop offset="1" stop-color="#929292"/></radialGradient></defs>
<path d="M463.7 626.51L656.75 626.51" stroke="#929292" stroke-width="1.6"/>
<path d="M463.7 625.98L656.75 611.4" stroke="#e8a621" stroke-width="1.6"/>
<path d="M463.7 626.25L656.75 605.55" stroke="#dc4b4b" stroke-width="1.6"/>
<path d="M463.7 625.46L656.75 597.24" stroke="#a6cbef" stroke-width="1.6"/>
<path d="M463.7 625.46L656.75 598.18" stroke="#8f8bd0" stroke-width="1.6"/>
<path d="M463.7 625.2L656.75 595.09" stroke="#5aab43" stroke-width="1.6"/>
<path d="M463.7 627.81L656.75 503.43" stroke="#4a86c5" stroke-width="1.6"/>
<circle cx="463.7" cy="626.51" r="3.9" fill="url(#sp6)"/>
<circle cx="485.15" cy="626.51" r="3.9" fill="url(#sp6)"/>
<circle cx="506.6" cy="626.51" r="3.9" fill="url(#sp6)"/>
<circle cx="528.05" cy="626.51" r="3.9" fill="url(#sp6)"/>
<circle cx="549.5" cy="626.51" r="3.9" fill="url(#sp6)"/>
<circle cx="570.95" cy="626.51" r="3.9" fill="url(#sp6)"/>
<circle cx="592.4" cy="626.51" r="3.9" fill="url(#sp6)"/>
<circle cx="613.85" cy="626.51" r="3.9" fill="url(#sp6)"/>
<circle cx="635.3" cy="626.51" r="3.9" fill="url(#sp6)"/>
<circle cx="656.75" cy="626.51" r="3.9" fill="url(#sp6)"/>
<circle cx="463.7" cy="625.2" r="3.9" fill="url(#sp3)"/>
<circle cx="485.15" cy="625.72" r="3.9" fill="url(#sp3)"/>
<circle cx="506.6" cy="624.15" r="3.9" fill="url(#sp3)"/>
<circle cx="528.05" cy="622.59" r="3.9" fill="url(#sp3)"/>
<circle cx="549.5" cy="619.97" r="3.9" fill="url(#sp3)"/>
<circle cx="570.95" cy="618.4" r="3.9" fill="url(#sp3)"/>
<circle cx="592.4" cy="617.62" r="3.9" fill="url(#sp3)"/>
<circle cx="613.85" cy="615.27" r="3.9" fill="url(#sp3)"/>
<circle cx="635.3" cy="613.18" r="3.9" fill="url(#sp3)"/>
<circle cx="656.75" cy="611.19" r="3.9" fill="url(#sp3)"/>
<circle cx="463.7" cy="625.2" r="3.9" fill="url(#sp4)"/>
<circle cx="485.15" cy="625.2" r="3.9" fill="url(#sp4)"/>
<circle cx="506.6" cy="623.11" r="3.9" fill="url(#sp4)"/>
<circle cx="528.05" cy="621.54" r="3.9" fill="url(#sp4)"/>
<circle cx="549.5" cy="618.93" r="3.9" fill="url(#sp4)"/>
<circle cx="570.95" cy="616.99" r="3.9" fill="url(#sp4)"/>
<circle cx="592.4" cy="613.18" r="3.9" fill="url(#sp4)"/>
<circle cx="613.85" cy="606.02" r="3.9" fill="url(#sp4)"/>
<circle cx="635.3" cy="606.02" r="3.9" fill="url(#sp4)"/>
<circle cx="656.75" cy="605.08" r="3.9" fill="url(#sp4)"/>
<circle cx="463.7" cy="625.2" r="3.9" fill="url(#sp2)"/>
<circle cx="485.15" cy="622.59" r="3.9" fill="url(#sp2)"/>
<circle cx="506.6" cy="619.97" r="3.9" fill="url(#sp2)"/>
<circle cx="528.05" cy="616.31" r="3.9" fill="url(#sp2)"/>
<circle cx="549.5" cy="613.18" r="3.9" fill="url(#sp2)"/>
<circle cx="570.95" cy="610.04" r="3.9" fill="url(#sp2)"/>
<circle cx="592.4" cy="608.47" r="3.9" fill="url(#sp2)"/>
<circle cx="613.85" cy="603.77" r="3.9" fill="url(#sp2)"/>
<circle cx="635.3" cy="600.11" r="3.9" fill="url(#sp2)"/>
<circle cx="656.75" cy="596.97" r="3.9" fill="url(#sp2)"/>
<circle cx="463.7" cy="625.2" r="3.9" fill="url(#sp1)"/>
<circle cx="485.15" cy="623.11" r="3.9" fill="url(#sp1)"/>
<circle cx="506.6" cy="620.5" r="3.9" fill="url(#sp1)"/>
<circle cx="528.05" cy="617.36" r="3.9" fill="url(#sp1)"/>
<circle cx="549.5" cy="613.7" r="3.9" fill="url(#sp1)"/>
<circle cx="570.95" cy="610.56" r="3.9" fill="url(#sp1)"/>
<circle cx="592.4" cy="607.95" r="3.9" fill="url(#sp1)"/>
<circle cx="613.85" cy="604.81" r="3.9" fill="url(#sp1)"/>
<circle cx="635.3" cy="601.16" r="3.9" fill="url(#sp1)"/>
<circle cx="656.75" cy="598.02" r="3.9" fill="url(#sp1)"/>
<circle cx="463.7" cy="624.68" r="3.9" fill="url(#sp5)"/>
<circle cx="485.15" cy="621.54" r="3.9" fill="url(#sp5)"/>
<circle cx="506.6" cy="619.45" r="3.9" fill="url(#sp5)"/>
<circle cx="528.05" cy="614.75" r="3.9" fill="url(#sp5)"/>
<circle cx="549.5" cy="613.18" r="3.9" fill="url(#sp5)"/>
<circle cx="570.95" cy="609.78" r="3.9" fill="url(#sp5)"/>
<circle cx="592.4" cy="606.49" r="3.9" fill="url(#sp5)"/>
<circle cx="613.85" cy="602.62" r="3.9" fill="url(#sp5)"/>
<circle cx="635.3" cy="598.54" r="3.9" fill="url(#sp5)"/>
<circle cx="656.75" cy="595.09" r="3.9" fill="url(#sp5)"/>
<circle cx="463.7" cy="625.2" r="3.9" fill="url(#sp0)"/>
<circle cx="485.15" cy="614.38" r="3.9" fill="url(#sp0)"/>
<circle cx="506.6" cy="602.72" r="3.9" fill="url(#sp0)"/>
<circle cx="528.05" cy="590.18" r="3.9" fill="url(#sp0)"/>
<circle cx="549.5" cy="574.71" r="3.9" fill="url(#sp0)"/>
<circle cx="570.95" cy="563" r="3.9" fill="url(#sp0)"/>
<circle cx="592.4" cy="546.27" r="3.9" fill="url(#sp0)"/>
<circle cx="613.85" cy="532.68" r="3.9" fill="url(#sp0)"/>
<circle cx="635.3" cy="518.57" r="3.9" fill="url(#sp0)"/>
<circle cx="656.75" cy="503.41" r="3.9" fill="url(#sp0)"/>
<rect x="461.6" y="468.2" width="216.8" height="159" fill="none" stroke="#111" stroke-width="1.6"/>
<circle cx="538.4" cy="478.3" r="3.7" fill="url(#sp0)"/>
<text x="551.6" y="481.6" font-size="9.2" text-anchor="start" font-weight="bold" class="k">RB</text>
<circle cx="538.4" cy="490" r="3.7" fill="url(#sp1)"/>
<text x="551.6" y="493.3" font-size="9.2" text-anchor="start" font-weight="bold" class="k">1</text>
<circle cx="538.4" cy="501.7" r="3.7" fill="url(#sp2)"/>
<text x="551.6" y="505" font-size="9.2" text-anchor="start" font-weight="bold" class="k">4</text>
<circle cx="538.4" cy="513.6" r="3.7" fill="url(#sp3)"/>
<text x="551.6" y="516.9" font-size="9.2" text-anchor="start" font-weight="bold" class="k">6a</text>
<circle cx="538.4" cy="525.3" r="3.7" fill="url(#sp4)"/>
<text x="551.6" y="528.6" font-size="9.2" text-anchor="start" font-weight="bold" class="k">6b</text>
<circle cx="538.4" cy="537" r="3.7" fill="url(#sp5)"/>
<text x="551.6" y="540.3" font-size="9.2" text-anchor="start" font-weight="bold" class="k">6c</text>
<circle cx="538.4" cy="548.6" r="3.7" fill="url(#sp6)"/>
<text x="551.6" y="551.9" font-size="9.2" text-anchor="start" font-weight="bold" class="k">7</text>
<text x="469.5" y="483.1" font-size="10.5" font-style="italic" fill="#111" class="k">Φ</text>
<text x="477.8" y="486.70000000000005" font-size="6" fill="#111" class="k">Δ</text>
<text x="482" y="477.8" font-size="6.6" fill="#111" class="k">RB</text>
<text x="493.9" y="483.1" font-size="10" text-anchor="start" class="k">= 0.54</text>
<text x="469.5" y="499.8" font-size="10.5" font-style="italic" fill="#111" class="k">Φ</text>
<text x="477.8" y="503.40000000000003" font-size="6" fill="#111" class="k">Δ</text>
<text x="482" y="494.5" font-size="6.6" fill="#111" class="k">1</text>
<text x="488.2" y="499.8" font-size="10" text-anchor="start" class="k">= 0.15</text>
<text x="469.5" y="516.4" font-size="10.5" font-style="italic" fill="#111" class="k">Φ</text>
<text x="477.8" y="520.0" font-size="6" fill="#111" class="k">Δ</text>
<text x="482" y="511.09999999999997" font-size="6.6" fill="#111" class="k">4</text>
<text x="488.2" y="516.4" font-size="10" text-anchor="start" class="k">= 0.16</text>
<text x="469.5" y="535.6" font-size="10.5" font-style="italic" fill="#111" class="k">Φ</text>
<text x="477.8" y="539.2" font-size="6" fill="#111" class="k">Δ</text>
<text x="482" y="530.3000000000001" font-size="6.6" fill="#111" class="k">6a</text>
<text x="493.9" y="535.6" font-size="10" text-anchor="start" class="k">= 0.07</text>
<text x="469.5" y="552.2" font-size="10.5" font-style="italic" fill="#111" class="k">Φ</text>
<text x="477.8" y="555.8000000000001" font-size="6" fill="#111" class="k">Δ</text>
<text x="482" y="546.9000000000001" font-size="6.6" fill="#111" class="k">6b</text>
<text x="493.9" y="552.2" font-size="10" text-anchor="start" class="k">= 0.12</text>
<text x="469.5" y="569.2" font-size="10.5" font-style="italic" fill="#111" class="k">Φ</text>
<text x="477.8" y="572.8000000000001" font-size="6" fill="#111" class="k">Δ</text>
<text x="482" y="563.9000000000001" font-size="6.6" fill="#111" class="k">6c</text>
<text x="493.9" y="569.2" font-size="10" text-anchor="start" class="k">= 0.16</text>
<text x="469.5" y="587.2" font-size="10.5" font-style="italic" fill="#111" class="k">Φ</text>
<text x="477.8" y="590.8000000000001" font-size="6" fill="#111" class="k">Δ</text>
<text x="482" y="581.9000000000001" font-size="6.6" fill="#111" class="k">7</text>
<text x="488.2" y="587.2" font-size="10" text-anchor="start" class="k">= 0</text>
</g>
</svg></body></html>
